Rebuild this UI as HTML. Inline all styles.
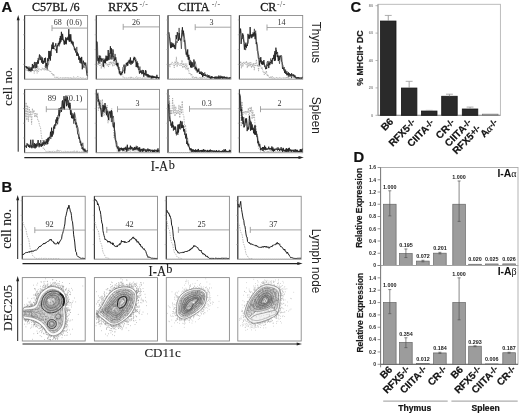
<!DOCTYPE html>
<html><head><meta charset="utf-8"><title>Figure</title>
<style>
html,body{margin:0;padding:0;background:#fff;}
body{width:520px;height:414px;overflow:hidden;}
svg{display:block;filter:blur(0.3px);}
</style></head>
<body>
<svg width="520" height="414" viewBox="0 0 520 414">
<rect width="520" height="414" fill="#fff"/>
<text x="1.6" y="11.7" font-family="'Liberation Sans', sans-serif" font-size="14.8" font-weight="bold" fill="#111" text-anchor="start" stroke="#111" stroke-width="0.2" >A</text>
<text x="32" y="10.6" font-family="'Liberation Serif', serif" font-size="12.1" font-weight="normal" fill="#1a1a1a" text-anchor="start" stroke="#1a1a1a" stroke-width="0.3" >C57BL /6</text>
<text x="108.3" y="10.6" font-family="'Liberation Serif', serif" font-size="12.1" font-weight="normal" fill="#1a1a1a" text-anchor="start" stroke="#1a1a1a" stroke-width="0.3" >RFX5</text>
<text x="139.4" y="7" font-family="'Liberation Serif', serif" font-size="7.8" font-weight="normal" fill="#444" text-anchor="start"  letter-spacing="0.5">-/-</text>
<text x="178.1" y="10.6" font-family="'Liberation Serif', serif" font-size="12.1" font-weight="normal" fill="#1a1a1a" text-anchor="start" stroke="#1a1a1a" stroke-width="0.3" >CIITA</text>
<text x="211.7" y="7" font-family="'Liberation Serif', serif" font-size="7.8" font-weight="normal" fill="#444" text-anchor="start"  letter-spacing="0.5">-/-</text>
<text x="260.2" y="10.6" font-family="'Liberation Serif', serif" font-size="12.1" font-weight="normal" fill="#1a1a1a" text-anchor="start" stroke="#1a1a1a" stroke-width="0.3" >CR</text>
<text x="277" y="7" font-family="'Liberation Serif', serif" font-size="7.8" font-weight="normal" fill="#444" text-anchor="start"  letter-spacing="0.5">-/-</text>
<rect x="24.6" y="15.5" width="63" height="63.7" fill="none" stroke="#8a8a8a" stroke-width="0.9"/>
<line x1="24.6" y1="15.5" x2="24.6" y2="79.2" stroke="#3a3a3a" stroke-width="1.1" />
<line x1="23" y1="64.39" x2="24.6" y2="64.39" stroke="#999" stroke-width="0.6" />
<line x1="23" y1="49.57" x2="24.6" y2="49.57" stroke="#999" stroke-width="0.6" />
<line x1="23" y1="34.76" x2="24.6" y2="34.76" stroke="#999" stroke-width="0.6" />
<line x1="23" y1="19.94" x2="24.6" y2="19.94" stroke="#999" stroke-width="0.6" />
<line x1="24.6" y1="79.2" x2="87.6" y2="79.2" stroke="#bbb" stroke-width="0.8" stroke-dasharray="1,1"/>
<rect x="96.3" y="15.5" width="63.2" height="63.7" fill="none" stroke="#8a8a8a" stroke-width="0.9"/>
<line x1="96.3" y1="15.5" x2="96.3" y2="79.2" stroke="#3a3a3a" stroke-width="1.1" />
<line x1="94.7" y1="64.39" x2="96.3" y2="64.39" stroke="#999" stroke-width="0.6" />
<line x1="94.7" y1="49.57" x2="96.3" y2="49.57" stroke="#999" stroke-width="0.6" />
<line x1="94.7" y1="34.76" x2="96.3" y2="34.76" stroke="#999" stroke-width="0.6" />
<line x1="94.7" y1="19.94" x2="96.3" y2="19.94" stroke="#999" stroke-width="0.6" />
<line x1="96.3" y1="79.2" x2="159.5" y2="79.2" stroke="#bbb" stroke-width="0.8" stroke-dasharray="1,1"/>
<rect x="168" y="15.5" width="62.9" height="63.7" fill="none" stroke="#8a8a8a" stroke-width="0.9"/>
<line x1="168" y1="15.5" x2="168" y2="79.2" stroke="#3a3a3a" stroke-width="1.1" />
<line x1="166.4" y1="64.39" x2="168" y2="64.39" stroke="#999" stroke-width="0.6" />
<line x1="166.4" y1="49.57" x2="168" y2="49.57" stroke="#999" stroke-width="0.6" />
<line x1="166.4" y1="34.76" x2="168" y2="34.76" stroke="#999" stroke-width="0.6" />
<line x1="166.4" y1="19.94" x2="168" y2="19.94" stroke="#999" stroke-width="0.6" />
<line x1="168" y1="79.2" x2="230.9" y2="79.2" stroke="#bbb" stroke-width="0.8" stroke-dasharray="1,1"/>
<rect x="239.4" y="15.5" width="63.3" height="63.7" fill="none" stroke="#8a8a8a" stroke-width="0.9"/>
<line x1="239.4" y1="15.5" x2="239.4" y2="79.2" stroke="#3a3a3a" stroke-width="1.1" />
<line x1="237.8" y1="64.39" x2="239.4" y2="64.39" stroke="#999" stroke-width="0.6" />
<line x1="237.8" y1="49.57" x2="239.4" y2="49.57" stroke="#999" stroke-width="0.6" />
<line x1="237.8" y1="34.76" x2="239.4" y2="34.76" stroke="#999" stroke-width="0.6" />
<line x1="237.8" y1="19.94" x2="239.4" y2="19.94" stroke="#999" stroke-width="0.6" />
<line x1="239.4" y1="79.2" x2="302.7" y2="79.2" stroke="#bbb" stroke-width="0.8" stroke-dasharray="1,1"/>
<rect x="24.6" y="89.4" width="63" height="63.3" fill="none" stroke="#8a8a8a" stroke-width="0.9"/>
<line x1="24.6" y1="89.4" x2="24.6" y2="152.7" stroke="#3a3a3a" stroke-width="1.1" />
<line x1="23" y1="137.98" x2="24.6" y2="137.98" stroke="#999" stroke-width="0.6" />
<line x1="23" y1="123.26" x2="24.6" y2="123.26" stroke="#999" stroke-width="0.6" />
<line x1="23" y1="108.54" x2="24.6" y2="108.54" stroke="#999" stroke-width="0.6" />
<line x1="23" y1="93.82" x2="24.6" y2="93.82" stroke="#999" stroke-width="0.6" />
<line x1="24.6" y1="152.7" x2="87.6" y2="152.7" stroke="#bbb" stroke-width="0.8" stroke-dasharray="1,1"/>
<rect x="96.3" y="89.4" width="63.2" height="63.3" fill="none" stroke="#8a8a8a" stroke-width="0.9"/>
<line x1="96.3" y1="89.4" x2="96.3" y2="152.7" stroke="#3a3a3a" stroke-width="1.1" />
<line x1="94.7" y1="137.98" x2="96.3" y2="137.98" stroke="#999" stroke-width="0.6" />
<line x1="94.7" y1="123.26" x2="96.3" y2="123.26" stroke="#999" stroke-width="0.6" />
<line x1="94.7" y1="108.54" x2="96.3" y2="108.54" stroke="#999" stroke-width="0.6" />
<line x1="94.7" y1="93.82" x2="96.3" y2="93.82" stroke="#999" stroke-width="0.6" />
<line x1="96.3" y1="152.7" x2="159.5" y2="152.7" stroke="#bbb" stroke-width="0.8" stroke-dasharray="1,1"/>
<rect x="168" y="89.4" width="62.9" height="63.3" fill="none" stroke="#8a8a8a" stroke-width="0.9"/>
<line x1="168" y1="89.4" x2="168" y2="152.7" stroke="#3a3a3a" stroke-width="1.1" />
<line x1="166.4" y1="137.98" x2="168" y2="137.98" stroke="#999" stroke-width="0.6" />
<line x1="166.4" y1="123.26" x2="168" y2="123.26" stroke="#999" stroke-width="0.6" />
<line x1="166.4" y1="108.54" x2="168" y2="108.54" stroke="#999" stroke-width="0.6" />
<line x1="166.4" y1="93.82" x2="168" y2="93.82" stroke="#999" stroke-width="0.6" />
<line x1="168" y1="152.7" x2="230.9" y2="152.7" stroke="#bbb" stroke-width="0.8" stroke-dasharray="1,1"/>
<rect x="239.4" y="89.4" width="63.3" height="63.3" fill="none" stroke="#8a8a8a" stroke-width="0.9"/>
<line x1="239.4" y1="89.4" x2="239.4" y2="152.7" stroke="#3a3a3a" stroke-width="1.1" />
<line x1="237.8" y1="137.98" x2="239.4" y2="137.98" stroke="#999" stroke-width="0.6" />
<line x1="237.8" y1="123.26" x2="239.4" y2="123.26" stroke="#999" stroke-width="0.6" />
<line x1="237.8" y1="108.54" x2="239.4" y2="108.54" stroke="#999" stroke-width="0.6" />
<line x1="237.8" y1="93.82" x2="239.4" y2="93.82" stroke="#999" stroke-width="0.6" />
<line x1="239.4" y1="152.7" x2="302.7" y2="152.7" stroke="#bbb" stroke-width="0.8" stroke-dasharray="1,1"/>
<line x1="18.2" y1="18" x2="18.2" y2="151.7" stroke="#222" stroke-width="1" />
<path d="M16.7,20.3 L18.2,15 L19.7,20.3 Z" fill="#222"/>
<line x1="24.3" y1="157.6" x2="300.8" y2="157.6" stroke="#222" stroke-width="1.1" />
<path d="M298.5,156.1 L303.8,157.6 L298.5,159.1 Z" fill="#222"/>
<text x="0" y="0" font-family="'Liberation Serif', serif" font-size="13.2" font-weight="normal" fill="#1a1a1a" text-anchor="start" stroke="#1a1a1a" stroke-width="0.1" transform="translate(12.3,105.9) rotate(-90)">cell no.</text>
<text x="150.7" y="171.1" font-family="'Liberation Serif', serif" font-size="12.6" font-weight="normal" fill="#1a1a1a" text-anchor="start" stroke="#1a1a1a" stroke-width="0.1" transform="translate(150.7,171.1) scale(1,1.08) translate(-150.7,-171.1)">I-A</text>
<text x="168.7" y="169.1" font-family="'Liberation Serif', serif" font-size="12.3" font-weight="normal" fill="#1a1a1a" text-anchor="start" stroke="#1a1a1a" stroke-width="0.1" >b</text>
<text x="0" y="0" font-family="'Liberation Sans', sans-serif" font-size="12.2" font-weight="normal" fill="#222" text-anchor="start"  transform="translate(311.8,21.8) rotate(90) scale(0.95,1)">Thymus</text>
<text x="0" y="0" font-family="'Liberation Sans', sans-serif" font-size="12.2" font-weight="normal" fill="#222" text-anchor="start"  transform="translate(311.8,96.8) rotate(90) scale(0.98,1)">Spleen</text>
<polyline points="25.3,70.52 26.05,68.96 26.79,70.46 27.54,69.36 28.28,71.89 29.03,69.57 29.78,72.26 30.52,69.14 31.27,72.11 32.02,69.49 32.76,70.8 33.51,69.62 34.25,73.39 35,68.26 35.71,71.02 36.43,68.93 37.14,73.35 37.86,66.23 38.57,71.55 39.29,68.64 40,70.14 40.71,69.29 41.43,70.38 42.14,67.83 42.86,69.77 43.57,68.21 44.29,70.43 45,65.33 45.71,70.28 46.43,66.86 47.14,71.05 47.86,68.74 48.57,71.3 49.29,70.7 50,72.22 50.75,71.13 51.5,73.75 52.25,73.01 53,75.72 53.75,73.82 54.5,77.29 55.25,77.18 56,78.1 56.7,76.75 57.41,77.84 58.11,76.88 58.82,78.4 59.52,77.58 60.23,77.88 60.93,77.24 61.64,78.16 62.34,77.78 63.05,78.4 63.75,77.26 64.45,78.3 65.16,77.19 65.86,78.4 66.57,77.6 67.27,77.94 67.98,76.98 68.68,78.29 69.39,77.47 70.09,78.19 70.8,77.05 71.5,78.4 72.2,77.56 72.91,78.4 73.61,76.59 74.32,78.4 75.02,77.78 75.73,78.4 76.43,77.58 77.14,78.4 77.84,76.36 78.55,78.19 79.25,77.51 79.95,78.4 80.66,77.37 81.36,78.4 82.07,77.89 82.77,78.14 83.48,77.72 84.18,78.4 84.89,77.62 85.59,78.32 86.3,77.66 87,78.4" fill="none" stroke="#8c8c8c" stroke-width="0.6" stroke-linejoin="round" stroke-dasharray="1.5,1"/>
<polyline points="96.8,67.33 97.55,61.52 98.29,65.37 99.04,58.88 99.78,65.65 100.53,61.81 101.27,68.7 102.02,63.52 102.76,66.65 103.51,60.6 104.25,68.18 105,62.57 105.7,64.39 106.4,63.16 107.1,65.69 107.8,63.69 108.5,66.97 109.2,62.28 109.9,65.08 110.6,61.3 111.3,64.07 112,61.71 112.75,66.53 113.5,60.52 114.25,65.75 115,61.53 115.75,65.72 116.5,65.34 117.25,66.65 118,62.59 118.75,69.42 119.5,66.87 120.25,74.27 121,71.68 121.75,74.7 122.5,73.93 123.25,77.9 124,77.56 124.7,77.9 125.4,77.69 126.1,78.21 126.8,77.68 127.5,78 128.2,77.4 128.9,77.81 129.6,77.28 130.3,78.21 131,76.42 131.7,78.05 132.4,77.53 133.1,78.09 133.8,77.83 134.5,78.4 135.2,77.62 135.9,78.12 136.6,76.61 137.3,78.4 138,77.11 138.7,78.04 139.4,77.61 140.1,78.05 140.8,77.61 141.5,78.33 142.2,77.72 142.9,78.26 143.6,76.33 144.3,78.16 145,77.57 145.7,78 146.4,77.8 147.1,77.99 147.8,76.21 148.5,78.27 149.2,77.32 149.9,78.4 150.6,77.93 151.3,78.4 152,77.45 152.7,78.4 153.4,76.93 154.1,78.21 154.8,77.78 155.5,78.38 156.2,77.32 156.9,78.4 157.6,77.33 158.3,78.4 159,77.58" fill="none" stroke="#8c8c8c" stroke-width="0.6" stroke-linejoin="round" stroke-dasharray="1.5,1"/>
<polyline points="168.5,67.87 169.22,63.54 169.94,67.1 170.67,63.61 171.39,64.5 172.11,61.93 172.83,64.37 173.56,63.77 174.28,67.98 175,61.28 175.7,64.76 176.4,56.87 177.1,66.98 177.8,61.63 178.5,64.69 179.2,63.66 179.9,65.83 180.6,63.42 181.3,65.66 182,60.04 182.8,68.09 183.6,63.13 184.4,67.7 185.2,63.3 186,69.56 186.8,63.67 187.6,70.06 188.4,67.68 189.2,73.98 190,73 190.8,75.3 191.6,73.56 192.4,77.99 193.2,76.57 194,78.4 194.7,77.1 195.4,77.93 196.11,76.41 196.81,78.4 197.51,77.74 198.21,78.23 198.91,77.53 199.62,78.1 200.32,76.77 201.02,78.4 201.72,77.03 202.42,78.4 203.12,76.82 203.83,77.96 204.53,77.33 205.23,78.4 205.93,77.77 206.63,77.94 207.34,76.89 208.04,78.04 208.74,76.32 209.44,78.14 210.14,76.64 210.85,78.4 211.55,77.68 212.25,78.31 212.95,77.9 213.65,78.4 214.36,77.87 215.06,78.4 215.76,77.89 216.46,78.4 217.16,76.98 217.87,78.4 218.57,77.52 219.27,78.4 219.97,76.77 220.67,78.4 221.38,76.73 222.08,78.4 222.78,77.21 223.48,77.99 224.18,77.87 224.88,78.01 225.59,77.62 226.29,78.14 226.99,76.89 227.69,78.02 228.39,77.67 229.1,78.4 229.8,77.88 230.5,78.4" fill="none" stroke="#8c8c8c" stroke-width="0.6" stroke-linejoin="round" stroke-dasharray="1.5,1"/>
<polyline points="240,65.44 240.73,61.21 241.45,68.27 242.18,62.45 242.91,66.62 243.64,61.94 244.36,64.02 245.09,61.91 245.82,64.43 246.55,60.94 247.27,68.06 248,62.34 248.7,66.4 249.4,62.53 250.1,66.34 250.8,62 251.5,67.98 252.2,63.7 252.9,67.06 253.6,63.05 254.3,70.13 255,63.15 255.71,65.76 256.43,59.4 257.14,66.61 257.86,64.54 258.57,71.11 259.29,63.77 260,66.71 260.71,65.25 261.43,69.12 262.14,67.1 262.86,71.61 263.57,71.08 264.29,74.95 265,71.89 265.71,73.98 266.43,70.68 267.14,76.12 267.86,74.36 268.57,77.19 269.29,77.19 270,78.4 270.71,76.56 271.42,78.13 272.13,76.1 272.84,78.4 273.56,77.32 274.27,78.4 274.98,77.73 275.69,78.21 276.4,77.19 277.11,78.4 277.82,77.77 278.53,78.04 279.24,77.27 279.96,77.87 280.67,77.72 281.38,78.4 282.09,77.62 282.8,78.4 283.51,77.81 284.22,78.4 284.93,77.33 285.64,78.4 286.36,77.15 287.07,78.33 287.78,76.22 288.49,78.33 289.2,77.62 289.91,78.4 290.62,77.67 291.33,77.99 292.04,77.62 292.76,78.4 293.47,77.31 294.18,78.18 294.89,77.54 295.6,78.4 296.31,76.86 297.02,78.4 297.73,77.58 298.44,78.17 299.16,77.88 299.87,78.24 300.58,77.4 301.29,78.4 302,77.36" fill="none" stroke="#8c8c8c" stroke-width="0.6" stroke-linejoin="round" stroke-dasharray="1.5,1"/>
<polyline points="25.3,116.88 26.08,102.4 26.87,120.25 27.65,105.37 28.43,121.81 29.22,107.3 30,116.91 30.8,110.63 31.6,124.45 32.4,108.48 33.2,113.23 34,110.09 34.75,117.32 35.5,113.32 36.25,117.2 37,112.96 37.83,120.6 38.67,120.72 39.5,125.54 40.5,127.2 41.5,137.17 42.4,140.04 43.3,149.02 44.2,148.72 45.1,150.71 46,151.38 46.71,151.5 47.41,151.37 48.12,151.6 48.83,150.54 49.53,151.83 50.24,150.71 50.95,151.84 51.66,151.37 52.36,151.85 53.07,150.8 53.78,151.9 54.48,151.49 55.19,151.9 55.9,151 56.6,151.9 57.31,149.64 58.02,151.9 58.72,150.43 59.43,151.85 60.14,150.61 60.84,151.9 61.55,151.23 62.26,151.9 62.97,151.49 63.67,151.9 64.38,151.15 65.09,151.65 65.79,151.25 66.5,151.9 67.21,151.03 67.91,151.9 68.62,150.99 69.33,151.77 70.03,151.24 70.74,151.88 71.45,151.06 72.16,151.9 72.86,151.19 73.57,151.85 74.28,150.27 74.98,151.9 75.69,151.63 76.4,151.8 77.1,150.34 77.81,151.9 78.52,151.3 79.22,151.9 79.93,151.78 80.64,151.9 81.34,151.69 82.05,151.9 82.76,151.22 83.47,151.9 84.17,151.78 84.88,151.9 85.59,151.53 86.29,151.9 87,151.77" fill="none" stroke="#8a8a8a" stroke-width="0.6" stroke-linejoin="round" stroke-dasharray="1.5,1"/>
<polyline points="96.8,101.55 97.6,96.84 98.4,110.48 99.2,103.08 100,108.03 100.8,99.8 101.6,111.91 102.4,99.13 103.2,115.48 104,108.8 104.8,115.28 105.6,112.04 106.4,113.95 107.2,105.02 108,123.16 108.75,110.59 109.5,120.46 110.25,110.81 111,116.99 111.75,108.59 112.5,126.76 113.25,123.83 114,138.02 114.83,133.55 115.67,143.15 116.5,140.65 117.25,151.34 118,149.18 118.71,151.28 119.41,148.77 120.12,150.55 120.83,150.21 121.53,151.3 122.24,149.67 122.95,151.9 123.66,149.15 124.36,151.9 125.07,149.99 125.78,151.88 126.48,149.35 127.19,150.75 127.9,150.67 128.6,151.27 129.31,148.9 130.02,151.9 130.72,150.76 131.43,151.04 132.14,150.5 132.84,150.95 133.55,150.09 134.26,151.69 134.97,150.61 135.67,151.1 136.38,150.36 137.09,151.25 137.79,148.44 138.5,151.9 139.21,151.15 139.91,151.9 140.62,151.07 141.33,151.42 142.03,150.12 142.74,151.57 143.45,151.13 144.16,151.8 144.86,150.97 145.57,151.51 146.28,150.87 146.98,151.65 147.69,151.52 148.4,151.9 149.1,151.42 149.81,151.9 150.52,150.8 151.22,151.9 151.93,151.26 152.64,151.9 153.34,151.67 154.05,151.9 154.76,151.71 155.47,151.9 156.17,151.57 156.88,151.9 157.59,151.64 158.29,151.9 159,151.74" fill="none" stroke="#8a8a8a" stroke-width="0.6" stroke-linejoin="round" stroke-dasharray="1.5,1"/>
<polyline points="168.5,114.57 169.33,94.87 170.17,114.57 171,109.59 171.8,114.52 172.6,98.1 173.4,113.48 174.2,104.7 175,116.31 175.8,106.57 176.6,114.54 177.4,110.46 178.2,113.99 179,104.86 179.8,117.9 180.6,105.95 181.4,113.71 182.2,100.99 183,114.24 183.83,115.9 184.67,127.7 185.5,124.88 186.33,133.41 187.17,139.18 188,146.44 189,146.64 190,151.8 190.71,149.19 191.42,151.9 192.13,150.99 192.84,151.29 193.55,150.57 194.26,151.9 194.97,150.31 195.68,151.72 196.39,150.56 197.11,151.76 197.82,150.35 198.53,151.9 199.24,151.09 199.95,151.78 200.66,150.34 201.37,151.19 202.08,150.87 202.79,151.9 203.5,150.14 204.21,151.7 204.92,149.14 205.63,151.26 206.34,150.57 207.05,151.88 207.76,151.28 208.47,151.9 209.18,149.85 209.89,151.9 210.61,150.41 211.32,151.9 212.03,150.17 212.74,151.9 213.45,151.15 214.16,151.56 214.87,151.31 215.58,151.65 216.29,150.81 217,151.62 217.71,150.64 218.42,151.68 219.13,151.45 219.84,151.9 220.55,151.54 221.26,151.9 221.97,151.62 222.68,151.9 223.39,150.85 224.11,151.9 224.82,151.7 225.53,151.9 226.24,151.41 226.95,151.9 227.66,151.61 228.37,151.9 229.08,151.54 229.79,151.9 230.5,150.76" fill="none" stroke="#8a8a8a" stroke-width="0.6" stroke-linejoin="round" stroke-dasharray="1.5,1"/>
<polyline points="239.8,110.24 240.53,107.42 241.27,126.5 242,101.5 242.8,115.03 243.6,111.4 244.4,113.52 245.2,110.64 246,114.33 246.8,110.87 247.6,112.95 248.4,108.02 249.2,122.73 250,107.02 250.7,112.2 251.4,106.93 252.1,119.09 252.8,110.36 253.5,117.57 254.33,113.91 255.17,127.3 256,125.62 256.83,133.58 257.67,140.17 258.5,148.48 259.5,147.94 260.5,151.47 261.2,150.45 261.91,151.11 262.61,150.23 263.31,151.9 264.02,150.36 264.72,151.9 265.42,150.46 266.13,151.19 266.83,150.89 267.53,151.9 268.24,150.75 268.94,151.9 269.64,150.41 270.35,151.12 271.05,151.11 271.75,151.9 272.46,149.76 273.16,151.9 273.86,149.53 274.57,151.9 275.27,151.1 275.97,151.66 276.68,150.93 277.38,151.9 278.08,151.12 278.79,151.9 279.49,150.85 280.19,151.9 280.9,150.25 281.6,151.9 282.31,151.16 283.01,151.9 283.71,151.14 284.42,151.68 285.12,149.83 285.82,151.9 286.53,151.07 287.23,151.9 287.93,151.21 288.64,151.9 289.34,150.85 290.04,151.84 290.75,151.5 291.45,151.9 292.15,151.57 292.86,151.9 293.56,151.45 294.26,151.8 294.97,151.7 295.67,151.9 296.37,151.2 297.08,151.9 297.78,151.59 298.48,151.9 299.19,151.41 299.89,151.83 300.59,151.42 301.3,151.9 302,151.61" fill="none" stroke="#8a8a8a" stroke-width="0.6" stroke-linejoin="round" stroke-dasharray="1.5,1"/>
<polyline points="25.3,66.65 25.84,66.21 26.39,68.22 26.93,66.6 27.48,67.94 28.02,67.94 28.57,69.48 29.11,68.31 29.66,70.93 30.2,69.76 30.74,70.26 31.29,68.22 31.83,70.25 32.38,63.97 32.92,68.2 33.47,65.32 34.01,68.08 34.56,65.01 35.1,62.14 35.64,65.74 36.19,68.02 36.73,62.16 37.28,63.78 37.82,60.43 38.37,63.68 38.91,58.57 39.46,54.49 40,57.03 40.55,59.7 41.1,58.79 41.65,62.62 42.2,57.45 42.75,63.81 43.3,60.83 43.85,62.67 44.4,58.17 44.95,61.71 45.5,57.69 46.05,66.32 46.6,63.19 47.15,66.45 47.7,58.27 48.25,61.16 48.8,50.93 49.35,58.83 49.9,51.07 50.4,60.55 50.9,51.14 51.4,49.65 51.9,44.62 52.4,48.88 53,42.67 53.6,48.99 54.2,45.93 54.8,46.21 55.3,46.28 55.8,43.26 56.3,47.4 56.8,53.04 57.3,45.27 57.8,45.86 58.3,42.93 58.8,44.72 59.3,41.39 59.8,44.17 60.33,35.96 60.87,41.8 61.4,31.82 61.95,40.1 62.5,34.26 63.05,39.85 63.6,39.98 64.15,44.46 64.7,40.99 65.21,43.97 65.72,37.29 66.24,44.28 66.75,38.24 67.26,39.79 67.78,37.51 68.29,40.36 68.8,29.18 69.3,41.81 69.8,34.25 70.3,41.48 70.8,34.31 71.3,43.42 71.84,40.77 72.39,43.7 72.93,42.24 73.48,46.11 74.02,47.31 74.57,50.26 75.11,48.51 75.66,52.42 76.2,51.52 76.75,55.81 77.3,52.28 77.85,55.92 78.4,54.3 78.95,59.86 79.5,57.7 80.05,62.94 80.6,58.04 81.15,63.56 81.7,56.93 82.25,69.29 82.8,64.79 83.4,60.7 84,64.6 84.6,64.55 85.2,62.8 85.75,66.38 86.3,69.82 86.85,75.1 87.4,76.13" fill="none" stroke="#141414" stroke-width="0.8" stroke-linejoin="round" />
<polyline points="25.9,67.63 26.51,66.39 27.12,68.93 27.74,67.22 28.35,70.88 28.96,66.5 29.58,70.81 30.19,67.34 30.8,71.48 31.41,67.24 32.02,70.87 32.64,67.63 33.25,68.2 33.86,64.81 34.48,61.92 35.09,65.51 35.7,68.28 36.31,64.89 36.93,67.38 37.54,62.79 38.15,58 38.76,60.13 39.38,59.82 39.99,55.12 40.6,59.31 41.26,56.5 41.92,60.25 42.58,60.09 43.24,63.99 43.9,60.9 44.56,62.47 45.22,61.07 45.88,68.02 46.54,63.03 47.2,69.32 47.86,65.33 48.52,64.74 49.18,58.7 49.84,58.03 50.5,51.67 51.12,56.03 51.75,47.75 52.38,48.7 53,42.34 53.8,49.08 54.6,48.49 55.4,50.37 56.02,49.2 56.65,52.22 57.27,46.14 57.9,46.27 58.52,43.21 59.15,46.41 59.77,38.16 60.4,42.8 61.2,38.1 62,39.87 62.66,33.72 63.32,40.87 63.98,39.82 64.64,44.76 65.3,39.84 65.98,43.24 66.67,38.25 67.35,37.53 68.03,36.66 68.72,39.59 69.4,35.07 70.02,39.03 70.65,36.78 71.27,41.94 71.9,40.93 72.51,45.26 73.12,41.64 73.74,46.29 74.35,46.64 74.96,49.38 75.57,49.5 76.19,51.89 76.8,46.92 77.46,54.38 78.12,53.26 78.78,59.3 79.44,56.36 80.1,60.76 80.76,58.39 81.42,56.96 82.08,62.5 82.74,66.46 83.4,65.6 84,68.06 84.6,62.32 85.2,63.95 85.8,62.74 86.53,66.62 87.27,72.98" fill="none" stroke="#262626" stroke-width="0.6" stroke-linejoin="round" />
<polyline points="96.8,41.08 97.3,55.67 97.85,60.92 98.4,58.05 98.95,63.43 99.5,56.33 100.05,59.26 100.6,57.97 101.15,61.92 101.7,58.82 102.25,60.23 102.8,60.56 103.35,66.8 103.9,60.14 104.43,62.83 104.97,58.7 105.5,63.13 106.03,55.67 106.57,60.49 107.1,56.03 107.65,60.52 108.2,50 108.75,59.61 109.3,53.44 109.85,53.64 110.4,46.24 110.9,53.87 111.4,48.29 111.9,59.48 112.4,54.74 112.9,49.35 113.5,52.35 114.1,61.2 114.7,58.66 115.3,59.9 115.8,57.3 116.3,65.03 116.8,63.3 117.3,66.37 117.8,62.96 118.3,69.15 118.8,68.99 119.3,73.48 119.8,71.11 120.3,74.86 120.85,73.15 121.4,74.4 121.95,71.73 122.5,73.1 123.05,67.36 123.6,66.78 124.13,64.59 124.67,73.41 125.2,66.18 125.73,66.2 126.27,62.92 126.8,64.76 127.3,62.29 127.8,65.68 128.3,60.86 128.8,61.48 129.3,59.76 129.85,63.82 130.4,57.45 130.95,64.79 131.5,61.12 132.05,63.35 132.6,61.19 133.12,62.61 133.65,58.18 134.17,59.91 134.7,57.16 135.2,61.25 135.7,60.19 136.2,67.06 136.7,62.22 137.25,67.22 137.8,63.02 138.35,69.43 138.9,69.11 139.45,73.63 140,70.79 140.54,72.63 141.09,71 141.63,73.36 142.18,72.43 142.72,73.69 143.27,70.07 143.81,76.6 144.36,73.02 144.9,74.39 145.44,70.2 145.99,75.67 146.53,74.01 147.08,76.53 147.62,74.26 148.17,77.18 148.71,75 149.26,77.04 149.8,75.62 150.3,76.84 150.8,76.19 151.3,78.4 151.8,75.85 152.3,77.8 152.8,75.94 153.3,77.72 153.8,76.54 154.3,77.79 154.8,76.38 155.33,78.01 155.85,76.67 156.38,78.4 156.9,74.82 157.43,77.93 157.95,76.99 158.47,78.4 159,77.02" fill="none" stroke="#141414" stroke-width="0.8" stroke-linejoin="round" />
<polyline points="97.4,42.05 97.9,57.13 98.56,60.06 99.22,55.22 99.88,61.56 100.54,55.72 101.2,60.51 101.86,58.18 102.52,59.99 103.18,58.39 103.84,61.46 104.5,60.68 105.14,62.63 105.78,58.62 106.42,61.13 107.06,58.61 107.7,60.38 108.36,57.81 109.02,60.05 109.68,54.4 110.34,59.33 111,51.26 111.62,57.34 112.25,53.92 112.88,56.75 113.5,56.01 114.3,58.96 115.1,53.93 115.9,60.08 116.52,60.47 117.15,64.61 117.77,63.77 118.4,68.44 119.02,67.36 119.65,71.06 120.27,73.43 120.9,75.46 121.56,74.13 122.22,73.09 122.88,71.53 123.54,70.99 124.2,69.56 124.84,70.64 125.48,67.29 126.12,66.59 126.76,63.38 127.4,66.04 128.03,62.22 128.65,62.99 129.28,60.8 129.9,62.64 130.56,60.64 131.22,62.89 131.88,60.32 132.54,63.8 133.2,60.96 133.9,56.8 134.6,57.15 135.3,59.03 135.97,58.77 136.63,65.12 137.3,61.28 137.96,67.97 138.62,66.2 139.28,70.02 139.94,66.55 140.6,71.8 141.21,70.06 141.82,74.3 142.44,69.87 143.05,73.13 143.66,71.71 144.28,74.42 144.89,73.28 145.5,75.16 146.11,70.6 146.72,74.49 147.34,74.22 147.95,76.11 148.56,74.33 149.18,77.5 149.79,75.29 150.4,77.28 151.03,75.74 151.65,76.54 152.28,75.65 152.9,78.3 153.53,75.91 154.15,78 154.78,76.89 155.4,77.8 156.1,77.22 156.8,77.83 157.5,77.3 158.2,78.4 158.9,77.31" fill="none" stroke="#262626" stroke-width="0.6" stroke-linejoin="round" />
<polyline points="168.5,33.1 169.03,32.56 169.57,36.75 170.1,43.26 170.6,47.87 171.1,42.22 171.6,47.56 172.1,43.65 172.6,46.9 173.2,43.92 173.8,47.26 174.4,44.96 175,49.07 175.57,45.13 176.13,35.07 176.7,39.14 177.3,32.13 177.9,36.67 178.5,40.59 179.1,33.01 179.67,39.52 180.23,38.75 180.8,40.58 181.33,38.75 181.87,32.82 182.4,27.25 182.97,34.33 183.53,30.71 184.1,41.55 184.63,40.45 185.17,49.27 185.7,49.4 186.2,54.67 186.7,52.8 187.2,56.75 187.7,49.42 188.2,59.6 188.8,54.8 189.4,65.06 190,61.98 190.6,67.38 191.15,61.56 191.7,67.73 192.25,62.25 192.8,67.3 193.35,66.27 193.9,59.5 194.45,62.98 195,69.22 195.55,66.73 196.1,70.54 196.65,67.81 197.2,72.51 197.75,69.71 198.3,71.45 198.85,68.53 199.4,73.92 199.95,72.26 200.5,74.02 201.04,71.42 201.59,75.07 202.13,72.06 202.68,77.02 203.22,73.19 203.77,75.95 204.31,74.95 204.86,75.93 205.4,74.4 205.94,76.39 206.49,75.71 207.03,76.43 207.58,75.84 208.12,77.44 208.67,75.49 209.21,77.31 209.76,77.11 210.3,78.4 210.8,77.09 211.3,78.4 211.8,76.12 212.3,78.17 212.8,77.27 213.3,77.71 213.8,77.21 214.3,78.4 214.8,76.88 215.3,78.4 215.81,77.17 216.31,78.4 216.82,77.51 217.33,78.4 217.83,77.32 218.34,78.4 218.85,75.55 219.35,78.4 219.86,77.58 220.37,78.4 220.87,76.73 221.38,78.16 221.89,76.45 222.39,78.4 222.9,76.56 223.41,78.26 223.91,76.65 224.42,78.23 224.93,77.25 225.43,78.27 225.94,77.33 226.45,78.4 226.95,77.84 227.46,78.4 227.97,77.69 228.47,78.38 228.98,77.66 229.49,78.4 229.99,77.23 230.5,78.4" fill="none" stroke="#141414" stroke-width="0.8" stroke-linejoin="round" />
<polyline points="169.1,36.48 169.9,38.22 170.7,48.16 171.32,45.03 171.95,45.66 172.57,42.82 173.2,44.38 173.8,43.54 174.4,47.34 175,46.8 175.6,49.18 176.45,41.44 177.3,42.7 177.9,39.35 178.5,40.67 179.1,27.91 179.7,37.54 180.55,38.92 181.4,48.86 182.2,30.07 183,36.33 183.85,33.44 184.7,38.73 185.5,44.15 186.3,54.06 186.92,51.64 187.55,55.57 188.17,57.01 188.8,59.64 189.4,57.17 190,62.26 190.6,60.29 191.2,65.22 191.86,63.4 192.52,65.05 193.18,65.29 193.84,66.78 194.5,64.6 195.16,61.53 195.82,64.57 196.48,69.66 197.14,69.48 197.8,71.87 198.46,70.8 199.12,71.85 199.78,72.13 200.44,73.74 201.1,73.25 201.71,74.91 202.32,74.23 202.94,74.94 203.55,73.33 204.16,75.15 204.78,72.32 205.39,75.93 206,74.9 206.61,76.18 207.22,74.4 207.84,77.07 208.45,75.27 209.06,77.5 209.68,75.36 210.29,78.32 210.9,76.4 211.53,78 212.15,76.58 212.78,78.02 213.4,77.12 214.03,77.94 214.65,76.77 215.28,78.4 215.9,76.23 216.51,78.4 217.12,76.29 217.72,78.26 218.33,77.24 218.94,78.4 219.55,76.38 220.16,78.4 220.76,75.61 221.37,78.02 221.98,76.74 222.59,78.39 223.2,77.02 223.8,78.24 224.41,76.46 225.02,78.4 225.63,76.9 226.24,78.4 226.84,76.79 227.45,78.21 228.06,77.82 228.67,78.4 229.28,77.99 229.88,78.4 230.49,77.84" fill="none" stroke="#262626" stroke-width="0.6" stroke-linejoin="round" />
<polyline points="240,33.13 240.55,28.62 241.1,43.96 241.63,38.26 242.17,38.33 242.7,33.35 243.27,38.23 243.83,42.67 244.4,49.63 244.9,44.31 245.4,47.03 245.9,42.67 246.4,47.78 246.9,44.72 247.43,46.03 247.97,33.86 248.5,38.49 249.05,35.12 249.6,38.6 250.15,27.03 250.7,36.37 251.25,34.42 251.8,38.22 252.35,34.05 252.9,36.86 253.45,33.45 254,36.34 254.55,32.16 255.1,39.15 255.63,33.53 256.17,44.07 256.7,42.16 257.23,50.61 257.77,51.58 258.3,58.45 258.8,58.45 259.3,65.45 259.8,60.38 260.3,62.25 260.8,57.14 261.3,64.13 261.8,61.46 262.3,64.87 262.8,61.38 263.3,64.27 263.9,60.03 264.5,66.59 265.1,66.23 265.7,69.2 266.2,67.6 266.7,68.8 267.2,61.8 267.7,61.37 268.2,61.18 268.75,68.07 269.3,62.79 269.85,65.11 270.4,62 270.95,63.33 271.5,60.25 272.1,64.12 272.7,58.01 273.3,59.15 273.9,54.93 274.4,61.03 274.9,51.13 275.4,60.55 275.9,47.66 276.4,54.04 276.9,52.59 277.4,57.06 277.9,55.15 278.4,60.97 278.9,56.01 279.43,59.97 279.97,55.56 280.5,56.63 281,56.21 281.5,61.3 282,62.43 282.5,68.9 283,67.69 283.55,68.59 284.1,69.27 284.65,72.87 285.2,70.6 285.75,73.95 286.3,72.7 286.83,75.25 287.37,73.49 287.9,75.34 288.43,72.33 288.97,75.51 289.5,73.29 290.02,75.01 290.55,74.45 291.07,76.02 291.6,73.25 292.12,75.42 292.65,74.87 293.18,76.41 293.7,74.42 294.3,77.26 294.9,75.82 295.5,78.21 296.1,77.52 296.62,78.4 297.13,77.4 297.65,78.4 298.17,76.99 298.68,78.4 299.2,78.06 299.72,78.4 300.23,77.74 300.75,78.4 301.27,77.97 301.78,78.4 302.3,76.8" fill="none" stroke="#141414" stroke-width="0.8" stroke-linejoin="round" />
<polyline points="240.6,28.77 241.7,38.15 242.5,39.07 243.3,34.73 244.15,41.1 245,45.2 245.62,50.12 246.25,45.2 246.88,45.74 247.5,44.14 248.3,43.07 249.1,34.88 249.76,38.21 250.42,34.26 251.08,37.7 251.74,34.97 252.4,35.73 253.06,32.22 253.72,35.43 254.38,28.83 255.04,34.67 255.7,30.69 256.5,42.91 257.3,44.75 258.1,52.86 258.9,56.27 259.53,59.55 260.15,58.09 260.78,62.15 261.4,60.22 262.03,63.55 262.65,61.76 263.28,64.55 263.9,62.65 264.7,64.91 265.5,65.84 266.3,69.03 266.93,64.31 267.55,65.97 268.18,63.61 268.8,64.46 269.46,61.57 270.12,62.75 270.78,58.45 271.44,62.16 272.1,60.72 272.9,57.73 273.7,57.34 274.5,53.32 275.12,54.22 275.75,56.85 276.38,50.02 277,53.47 277.62,52 278.25,60.75 278.88,59.01 279.5,63.81 280.3,56.4 281.1,55.04 281.73,55.9 282.35,64.39 282.98,64.78 283.6,70.35 284.26,66.99 284.92,73.08 285.58,69.5 286.24,73.45 286.9,71.02 287.54,73.69 288.18,73.56 288.82,77.13 289.46,74.43 290.1,76.64 290.8,74.34 291.5,78.06 292.2,74.3 292.9,75.4 293.6,75.14 294.3,75.9 294.9,75.03 295.5,77.16 296.1,77.08 296.7,78.4 297.32,77.37 297.94,78.38 298.56,77.82 299.18,78.4 299.8,77.41 300.42,78.4 301.04,77.67 301.66,78.4 302.28,78.23" fill="none" stroke="#262626" stroke-width="0.6" stroke-linejoin="round" />
<polyline points="25.3,146.64 25.84,145.6 26.39,147.85 26.93,144.82 27.48,144.79 28.02,143.96 28.57,146.83 29.11,144.83 29.66,147.12 30.2,145.99 30.74,139.79 31.29,145.37 31.83,148.24 32.38,146.23 32.92,139.7 33.47,144.97 34.01,146.66 34.56,143.2 35.1,148.44 35.6,143.97 36.1,147.67 36.6,144.57 37.1,146.5 37.6,143 38.1,140.02 38.6,142.9 39.1,147.28 39.6,143.15 40.1,145.67 40.64,144.27 41.19,146.97 41.73,143.69 42.28,146.02 42.82,142.36 43.37,144.42 43.91,140.37 44.46,143.7 45,142.3 45.55,144.02 46.1,141.23 46.65,142.62 47.2,138.96 47.75,144.06 48.3,137.59 48.85,140.51 49.4,136.92 49.95,137.97 50.5,131.75 51.05,136.88 51.6,127.65 52.13,136.36 52.67,131.1 53.2,133.07 53.73,126.71 54.27,128.29 54.8,124.33 55.35,125.42 55.9,119.55 56.45,122.98 57,116.99 57.5,120.74 58,115.1 58.5,115.28 59,108.37 59.5,116.24 60,108.16 60.5,109.2 61,107.39 61.5,111.85 62,105.88 62.5,100.4 63,103.3 63.5,108.39 64,96.11 64.5,109.74 65,98.86 65.5,101.04 66,95.59 66.5,106.21 67,101.72 67.5,97.12 68,103.36 68.5,107.46 69,102.78 69.5,109.9 70,102.89 70.5,114.61 71,110.18 71.5,118.08 72,113.18 72.5,118 73,116.28 73.5,118.36 74,113.61 74.5,120.56 75,119.04 75.5,124.38 76,123.13 76.5,122.72 77.1,127.74 77.7,134.18 78.3,134.15 78.87,138.71 79.43,137.3 80,142.69 80.5,141.47 81,145.51 81.5,143.83 82.03,148.9 82.55,147.33 83.07,150.18 83.6,148.67 84.2,150.68 84.8,149.26 85.4,151.21 86,150.73 86.7,151.41 87.4,150.3" fill="none" stroke="#141414" stroke-width="0.8" stroke-linejoin="round" />
<polyline points="25.9,146.47 26.51,144.3 27.12,142.99 27.74,145.93 28.35,146.54 28.96,146.5 29.58,147.85 30.19,145.38 30.8,147.59 31.41,145.16 32.02,147.04 32.64,146.11 33.25,148.05 33.86,145.3 34.48,148.04 35.09,144.85 35.7,146.42 36.33,143.23 36.95,145.37 37.58,144.78 38.2,145.44 38.83,143.42 39.45,145.17 40.08,144.88 40.7,140.05 41.31,143.42 41.93,145.26 42.54,144.3 43.15,144.79 43.76,143.75 44.38,145.73 44.99,141.85 45.6,144.57 46.26,139.19 46.92,144.68 47.58,138.2 48.24,141.85 48.9,138.87 49.56,137 50.22,137.6 50.88,139.04 51.54,133.75 52.2,136.58 52.84,132.15 53.48,134.46 54.12,125.27 54.76,128.73 55.4,125.04 56.13,125.64 56.87,118.01 57.6,124.3 58.27,118.23 58.93,118.53 59.6,112.52 60.27,112.54 60.93,107.51 61.6,109.79 62.27,101 62.93,109.65 63.6,105.04 64.35,104.58 65.1,102.39 66.1,99.18 67.1,103.87 67.85,105.24 68.6,100.27 69.35,106.41 70.1,104.98 70.85,111.46 71.6,111.92 72.35,118.81 73.1,115 73.77,123.72 74.43,112.33 75.1,114.6 75.77,118.39 76.43,127.59 77.1,125.48 78,127.84 78.9,132.85 79.75,139.29 80.6,140.55 81.35,144.78 82.1,146.26 82.8,142.8 83.5,148.52 84.2,151.9 84.8,148.54 85.4,151.74 86,150.39 86.6,151.25 87.3,150.71" fill="none" stroke="#262626" stroke-width="0.6" stroke-linejoin="round" />
<polyline points="96.8,93.96 97.45,93.87 98.1,101.8 98.63,99.19 99.17,104.8 99.7,102.42 100.27,107.98 100.83,109.99 101.4,116.49 101.93,112.92 102.47,111.79 103,104.78 103.5,111.47 104,105.66 104.5,109.62 105,103.04 105.5,108.35 106.03,107.71 106.57,115.25 107.1,110.83 107.6,112.49 108.1,114.79 108.6,120.03 109.1,111.68 109.6,113.14 110.2,111.26 110.8,117.71 111.4,110.25 112,117.36 112.57,119.36 113.13,125.42 113.7,127.34 114.23,122.5 114.77,136.19 115.3,140.24 115.87,140.91 116.43,146.65 117,147.4 117.55,147.98 118.1,146.31 118.65,151.38 119.2,148.33 119.75,151.36 120.3,148.02 120.8,149.08 121.3,147.63 121.8,150.01 122.3,148.52 122.8,150.7 123.3,148.46 123.8,150.61 124.3,147.96 124.8,148.88 125.3,147.24 125.8,149.95 126.3,148.37 126.8,151.67 127.31,144.73 127.83,149.55 128.34,148.13 128.85,148.65 129.36,147.68 129.88,149.24 130.39,145.65 130.9,149.5 131.41,146.82 131.93,148.66 132.44,148.59 132.95,150.44 133.46,148.48 133.97,150.16 134.49,146.95 135,149.92 135.52,147.57 136.04,149.51 136.56,147.01 137.07,149.64 137.59,148.27 138.11,149.38 138.63,147.68 139.15,151.25 139.67,147.29 140.19,151.9 140.71,149.46 141.23,150.56 141.74,148.86 142.26,151.9 142.78,148.71 143.3,151.28 143.81,148.3 144.31,150.21 144.82,149.67 145.33,151.52 145.83,150.08 146.34,151.9 146.85,150.26 147.35,150.91 147.86,148.49 148.36,151.33 148.87,149.39 149.38,151.06 149.88,149.56 150.39,150.89 150.9,150.41 151.4,150.77 151.91,149.69 152.42,151.9 152.92,149.89 153.43,151.9 153.94,149.92 154.44,151.9 154.95,150.56 155.45,151.21 155.96,149.88 156.47,151.58 156.97,150.13 157.48,151.9 157.99,148.37 158.49,151.47 159,150.19" fill="none" stroke="#141414" stroke-width="0.8" stroke-linejoin="round" />
<polyline points="97.4,93.33 98.05,92.71 98.7,100.13 99.5,101.08 100.3,108.79 101.15,107.91 102,117.07 102.8,110.62 103.6,111.84 104.22,105.86 104.85,112.41 105.47,106.11 106.1,106.88 106.9,110.31 107.7,117.09 108.32,114.78 108.95,114.91 109.57,111.98 110.2,112.5 110.8,112.24 111.4,122.14 112,111.27 112.6,118.01 113.45,115.95 114.3,128.27 115.1,132.2 115.9,140.92 116.75,142.12 117.6,148.83 118.26,147.54 118.92,148.67 119.58,147.58 120.24,149.66 120.9,148.33 121.55,149.59 122.2,148.02 122.85,149.94 123.5,147.86 124.15,149.8 124.8,148.35 125.45,148.92 126.1,146.48 126.75,149.12 127.4,147.08 128.03,150.91 128.66,147.76 129.29,148.84 129.92,148.31 130.55,149.22 131.18,148.17 131.82,149.04 132.45,147.26 133.08,148.83 133.71,147.81 134.34,149.31 134.97,148.2 135.6,149.23 136.24,145.75 136.88,148.82 137.52,146.24 138.15,150.63 138.79,148.5 139.43,149.53 140.07,148.72 140.71,150.27 141.35,149.62 141.98,150.33 142.62,149.61 143.26,150.38 143.9,150.03 144.5,150.42 145.11,148.94 145.71,150.37 146.32,149.17 146.92,150.52 147.52,149.84 148.13,151.48 148.73,149.92 149.33,150.42 149.94,149.29 150.54,151.9 151.15,150.36 151.75,151.05 152.35,150.37 152.96,151.09 153.56,150.18 154.17,151.9 154.77,149.39 155.37,151.03 155.98,150.65 156.58,150.95 157.18,149.44 157.79,151.08 158.39,150.66 159,151.9" fill="none" stroke="#262626" stroke-width="0.6" stroke-linejoin="round" />
<polyline points="168.5,104.11 169.3,115.86 169.83,121.2 170.37,120.1 170.9,125.63 171.4,123.59 171.9,127.85 172.4,121.45 172.9,126.94 173.4,125.47 173.93,130.01 174.47,127.52 175,129.62 175.57,127.02 176.13,133.72 176.7,132.42 177.3,133.46 177.9,124.69 178.5,132.47 179.1,124.19 179.6,128.63 180.1,123.62 180.6,120.86 181.1,124.56 181.6,127.83 182.1,121.45 182.6,127.89 183.1,125.18 183.6,131.11 184.1,128.99 184.63,134.58 185.17,133.84 185.7,138.48 186.2,133.8 186.7,143.98 187.2,141.36 187.7,144.85 188.2,143.82 188.73,146.6 189.27,147.11 189.8,149.62 190.31,148.33 190.83,150.01 191.34,148.54 191.85,151.86 192.36,149.47 192.88,151.9 193.39,149.49 193.9,151.2 194.4,150.05 194.9,151.81 195.4,149.47 195.91,151.9 196.41,150.13 196.91,151.46 197.41,149.68 197.91,151.47 198.41,148.95 198.91,151.9 199.42,150.52 199.92,151.21 200.42,150.26 200.92,151.41 201.42,149.95 201.92,151.9 202.42,150.19 202.92,151.45 203.43,149.26 203.93,151.55 204.43,150.14 204.93,151.57 205.43,150.29 205.93,151.12 206.43,151.01 206.94,151.9 207.44,149.92 207.94,151.9 208.44,150.89 208.94,151.9 209.44,149.98 209.94,151.37 210.45,149.61 210.95,151.36 211.45,150.71 211.95,151.48 212.45,150.63 212.95,151.68 213.45,150.68 213.95,151.9 214.46,150.62 214.96,151.9 215.46,151.13 215.96,151.9 216.46,150.24 216.96,151.9 217.46,150.92 217.97,151.57 218.47,150.94 218.97,151.9 219.47,151.23 219.97,151.52 220.47,150.99 220.97,151.9 221.48,151.1 221.98,151.9 222.48,150.53 222.98,151.9 223.48,151.35 223.98,151.9 224.48,150.11 224.98,151.39 225.49,149.35 225.99,151.9 226.49,151.2 226.99,151.81 227.49,151.06 227.99,151.9 228.49,151.12 229,151.71 229.5,149.8 230,151.9 230.5,150.13" fill="none" stroke="#141414" stroke-width="0.8" stroke-linejoin="round" />
<polyline points="169.1,101.4 169.9,114.36 170.7,121.42 171.5,123.06 172.12,126.92 172.75,121.98 173.38,130.8 174,125.93 174.8,128.13 175.6,126.32 176.45,135.36 177.3,131.14 177.9,134.94 178.5,124.89 179.1,127.24 179.7,124.38 180.32,129.51 180.95,121.71 181.57,128.26 182.2,125.06 182.82,127.23 183.45,126.16 184.07,131.95 184.7,129.19 185.5,133.31 186.3,134.52 186.92,138.12 187.55,138.05 188.17,146.14 188.8,143.78 189.6,147.92 190.4,149.08 191.08,151.28 191.77,149.26 192.45,150.38 193.13,150.16 193.82,151.9 194.5,150.74 195.11,151.9 195.72,149.67 196.33,151.9 196.94,149.97 197.55,151.78 198.16,150.2 198.77,151.41 199.38,150.73 199.99,151.9 200.6,150.47 201.21,151.85 201.82,150.61 202.43,151.9 203.04,149.73 203.65,151.77 204.26,149.74 204.87,151.9 205.48,150.2 206.09,151.44 206.7,150.77 207.31,151.65 207.92,150.65 208.53,151.45 209.14,150.5 209.75,151.9 210.36,150.42 210.97,151.9 211.58,150.13 212.19,151.22 212.8,151.14 213.41,151.26 214.02,150.92 214.63,151.32 215.24,151.01 215.85,151.45 216.46,150.06 217.07,151.82 217.68,151.03 218.29,151.9 218.9,149.98 219.51,151.34 220.12,151.12 220.73,151.9 221.34,150.87 221.95,151.9 222.56,150.75 223.17,151.9 223.78,149.31 224.39,151.9 225,149.21 225.61,151.9 226.22,150.7 226.83,151.9 227.44,151.18 228.05,151.5 228.66,150.86 229.27,151.9 229.88,151.19 230.49,151.5" fill="none" stroke="#262626" stroke-width="0.6" stroke-linejoin="round" />
<polyline points="239.8,93.73 240.3,100.52 240.83,111.39 241.37,108.81 241.9,120.5 242.4,116.52 242.9,124.1 243.4,120.86 243.9,127.34 244.4,125.96 244.93,125.74 245.47,118.56 246,122.6 246.57,118.34 247.13,131.12 247.7,127.38 248.3,129.57 248.9,125.5 249.5,115.92 250.1,121.09 250.6,130.73 251.1,122.27 251.6,129.87 252.1,124.41 252.6,129.76 253.1,128.02 253.6,133.33 254.1,128.84 254.6,134.56 255.1,125.28 255.63,134.91 256.17,131.32 256.7,136.75 257.23,136.41 257.77,143.23 258.3,141.31 258.8,145.65 259.3,144.19 259.8,147.14 260.3,147.85 260.8,149.97 261.35,148.4 261.9,148.93 262.45,147.07 263,151.01 263.55,147.14 264.1,149.67 264.62,145.59 265.14,149.91 265.65,146.9 266.17,149.73 266.69,148.92 267.21,149.36 267.73,148.73 268.25,149.13 268.76,146.65 269.28,149.56 269.8,148.08 270.31,148.64 270.82,147.99 271.34,149.63 271.85,146.43 272.36,150.66 272.88,147.38 273.39,151.55 273.9,148.96 274.41,150.92 274.93,149.12 275.44,149.61 275.95,149.08 276.46,149.46 276.98,149.27 277.49,150.52 278,147.33 278.52,149.92 279.04,148.72 279.56,151.06 280.07,149.28 280.59,149.88 281.11,147.21 281.63,150.44 282.15,149.02 282.67,151.9 283.19,147.86 283.71,150.55 284.23,149.81 284.74,151.44 285.26,150 285.78,151.76 286.3,148.08 286.8,151.9 287.3,149.04 287.8,151.19 288.3,148.16 288.8,151.47 289.3,147.77 289.8,150.35 290.3,149.4 290.8,151.45 291.3,149.77 291.8,151.9 292.3,149.78 292.8,150.64 293.3,149.8 293.8,151.53 294.3,150.7 294.8,151.74 295.3,149.31 295.8,151.33 296.3,149.79 296.8,151.65 297.3,149.81 297.8,151.77 298.3,151.1 298.8,151.9 299.3,150.74 299.8,151.9 300.3,148.99 300.8,151.86 301.3,149.35 301.8,151.9 302.3,148.57" fill="none" stroke="#141414" stroke-width="0.8" stroke-linejoin="round" />
<polyline points="240.4,95.45 240.9,104.37 241.7,108.66 242.5,117.9 243.12,121.14 243.75,116.99 244.38,127.16 245,123.86 245.8,119.28 246.6,119.44 247.45,126.8 248.3,128.06 248.9,129.28 249.5,122.56 250.1,124.85 250.7,120.8 251.32,123.96 251.95,124.54 252.57,127.56 253.2,127.52 253.82,130.68 254.45,125.74 255.07,130.85 255.7,129.61 256.5,134.46 257.3,134.17 258.1,140.04 258.9,142.23 259.53,144.81 260.15,144.19 260.78,150.23 261.4,148.38 262.06,149.93 262.72,147.46 263.38,149.13 264.04,148.24 264.7,149.42 265.33,147.37 265.97,149.38 266.6,148.39 267.23,149.89 267.87,148.19 268.5,149.06 269.13,148.41 269.77,148.65 270.4,148.31 271.03,150.44 271.66,148.18 272.29,149.43 272.92,148.68 273.55,149.18 274.18,148.66 274.82,150.41 275.45,148.58 276.08,149.28 276.71,147.84 277.34,149.7 277.97,148.97 278.6,149.44 279.24,148.73 279.88,150.21 280.52,149.07 281.15,149.62 281.79,149.23 282.43,150.19 283.07,148.33 283.71,151.15 284.35,149.91 284.98,150.82 285.62,149.13 286.26,150.27 286.9,148.92 287.52,151.39 288.13,149.3 288.75,151.83 289.36,149.71 289.98,150.83 290.59,149.98 291.21,150.74 291.82,150.22 292.44,151.03 293.05,150.39 293.67,151.9 294.28,149.59 294.9,151.9 295.52,150.69 296.13,151.9 296.75,150.85 297.36,151.53 297.98,150.71 298.59,151.9 299.21,151.25 299.82,151.68 300.44,150.55 301.05,151.9 301.67,151.27 302.28,151.9" fill="none" stroke="#262626" stroke-width="0.6" stroke-linejoin="round" />
<line x1="52" y1="28.1" x2="87.6" y2="28.1" stroke="#9a9a9a" stroke-width="0.9" />
<line x1="52" y1="25.1" x2="52" y2="31.1" stroke="#9a9a9a" stroke-width="0.9" />
<text x="53.8" y="24.6" font-family="'Liberation Serif', serif" font-size="8" font-weight="normal" fill="#333" text-anchor="start"  >68</text>
<text x="66.5" y="24.6" font-family="'Liberation Serif', serif" font-size="8" font-weight="normal" fill="#333" text-anchor="start"  >(0.6)</text>
<line x1="123.2" y1="26.9" x2="159.5" y2="26.9" stroke="#9a9a9a" stroke-width="0.9" />
<line x1="123.2" y1="23.9" x2="123.2" y2="29.9" stroke="#9a9a9a" stroke-width="0.9" />
<text x="132" y="24.8" font-family="'Liberation Serif', serif" font-size="8" font-weight="normal" fill="#333" text-anchor="start"  >26</text>
<line x1="195.2" y1="27.2" x2="230.9" y2="27.2" stroke="#9a9a9a" stroke-width="0.9" />
<line x1="195.2" y1="24.2" x2="195.2" y2="30.2" stroke="#9a9a9a" stroke-width="0.9" />
<text x="209.6" y="24.8" font-family="'Liberation Serif', serif" font-size="8" font-weight="normal" fill="#333" text-anchor="start"  >3</text>
<line x1="267" y1="27.5" x2="302.7" y2="27.5" stroke="#9a9a9a" stroke-width="0.9" />
<line x1="267" y1="24.5" x2="267" y2="30.5" stroke="#9a9a9a" stroke-width="0.9" />
<text x="277.4" y="24.8" font-family="'Liberation Serif', serif" font-size="8" font-weight="normal" fill="#333" text-anchor="start"  >14</text>
<line x1="46.3" y1="109.2" x2="87.6" y2="109.2" stroke="#9a9a9a" stroke-width="0.9" />
<line x1="46.3" y1="106.2" x2="46.3" y2="112.2" stroke="#9a9a9a" stroke-width="0.9" />
<text x="47.8" y="100.6" font-family="'Liberation Serif', serif" font-size="8.5" font-weight="normal" fill="#333" text-anchor="start"  >89</text>
<text x="66" y="100.6" font-family="'Liberation Serif', serif" font-size="8.5" font-weight="normal" fill="#333" text-anchor="start"  >(0.1)</text>
<line x1="117.5" y1="109.2" x2="159.5" y2="109.2" stroke="#9a9a9a" stroke-width="0.9" />
<line x1="117.5" y1="106.2" x2="117.5" y2="112.2" stroke="#9a9a9a" stroke-width="0.9" />
<text x="135.6" y="105.6" font-family="'Liberation Serif', serif" font-size="8" font-weight="normal" fill="#333" text-anchor="start"  >3</text>
<line x1="189.5" y1="108.9" x2="230.9" y2="108.9" stroke="#9a9a9a" stroke-width="0.9" />
<line x1="189.5" y1="105.9" x2="189.5" y2="111.9" stroke="#9a9a9a" stroke-width="0.9" />
<text x="201.8" y="106.2" font-family="'Liberation Serif', serif" font-size="8" font-weight="normal" fill="#333" text-anchor="start"  >0.3</text>
<line x1="260.5" y1="109.2" x2="302.7" y2="109.2" stroke="#9a9a9a" stroke-width="0.9" />
<line x1="260.5" y1="106.2" x2="260.5" y2="112.2" stroke="#9a9a9a" stroke-width="0.9" />
<text x="277.5" y="105.6" font-family="'Liberation Serif', serif" font-size="8" font-weight="normal" fill="#333" text-anchor="start"  >2</text>
<text x="1.6" y="191.5" font-family="'Liberation Sans', sans-serif" font-size="14.8" font-weight="bold" fill="#111" text-anchor="start" stroke="#111" stroke-width="0.2" >B</text>
<rect x="22.3" y="196.3" width="62.9" height="62.9" fill="none" stroke="#8a8a8a" stroke-width="0.9"/>
<line x1="22.3" y1="196.3" x2="22.3" y2="259.2" stroke="#3a3a3a" stroke-width="1.1" />
<line x1="20.7" y1="244.57" x2="22.3" y2="244.57" stroke="#999" stroke-width="0.6" />
<line x1="20.7" y1="229.94" x2="22.3" y2="229.94" stroke="#999" stroke-width="0.6" />
<line x1="20.7" y1="215.32" x2="22.3" y2="215.32" stroke="#999" stroke-width="0.6" />
<line x1="20.7" y1="200.69" x2="22.3" y2="200.69" stroke="#999" stroke-width="0.6" />
<line x1="22.3" y1="259.2" x2="85.2" y2="259.2" stroke="#bbb" stroke-width="0.8" stroke-dasharray="1,1"/>
<rect x="94.4" y="196.3" width="63.1" height="62.9" fill="none" stroke="#8a8a8a" stroke-width="0.9"/>
<line x1="94.4" y1="196.3" x2="94.4" y2="259.2" stroke="#3a3a3a" stroke-width="1.1" />
<line x1="92.8" y1="244.57" x2="94.4" y2="244.57" stroke="#999" stroke-width="0.6" />
<line x1="92.8" y1="229.94" x2="94.4" y2="229.94" stroke="#999" stroke-width="0.6" />
<line x1="92.8" y1="215.32" x2="94.4" y2="215.32" stroke="#999" stroke-width="0.6" />
<line x1="92.8" y1="200.69" x2="94.4" y2="200.69" stroke="#999" stroke-width="0.6" />
<line x1="94.4" y1="259.2" x2="157.5" y2="259.2" stroke="#bbb" stroke-width="0.8" stroke-dasharray="1,1"/>
<rect x="166.3" y="196.3" width="63.1" height="62.9" fill="none" stroke="#8a8a8a" stroke-width="0.9"/>
<line x1="166.3" y1="196.3" x2="166.3" y2="259.2" stroke="#3a3a3a" stroke-width="1.1" />
<line x1="164.7" y1="244.57" x2="166.3" y2="244.57" stroke="#999" stroke-width="0.6" />
<line x1="164.7" y1="229.94" x2="166.3" y2="229.94" stroke="#999" stroke-width="0.6" />
<line x1="164.7" y1="215.32" x2="166.3" y2="215.32" stroke="#999" stroke-width="0.6" />
<line x1="164.7" y1="200.69" x2="166.3" y2="200.69" stroke="#999" stroke-width="0.6" />
<line x1="166.3" y1="259.2" x2="229.4" y2="259.2" stroke="#bbb" stroke-width="0.8" stroke-dasharray="1,1"/>
<rect x="237.8" y="196.3" width="63.4" height="62.9" fill="none" stroke="#8a8a8a" stroke-width="0.9"/>
<line x1="237.8" y1="196.3" x2="237.8" y2="259.2" stroke="#3a3a3a" stroke-width="1.1" />
<line x1="236.2" y1="244.57" x2="237.8" y2="244.57" stroke="#999" stroke-width="0.6" />
<line x1="236.2" y1="229.94" x2="237.8" y2="229.94" stroke="#999" stroke-width="0.6" />
<line x1="236.2" y1="215.32" x2="237.8" y2="215.32" stroke="#999" stroke-width="0.6" />
<line x1="236.2" y1="200.69" x2="237.8" y2="200.69" stroke="#999" stroke-width="0.6" />
<line x1="237.8" y1="259.2" x2="301.2" y2="259.2" stroke="#bbb" stroke-width="0.8" stroke-dasharray="1,1"/>
<line x1="17.7" y1="198" x2="17.7" y2="259" stroke="#222" stroke-width="1" />
<path d="M16.2,200.3 L17.7,195 L19.2,200.3 Z" fill="#222"/>
<line x1="22.5" y1="263.6" x2="299.6" y2="263.6" stroke="#222" stroke-width="1.1" />
<path d="M297.3,262.1 L302.6,263.6 L297.3,265.1 Z" fill="#222"/>
<text x="0" y="0" font-family="'Liberation Serif', serif" font-size="13.6" font-weight="normal" fill="#1a1a1a" text-anchor="start" stroke="#1a1a1a" stroke-width="0.1" transform="translate(11.4,248.8) rotate(-90)">cell no.</text>
<text x="148.5" y="276.2" font-family="'Liberation Serif', serif" font-size="12.6" font-weight="normal" fill="#1a1a1a" text-anchor="start" stroke="#1a1a1a" stroke-width="0.1" transform="translate(148.5,276.2) scale(1,1.08) translate(-148.5,-276.2)">I-A</text>
<text x="166.2" y="272.9" font-family="'Liberation Serif', serif" font-size="12.3" font-weight="normal" fill="#1a1a1a" text-anchor="start" stroke="#1a1a1a" stroke-width="0.1" >b</text>
<text x="0" y="0" font-family="'Liberation Sans', sans-serif" font-size="12.2" font-weight="normal" fill="#222" text-anchor="start"  transform="translate(311.6,228.7) rotate(90) scale(0.97,1)">Lymph node</text>
<polyline points="22.6,221.64 23.18,222.55 23.75,224.52 24.32,226.24 24.9,227.26 25.45,228.01 26,229.76 26.55,232.66 27.1,235.11 27.65,237.49 28.2,238.36 28.7,239.35 29.2,242.28 29.7,245.93 30.2,248.56 30.7,249.72 31.3,250.52 31.9,253.24 32.5,255.32 33.1,256.23 33.65,256.61 34.2,256.88 34.75,257.49 35.3,257.87 35.85,258.45 36.4,258.46 36.9,258.41 37.4,258.41 37.91,258.38 38.41,258.47 38.91,258.58 39.41,258.37 39.91,258.32 40.42,258.47 40.92,258.51 41.42,258.29 41.92,258.37 42.43,258.34 42.93,258.48 43.43,258.48 43.93,258.38 44.43,258.35 44.94,258.52 45.44,258.28 45.94,258.53 46.44,258.46 46.94,258.6 47.45,258.58 47.95,258.45 48.45,258.48 48.95,258.49 49.46,258.45 49.96,258.53 50.46,258.6 50.96,258.41 51.46,258.52 51.97,258.6 52.47,258.6 52.97,258.49 53.47,258.49 53.97,258.5 54.48,258.44 54.98,258.6 55.48,258.59 55.98,258.53 56.49,258.47 56.99,258.56 57.49,258.55 57.99,258.6 58.49,258.56 59,258.6 59.5,258.6 60,258.6" fill="none" stroke="#aaaaaa" stroke-width="0.8" stroke-linejoin="round" stroke-dasharray="1.5,1"/>
<polyline points="94.6,221.96 95.12,222 95.63,224.35 96.15,226.15 96.67,227.89 97.18,229.44 97.7,229.76 98.25,230.67 98.8,232.96 99.35,236.76 99.9,240.08 100.45,242.44 101,243.44 101.5,244.33 102,246.71 102.5,249.59 103,252.24 103.5,253.24 104,253.61 104.5,254.83 105,256.06 105.5,257.17 106,257.81 106.5,257.68 107,257.85 107.5,257.96 108,258.15 108.5,258.3 109,258.42 109.5,258.41 110,258.6" fill="none" stroke="#aaaaaa" stroke-width="0.8" stroke-linejoin="round" stroke-dasharray="1.5,1"/>
<polyline points="166.5,220.35 167.1,221.26 167.7,224.98 168.3,228.39 168.9,229.92 169.45,230.36 170,233.54 170.55,237.07 171.1,239.95 171.65,242.56 172.2,243.41 172.7,244.01 173.2,246.88 173.7,249.47 174.2,252.09 174.7,253.06 175.25,253.56 175.8,254.26 176.35,255.39 176.9,256.47 177.45,257.4 178,257.7 178.5,257.8 179,257.96 179.5,258.04 180,258.15 180.5,258.31 181,258.6 181.5,258.58 182,258.6" fill="none" stroke="#aaaaaa" stroke-width="0.8" stroke-linejoin="round" stroke-dasharray="1.5,1"/>
<polyline points="238,222.44 238.51,222.95 239.03,224.29 239.54,226.41 240.06,228.81 240.57,231.52 241.09,232.72 241.6,233.64 242.2,234.9 242.8,239.17 243.4,243.29 244,244.93 244.5,245.88 245,248.38 245.5,251.23 246,253.73 246.5,254.78 247,255.34 247.5,256.03 248,257.07 248.5,258 249,258.4 249.5,258.51 250,258.38 250.5,258.51 251,258.52 251.5,258.51 252,258.49 252.5,258.58 253,258.54" fill="none" stroke="#aaaaaa" stroke-width="0.8" stroke-linejoin="round" stroke-dasharray="1.5,1"/>
<polyline points="22.6,254.98 23.1,254.12 23.6,254.63 24.1,253.52 24.6,253.57 25.1,252.91 25.6,252.82 26.1,252.21 26.6,252.48 27.09,252.08 27.58,252.81 28.07,252.01 28.56,252.08 29.05,251.59 29.54,252.39 30.03,251.13 30.52,251.73 31.01,251.27 31.5,251.59 31.99,250.75 32.48,251.43 32.97,250.83 33.46,251.41 33.95,250.47 34.44,250.61 34.93,250.13 35.42,250.22 35.91,249.78 36.4,250.17 36.87,249.59 37.34,249.21 37.81,248.33 38.29,248.1 38.76,247.09 39.23,246.87 39.7,246.06 40.19,246.75 40.68,245.86 41.17,245.99 41.66,245.25 42.15,244.92 42.64,244.28 43.13,244.31 43.62,243.24 44.11,244.07 44.6,242.98 45.07,243.61 45.54,242.75 46.01,243 46.49,242.14 46.96,242.06 47.43,241.57 47.9,241.74 48.4,241.12 48.9,241.16 49.4,239.83 49.9,239.67 50.4,239.16 50.88,240.24 51.36,239.38 51.84,241.08 52.32,241.14 52.8,241.62 53.3,241.59 53.8,243.13 54.3,242.72 54.8,243.88 55.3,243.6 55.77,244.3 56.24,243.64 56.71,243.95 57.19,243.37 57.66,241.85 58.13,242.89 58.6,244.2 59.08,242.32 59.56,242.31 60.04,240.8 60.52,240.6 61,239.63 61.57,238.77 62.13,234.77 62.7,233.41 63.23,231.35 63.77,229.34 64.3,226.75 64.87,223.94 65.43,217.29 66,215.81 66.53,213.1 67.07,211.12 67.6,207.77 68.25,208.53 68.9,205.11 69.4,207.27 69.9,209.04 70.4,211.81 70.9,211.94 71.43,215.27 71.97,220.43 72.5,221.83 73.07,226.98 73.63,234.8 74.2,238.22 74.73,242.06 75.27,248.1 75.8,251.7 76.37,252.25 76.93,255.61 77.5,256.11 77.97,256.61 78.44,256.64 78.91,257.36 79.39,257.34 79.86,257.79 80.33,257.76 80.8,258.39 81.26,257.91 81.71,258.39 82.17,258.02 82.62,258.27 83.08,258.19 83.53,258.36 83.99,258.13 84.44,258.44 84.9,258.24" fill="none" stroke="#151515" stroke-width="0.95" stroke-linejoin="round" />
<polyline points="94.6,199.51 95.1,199.05 95.6,200.35 96.1,200.05 96.6,201.4 97.1,201.51 97.6,204.84 98.1,203.74 98.6,205.62 99.13,206.75 99.67,210.53 100.2,210.83 100.77,214.59 101.33,219.32 101.9,223.08 102.43,223.94 102.97,230.8 103.5,233.29 104.03,235.47 104.57,237.44 105.1,239.71 105.57,239.04 106.04,240.09 106.51,240.12 106.99,240.7 107.46,240.79 107.93,242.29 108.4,240.99 108.87,241.83 109.34,241.16 109.81,242.39 110.29,241.77 110.76,243.44 111.23,243.05 111.7,243.5 112.16,242.74 112.61,244.69 113.07,242.91 113.52,244.63 113.98,244.89 114.43,245.97 114.89,245.88 115.34,246.65 115.8,246.36 116.27,246.62 116.74,245.75 117.21,246.92 117.69,245.43 118.16,245.41 118.63,244.84 119.1,245.25 119.57,243.63 120.04,244.65 120.51,243.43 120.99,243.41 121.46,240.48 121.93,241.82 122.4,241.17 122.86,242.03 123.31,241.41 123.77,242.2 124.22,241.28 124.68,242.67 125.13,241.52 125.59,242.49 126.04,242 126.5,242.64 126.96,242.16 127.41,242.15 127.87,241.7 128.32,241.85 128.78,240.98 129.23,241.67 129.69,240.06 130.14,240.31 130.6,239.59 131.08,239.79 131.56,238.67 132.04,238.88 132.52,237.42 133,237.63 133.5,236.88 134,238.92 134.5,238.29 135,239.39 135.5,239.07 136,240.49 136.5,239.69 137,242.2 137.5,241.53 138,242.41 138.47,241.69 138.94,243.7 139.41,243.46 139.89,245.05 140.36,244.23 140.83,246.44 141.3,246.35 141.76,247.16 142.21,246.72 142.67,248.22 143.13,248.46 143.59,249.3 144.04,248.56 144.5,249.91 144.96,249.8 145.41,250.68 145.87,251.52 146.32,253.24 146.78,254.06 147.23,255.99 147.69,256.14 148.14,257.54 148.6,256.78 149.07,257.38 149.53,257.28 150,257.51 150.47,257.67 150.93,257.93 151.4,258.1 151.87,258.42 152.33,258.09 152.8,258.5 153.25,258.25 153.7,258.49 154.15,258.19 154.6,258.5 155.05,257.99 155.5,258.48 155.95,258.21 156.4,258.5 156.85,258.31 157.3,258.49" fill="none" stroke="#151515" stroke-width="0.95" stroke-linejoin="round" />
<polyline points="166.5,211.03 167.03,210.41 167.57,212.43 168.1,212.2 168.6,213.75 169.1,213.4 169.6,216.14 170.1,215.68 170.6,217.81 171.13,219.41 171.67,225.28 172.2,225.91 172.77,230.13 173.33,236.62 173.9,240.45 174.38,240.51 174.86,243.67 175.34,246.91 175.82,250.03 176.3,250.18 176.8,250.97 177.3,251.11 177.8,252.68 178.3,252.28 178.8,253.25 179.29,252.89 179.78,253.21 180.27,252.78 180.76,252.85 181.25,252.3 181.74,252.66 182.23,252.42 182.72,252.71 183.21,251.88 183.7,252.81 184.19,251.92 184.68,252.14 185.17,251.3 185.66,251.82 186.15,251.3 186.64,252.01 187.13,250.88 187.62,251.3 188.11,250.48 188.6,250.66 189.07,250.21 189.54,250.74 190.01,249.22 190.49,250.06 190.96,248.44 191.43,248.8 191.9,247.9 192.4,248.32 192.9,246.98 193.4,246.97 193.9,245.46 194.4,246.47 194.88,245.63 195.36,246.31 195.84,246.41 196.32,246.51 196.8,247.16 197.27,247.8 197.74,247.4 198.21,248.84 198.69,249.02 199.16,250.37 199.63,250.1 200.1,251.01 200.57,250.73 201.04,250.01 201.51,251.76 201.99,253.04 202.46,253.01 202.93,254.2 203.4,253.48 203.87,254.52 204.34,254.08 204.81,254.93 205.29,254.82 205.76,256.27 206.23,256.07 206.7,256.42 207.17,255.93 207.64,257.19 208.11,256.92 208.59,257.65 209.06,257.99 209.53,258.39 210,258.1 210.45,258.5 210.9,258.17 211.36,258.5 211.81,258.07 212.26,258.41 212.71,258.35 213.17,258.5 213.62,258.4 214.07,258.5 214.52,258.04 214.98,258.5 215.43,258.13 215.88,258.5 216.33,258.32 216.79,258.41 217.24,258.39 217.69,258.5 218.14,258.17 218.6,258.5 219.05,258.38 219.5,258.5 219.95,258.13 220.4,258.48 220.86,258.36 221.31,258.48 221.76,258.11 222.21,258.5 222.67,257.84 223.12,258.44 223.57,258.33 224.02,258.5 224.48,258.27 224.93,258.46 225.38,258.2 225.83,258.5 226.29,258.13 226.74,258.5 227.19,258.38 227.64,258.5 228.1,258.28 228.55,258.5 229,258.38" fill="none" stroke="#151515" stroke-width="0.95" stroke-linejoin="round" />
<polyline points="238,203.93 238.55,205.41 239.1,207.36 239.63,205.61 240.17,203.88 240.7,201.37 241.15,206.88 241.6,209.68 242.13,212.79 242.67,215.97 243.2,219.02 243.77,220.32 244.33,225.33 244.9,225.86 245.43,229.68 245.97,233.96 246.5,236.73 247.03,236.94 247.57,241.58 248.1,242.33 248.57,242.7 249.04,242.08 249.51,243.43 249.99,242.96 250.46,244.31 250.93,243.98 251.4,244.11 251.86,243.73 252.31,244.77 252.77,244.45 253.22,244.98 253.68,244.91 254.13,245.3 254.59,245.13 255.04,245.66 255.5,245.32 255.96,246.19 256.41,245.37 256.87,246.3 257.32,246.01 257.78,246.74 258.23,246.72 258.69,247.36 259.14,246.91 259.6,247.41 260.05,247.05 260.51,247.4 260.96,247.15 261.42,247.64 261.87,246.6 262.33,246.91 262.78,246.56 263.24,247.42 263.69,246.46 264.15,246.98 264.6,246.04 265.09,247.08 265.58,246.51 266.07,247.43 266.56,246.38 267.05,247.44 267.54,247.02 268.03,247.3 268.52,246.79 269.01,248.34 269.5,247.3 269.99,247.51 270.48,246.76 270.97,246.92 271.46,246.32 271.95,247.04 272.44,245.34 272.93,245.59 273.42,245.03 273.91,245.2 274.4,244.66 274.87,245.14 275.34,244.34 275.81,244.41 276.29,243.21 276.76,244.27 277.23,242.34 277.7,243.5 278.17,243.02 278.64,243.93 279.11,244.28 279.59,243.81 280.06,245.62 280.53,246.57 281,246.24 281.47,246.83 281.94,247.07 282.41,247.89 282.89,248.12 283.36,249.47 283.83,249.48 284.3,250.18 284.76,249.1 285.21,251.19 285.67,251.06 286.13,252.32 286.59,252.29 287.04,253.57 287.5,252.05 287.97,253.44 288.44,253.8 288.91,255.16 289.39,255.3 289.86,256.52 290.33,256.97 290.8,257.68 291.27,256.99 291.74,257.6 292.21,257.57 292.69,258 293.16,257.96 293.63,258.35 294.1,258.26 294.56,258.42 295.02,258.07 295.48,258.5 295.94,258.26 296.4,258.5 296.86,258.38 297.32,258.5 297.78,258.14 298.24,258.5 298.7,258.18 299.16,258.5 299.62,258.18 300.08,258.46 300.54,258.22 301,258.5" fill="none" stroke="#151515" stroke-width="0.95" stroke-linejoin="round" />
<line x1="34.8" y1="230.1" x2="85.2" y2="230.1" stroke="#9a9a9a" stroke-width="0.9" />
<line x1="34.8" y1="227.1" x2="34.8" y2="233.1" stroke="#9a9a9a" stroke-width="0.9" />
<text x="45.4" y="227.4" font-family="'Liberation Serif', serif" font-size="8.3" font-weight="normal" fill="#333" text-anchor="start"  >92</text>
<line x1="106.8" y1="229.9" x2="157.5" y2="229.9" stroke="#9a9a9a" stroke-width="0.9" />
<line x1="106.8" y1="226.9" x2="106.8" y2="232.9" stroke="#9a9a9a" stroke-width="0.9" />
<text x="125.4" y="227.4" font-family="'Liberation Serif', serif" font-size="8.3" font-weight="normal" fill="#333" text-anchor="start"  >42</text>
<line x1="178.4" y1="229.9" x2="229.4" y2="229.9" stroke="#9a9a9a" stroke-width="0.9" />
<line x1="178.4" y1="226.9" x2="178.4" y2="232.9" stroke="#9a9a9a" stroke-width="0.9" />
<text x="197.4" y="227.4" font-family="'Liberation Serif', serif" font-size="8.3" font-weight="normal" fill="#333" text-anchor="start"  >25</text>
<line x1="250.3" y1="229.9" x2="301.2" y2="229.9" stroke="#9a9a9a" stroke-width="0.9" />
<line x1="250.3" y1="226.9" x2="250.3" y2="232.9" stroke="#9a9a9a" stroke-width="0.9" />
<text x="269.2" y="227.4" font-family="'Liberation Serif', serif" font-size="8.3" font-weight="normal" fill="#333" text-anchor="start"  >37</text>
<rect x="22.3" y="277.6" width="62.9" height="63.4" fill="none" stroke="#8a8a8a" stroke-width="0.9"/>
<rect x="94.4" y="277.6" width="63.1" height="63.4" fill="none" stroke="#8a8a8a" stroke-width="0.9"/>
<rect x="166.3" y="277.6" width="63.1" height="63.4" fill="none" stroke="#8a8a8a" stroke-width="0.9"/>
<rect x="237.8" y="277.6" width="63.4" height="63.4" fill="none" stroke="#8a8a8a" stroke-width="0.9"/>
<line x1="17.7" y1="279" x2="17.7" y2="341" stroke="#222" stroke-width="1" />
<path d="M16.2,281.3 L17.7,276 L19.2,281.3 Z" fill="#222"/>
<line x1="22.5" y1="344" x2="299" y2="344" stroke="#222" stroke-width="1.1" />
<path d="M296.7,342.5 L302,344 L296.7,345.5 Z" fill="#222"/>
<text x="0" y="0" font-family="'Liberation Serif', serif" font-size="13.2" font-weight="normal" fill="#1a1a1a" text-anchor="start" stroke="#1a1a1a" stroke-width="0.1" transform="translate(11.8,331) rotate(-90)">DEC205</text>
<text x="144.4" y="356.9" font-family="'Liberation Serif', serif" font-size="13" font-weight="normal" fill="#1a1a1a" text-anchor="start" stroke="#1a1a1a" stroke-width="0.1" >CD11c</text>
<path d="M61.4 288.8h0.65M32.5 306.5h0.65M45.3 332.5h0.65M47.3 287.6h0.65M40.5 322.6h0.65M35.5 295.9h0.65M25.4 320.9h0.65M66.4 321.1h0.65M39.3 301.9h0.65M64.5 301.2h0.65M47.3 287.3h0.65M39.5 300.4h0.65M65.7 297.0h0.65M26.3 316.9h0.65M61.9 287.8h0.65M42.5 289.6h0.65M63.1 286.5h0.65M64.2 324.1h0.65M63.9 318.8h0.65M65.2 318.6h0.65M49.1 289.5h0.65M57.2 288.9h0.65M65.7 322.4h0.65M55.5 335.8h0.65M35.7 321.6h0.65M37.0 291.0h0.65M59.2 332.1h0.65M63.9 291.6h0.65M53.3 285.9h0.65M38.2 298.5h0.65M29.2 322.8h0.65M23.9 320.0h0.65M38.3 300.0h0.65M33.6 294.9h0.65M64.5 296.9h0.65M52.0 333.9h0.65M59.4 291.6h0.65M65.7 327.9h0.65M57.5 338.7h0.65M60.3 332.3h0.65M37.9 320.9h0.65M44.7 286.7h0.65M62.1 329.9h0.65M27.0 318.8h0.65M70.2 302.6h0.65M39.7 299.5h0.65M25.1 319.3h0.65M66.1 305.0h0.65M54.8 283.0h0.65M68.2 299.7h0.65M43.0 290.7h0.65M59.5 331.2h0.65M29.6 302.8h0.65M34.0 303.5h0.65M64.1 327.8h0.65M23.6 316.8h0.65M58.7 334.6h0.65M39.0 295.0h0.65M61.4 334.3h0.65M46.5 332.1h0.65M37.8 322.4h0.65M63.5 286.7h0.65M63.0 290.0h0.65M54.0 333.8h0.65M34.6 323.2h0.65M46.9 281.3h0.65M59.8 330.8h0.65M72.0 329.2h0.65M62.6 326.9h0.65M36.1 322.0h0.65M51.4 285.6h0.65M71.1 304.9h0.65M47.3 289.8h0.65M40.9 296.5h0.65M65.5 304.3h0.65M64.5 330.4h0.65M60.8 291.9h0.65M43.5 328.2h0.65M37.5 305.4h0.65M45.2 330.7h0.65M63.1 323.9h0.65M69.1 314.2h0.65M42.2 324.7h0.65M23.8 315.0h0.65M48.9 333.9h0.65M65.3 290.1h0.65M68.2 310.5h0.65M51.3 287.8h0.65M44.8 329.7h0.65M33.9 305.7h0.65M23.6 309.0h0.65M61.7 290.7h0.65M43.0 333.7h0.65M29.5 306.5h0.65M41.9 327.7h0.65M42.6 323.4h0.65M68.5 301.5h0.65M44.4 327.6h0.65M23.6 318.6h0.65M28.0 319.6h0.65M26.1 319.4h0.65M64.3 308.6h0.65M61.3 285.3h0.65M69.1 283.5h0.65M43.4 281.8h0.65M61.5 330.2h0.65M63.4 308.6h0.65M51.1 287.9h0.65M64.6 311.9h0.65M27.0 319.4h0.65M35.4 294.6h0.65M66.9 291.1h0.65M65.0 315.5h0.65M44.9 289.1h0.65M43.7 289.9h0.65M38.2 298.2h0.65M49.4 335.8h0.65M47.8 290.1h0.65M36.5 303.6h0.65M37.6 297.6h0.65M50.5 335.2h0.65M64.8 304.3h0.65M36.3 301.1h0.65M39.6 326.3h0.65M61.8 331.6h0.65M36.6 298.6h0.65M49.4 331.7h0.65M24.8 316.6h0.65M55.7 335.5h0.65M55.1 288.8h0.65M35.1 304.2h0.65M28.0 320.4h0.65M59.8 287.3h0.65M56.8 337.7h0.65M40.8 326.5h0.65M53.4 337.0h0.65M26.9 305.6h0.65M48.6 333.8h0.65M59.1 281.4h0.65M34.9 303.4h0.65M67.3 309.5h0.65M61.3 288.7h0.65M64.2 321.2h0.65M33.0 302.3h0.65M37.8 293.7h0.65M55.7 336.6h0.65M67.5 302.3h0.65M65.9 326.7h0.65M62.8 331.3h0.65M24.4 317.8h0.65M44.3 329.7h0.65M48.6 339.3h0.65M50.6 287.9h0.65M64.4 324.1h0.65M64.8 323.1h0.65M70.3 294.6h0.65M30.4 328.2h0.65M61.0 291.1h0.65M25.1 314.8h0.65M38.4 293.8h0.65M51.0 336.5h0.65M54.3 337.7h0.65M42.7 293.5h0.65M59.4 288.0h0.65M64.9 323.6h0.65M40.7 322.6h0.65M36.0 291.6h0.65M41.0 326.1h0.65M47.2 337.7h0.65M29.0 306.5h0.65M34.5 288.6h0.65M64.0 314.9h0.65M36.9 302.0h0.65M51.0 335.7h0.65M47.2 331.8h0.65M38.8 299.4h0.65M24.4 307.9h0.65M58.2 288.1h0.65M31.3 320.5h0.65M30.9 304.9h0.65M34.6 306.8h0.65M60.8 329.3h0.65M61.4 288.6h0.65M36.3 322.4h0.65M65.0 310.9h0.65M59.0 285.4h0.65M25.4 318.4h0.65M65.6 316.3h0.65M66.2 313.8h0.65M29.5 306.5h0.65M64.6 320.9h0.65M53.4 337.2h0.65M66.5 316.9h0.65M52.1 339.5h0.65M62.0 286.2h0.65M48.5 335.8h0.65M50.1 339.9h0.65M39.8 295.4h0.65M39.3 294.8h0.65M25.1 318.4h0.65M35.7 302.9h0.65M63.5 307.1h0.65M66.0 296.4h0.65M27.4 319.1h0.65M64.1 335.4h0.65M69.3 330.0h0.65M43.4 324.5h0.65M65.8 326.2h0.65M60.1 333.3h0.65M46.7 331.5h0.65M31.7 304.6h0.65M49.0 286.7h0.65M54.4 283.5h0.65M65.9 303.1h0.65M38.4 321.3h0.65M28.7 306.0h0.65M64.0 296.3h0.65M49.8 285.4h0.65M40.2 328.3h0.65M33.9 306.2h0.65M35.6 304.7h0.65M40.3 296.8h0.65M65.3 304.3h0.65M64.3 327.0h0.65M40.2 330.5h0.65M31.5 324.8h0.65M44.7 287.9h0.65M55.9 336.6h0.65M38.9 295.9h0.65M30.6 304.9h0.65M66.9 324.9h0.65M33.2 319.0h0.65M36.9 300.0h0.65M66.6 305.3h0.65M59.3 289.9h0.65M30.3 307.6h0.65M43.0 290.4h0.65M31.2 320.2h0.65M66.9 311.0h0.65M43.7 287.6h0.65M37.9 289.4h0.65M28.8 307.6h0.65M67.2 311.0h0.65M31.9 321.7h0.65M58.2 288.7h0.65M54.6 336.4h0.65M64.4 309.1h0.65M33.8 324.5h0.65M49.3 286.9h0.65M25.3 319.3h0.65M44.1 327.5h0.65M65.8 308.8h0.65M69.9 312.4h0.65M26.9 307.2h0.65M64.5 294.1h0.65M63.0 311.2h0.65M67.9 318.6h0.65M26.6 307.8h0.65M29.9 306.3h0.65M37.7 301.4h0.65M51.1 333.7h0.65M41.4 327.5h0.65M24.8 318.4h0.65M36.0 319.8h0.65M58.7 335.1h0.65M40.3 321.4h0.65M50.7 286.8h0.65M34.3 306.1h0.65M38.0 301.4h0.65M37.9 296.1h0.65M48.4 287.8h0.65M50.7 335.5h0.65M40.9 291.4h0.65M43.2 290.0h0.65M57.4 335.3h0.65M66.5 308.8h0.65M53.8 335.8h0.65M40.5 322.9h0.65M55.2 286.0h0.65M26.8 306.3h0.65M74.0 298.0h0.65M39.4 325.0h0.65M23.7 311.0h0.65M66.7 304.0h0.65M38.1 300.4h0.65M25.4 312.9h0.65M25.9 306.8h0.65M52.6 279.7h0.65M61.4 288.8h0.65M57.2 339.4h0.65M27.6 306.4h0.65M62.4 287.0h0.65M31.1 319.8h0.65M36.7 299.3h0.65M24.1 319.2h0.65M41.4 326.7h0.65M25.5 321.0h0.65M35.1 321.7h0.65M44.8 289.6h0.65M56.6 284.4h0.65M65.7 296.0h0.65M44.5 330.1h0.65M44.4 327.4h0.65M64.9 309.9h0.65M44.7 325.3h0.65M38.8 300.3h0.65M63.6 326.5h0.65M64.3 298.1h0.65M65.4 294.1h0.65M56.3 287.4h0.65M46.1 334.4h0.65M28.6 318.3h0.65M28.5 302.0h0.65M65.0 325.3h0.65M50.1 283.0h0.65M63.8 307.6h0.65M46.2 334.3h0.65M68.9 309.2h0.65M44.8 328.6h0.65M49.2 287.3h0.65M48.5 286.4h0.65M28.6 318.5h0.65M65.3 323.5h0.65M41.5 293.3h0.65M60.1 292.0h0.65M36.2 298.6h0.65M43.1 325.0h0.65M41.4 336.6h0.65M58.2 335.1h0.65M38.1 295.3h0.65M66.6 299.8h0.65M56.2 287.4h0.65M36.8 294.8h0.65M68.1 307.9h0.65M52.7 283.7h0.65M43.5 292.2h0.65M34.9 305.0h0.65M66.2 300.9h0.65M58.5 288.3h0.65M48.1 290.3h0.65M40.0 300.3h0.65M39.0 297.8h0.65M41.6 326.3h0.65M36.4 292.8h0.65M36.1 304.5h0.65M35.5 303.9h0.65M44.4 327.8h0.65M48.5 290.3h0.65M62.1 291.2h0.65M41.6 325.1h0.65M37.5 296.5h0.65M35.0 305.5h0.65M58.2 336.3h0.65M65.1 312.9h0.65M34.4 322.5h0.65M63.3 296.6h0.65M61.5 291.5h0.65M63.2 288.1h0.65M68.7 303.3h0.65M37.1 300.8h0.65M29.9 305.9h0.65M57.0 334.9h0.65M44.3 339.5h0.65M33.8 324.5h0.65M63.9 330.9h0.65M28.5 307.1h0.65M35.0 302.3h0.65M28.7 319.1h0.65M43.8 283.3h0.65M44.4 291.1h0.65M41.4 332.7h0.65M42.0 287.9h0.65M68.0 300.3h0.65M64.9 321.5h0.65M24.8 314.2h0.65M34.5 303.9h0.65M31.9 321.2h0.65M28.0 320.7h0.65M24.2 317.5h0.65M50.0 286.1h0.65M62.2 289.3h0.65M69.9 294.1h0.65M43.3 290.6h0.65M67.6 309.4h0.65M52.2 286.5h0.65M61.5 292.5h0.65M60.7 286.8h0.65M24.8 318.9h0.65M36.2 322.1h0.65M64.9 320.4h0.65M65.7 312.1h0.65M45.4 286.3h0.65M54.9 287.1h0.65M38.6 302.4h0.65M57.7 286.2h0.65M40.2 325.3h0.65M62.8 327.1h0.65M30.7 303.1h0.65M51.0 336.1h0.65M43.0 326.5h0.65M32.8 305.6h0.65M54.6 286.0h0.65M67.0 310.7h0.65M57.5 333.2h0.65M69.4 310.5h0.65M28.5 319.4h0.65M37.8 321.6h0.65M23.5 316.8h0.65M41.4 322.6h0.65M68.6 289.0h0.65M30.3 307.4h0.65M65.2 312.1h0.65M37.2 294.8h0.65M63.0 308.9h0.65M66.7 330.2h0.65M31.0 305.6h0.65M67.0 316.8h0.65M28.3 305.1h0.65M60.6 330.4h0.65M52.5 285.0h0.65M26.1 319.8h0.65M44.2 329.1h0.65M40.0 297.9h0.65M47.9 287.9h0.65M49.8 339.5h0.65M26.8 319.0h0.65M37.3 327.5h0.65M66.2 330.7h0.65M33.5 319.2h0.65M24.8 320.5h0.65M48.2 286.6h0.65M37.1 301.6h0.65M45.1 278.8h0.65M45.6 332.0h0.65M67.6 326.8h0.65M39.4 321.6h0.65M37.1 301.8h0.65M67.9 302.0h0.65M41.4 331.8h0.65M25.0 319.6h0.65M39.9 292.2h0.65M35.8 320.7h0.65M67.9 296.3h0.65M44.5 284.8h0.65M39.4 324.0h0.65M47.5 290.0h0.65M38.7 328.7h0.65M30.3 301.2h0.65M47.6 289.7h0.65M34.3 298.0h0.65M39.2 331.8h0.65M33.6 319.3h0.65M37.4 322.7h0.65M39.2 299.5h0.65M47.6 286.6h0.65M71.3 288.4h0.65M36.6 326.4h0.65M60.9 330.5h0.65M57.5 283.3h0.65M24.4 324.2h0.65M39.7 321.2h0.65M34.8 300.3h0.65M59.7 333.9h0.65M31.2 306.2h0.65M37.7 297.7h0.65M33.3 320.7h0.65M40.0 324.2h0.65M69.0 310.9h0.65M36.7 303.3h0.65M41.6 290.1h0.65M36.4 321.2h0.65M66.0 309.1h0.65M35.2 295.5h0.65M35.9 295.3h0.65M39.8 297.2h0.65M33.2 322.8h0.65M33.2 321.3h0.65M35.6 326.8h0.65M38.9 294.8h0.65M63.5 324.9h0.65M29.7 304.2h0.65M47.3 332.5h0.65M24.9 319.7h0.65M23.7 319.5h0.65M56.3 284.5h0.65M39.8 327.6h0.65M48.2 337.6h0.65M65.5 297.2h0.65M65.4 289.7h0.65M42.1 290.1h0.65M55.2 339.5h0.65M24.4 311.5h0.65M58.1 287.9h0.65M40.8 293.1h0.65M56.6 336.4h0.65M65.6 289.8h0.65M34.5 304.7h0.65M36.2 303.1h0.65M68.0 301.1h0.65M30.5 305.6h0.65M62.7 325.3h0.65M32.4 305.2h0.65M26.1 308.0h0.65M29.6 321.0h0.65M37.2 333.5h0.65M54.7 287.2h0.65M52.6 335.7h0.65M64.6 330.9h0.65M39.2 299.9h0.65M36.3 322.1h0.65M26.6 318.5h0.65M37.8 304.5h0.65M70.9 303.1h0.65M37.7 293.4h0.65M47.1 284.9h0.65M63.1 328.1h0.65M45.8 290.7h0.65M59.2 290.2h0.65M43.4 333.2h0.65M27.2 321.7h0.65M64.2 324.4h0.65M67.9 305.1h0.65M36.8 293.3h0.65M65.1 326.4h0.65M48.6 286.9h0.65M39.8 290.4h0.65M48.9 333.3h0.65M63.4 309.7h0.65M52.4 286.2h0.65M48.1 336.7h0.65M51.3 284.7h0.65M51.3 333.7h0.65M62.0 330.5h0.65M37.5 333.1h0.65M59.7 287.2h0.65M65.5 314.1h0.65M52.1 283.1h0.65M25.7 319.6h0.65M33.8 322.4h0.65M66.1 319.6h0.65M50.3 285.2h0.65M37.5 294.6h0.65M36.7 331.1h0.65M64.5 324.1h0.65M64.3 309.0h0.65M24.9 321.0h0.65M54.1 285.1h0.65M40.1 298.0h0.65M46.1 289.8h0.65M24.0 318.2h0.65M23.4 307.8h0.65M31.0 304.1h0.65M63.8 311.3h0.65M31.7 304.2h0.65M60.8 288.7h0.65M39.4 298.0h0.65M35.3 323.7h0.65M64.7 327.6h0.65M40.7 289.3h0.65M43.8 292.2h0.65M43.1 290.4h0.65M36.6 302.3h0.65M38.8 321.5h0.65M43.5 327.8h0.65M35.5 326.1h0.65M61.2 333.2h0.65M63.5 324.9h0.65M32.0 304.2h0.65M24.6 307.3h0.65M67.0 304.2h0.65M39.6 294.8h0.65M37.9 303.8h0.65M65.6 316.3h0.65M68.6 314.9h0.65M45.3 331.6h0.65M45.4 328.4h0.65M44.2 327.4h0.65M66.5 303.8h0.65M64.2 321.1h0.65M42.6 324.7h0.65M43.1 291.9h0.65M44.8 285.8h0.65M36.6 298.7h0.65M62.0 326.1h0.65M63.5 308.1h0.65M72.0 290.1h0.65M44.9 287.2h0.65M42.6 326.9h0.65M69.3 299.3h0.65M44.7 327.3h0.65M50.4 285.3h0.65M46.2 332.5h0.65M37.9 295.5h0.65M32.8 326.9h0.65M67.4 325.1h0.65M33.3 321.3h0.65M65.7 324.1h0.65M47.8 288.8h0.65M66.3 310.8h0.65M23.8 310.8h0.65M31.4 298.6h0.65M63.6 328.5h0.65M63.6 310.2h0.65M31.1 327.1h0.65M44.0 329.3h0.65M32.7 305.0h0.65M58.2 287.6h0.65M28.1 321.5h0.65M31.6 306.6h0.65M44.3 329.4h0.65M67.2 294.2h0.65M34.8 299.5h0.65M32.1 319.5h0.65M66.4 300.9h0.65M38.5 299.1h0.65M49.9 337.3h0.65M66.7 308.2h0.65M60.6 329.2h0.65M63.1 287.0h0.65M54.1 282.3h0.65M72.2 319.8h0.65M58.2 285.9h0.65M65.7 305.1h0.65M44.9 328.7h0.65M61.7 290.8h0.65M34.4 288.7h0.65M38.9 291.9h0.65M40.4 294.7h0.65M26.9 308.2h0.65M66.6 315.9h0.65M51.5 285.4h0.65M65.9 295.9h0.65M49.9 333.0h0.65M34.5 302.4h0.65M41.9 325.8h0.65M42.0 328.9h0.65M37.1 303.4h0.65M54.5 337.6h0.65M43.4 292.5h0.65M39.0 321.3h0.65M50.2 332.7h0.65M35.6 293.4h0.65M60.3 287.7h0.65M24.1 319.3h0.65M69.6 305.2h0.65M67.0 292.8h0.65M47.5 338.9h0.65M67.3 307.9h0.65M25.4 313.5h0.65M61.2 332.2h0.65M68.4 320.2h0.65M72.3 302.6h0.65M64.5 318.8h0.65M38.0 322.1h0.65M37.9 297.1h0.65M62.4 328.1h0.65M66.3 288.3h0.65M54.3 337.6h0.65M63.4 327.5h0.65M57.1 290.1h0.65M32.2 339.3h0.65M43.9 288.2h0.65M67.3 295.6h0.65M66.8 321.0h0.65M66.8 293.3h0.65M27.1 322.2h0.65M67.1 311.8h0.65M32.5 320.2h0.65M68.3 297.7h0.65M60.7 330.9h0.65M47.7 288.9h0.65M34.7 322.2h0.65M35.1 320.8h0.65M37.5 298.1h0.65M67.4 299.0h0.65M67.1 302.6h0.65M59.4 333.3h0.65M64.8 298.8h0.65M51.0 333.4h0.65M31.7 306.0h0.65M35.1 306.7h0.65M40.0 293.4h0.65M66.1 314.8h0.65M66.9 321.0h0.65M47.7 284.1h0.65M53.2 336.3h0.65M48.0 286.5h0.65M37.3 303.4h0.65M30.5 308.3h0.65M35.3 322.4h0.65M36.2 305.6h0.65M49.1 334.8h0.65M30.9 307.3h0.65M44.6 329.0h0.65M33.1 325.7h0.65M36.8 303.0h0.65M36.0 296.9h0.65M65.7 310.8h0.65M69.6 321.1h0.65M41.4 327.0h0.65M33.6 324.6h0.65M67.1 332.5h0.65M31.1 319.5h0.65M29.8 306.9h0.65M40.4 292.7h0.65M56.7 334.0h0.65M26.4 317.9h0.65M39.9 291.6h0.65M37.1 291.8h0.65M34.1 305.0h0.65M36.8 298.6h0.65M68.2 292.7h0.65M26.8 324.0h0.65M35.1 300.7h0.65M37.0 300.1h0.65M43.4 285.3h0.65M46.5 286.3h0.65M33.9 304.6h0.65M34.8 288.9h0.65M43.4 287.1h0.65M31.1 319.3h0.65M37.7 304.6h0.65M38.4 321.4h0.65M60.3 291.0h0.65M39.8 335.6h0.65M64.8 308.9h0.65M61.2 330.8h0.65M54.9 334.2h0.65M42.3 331.0h0.65M53.0 338.9h0.65M63.1 293.0h0.65M64.8 318.0h0.65M39.4 295.5h0.65M37.4 283.2h0.65M23.8 311.2h0.65M63.3 333.1h0.65M65.5 321.3h0.65M57.5 288.2h0.65M50.4 340.0h0.65M58.1 332.3h0.65M66.2 321.6h0.65M26.3 320.2h0.65M60.8 288.8h0.65M31.7 307.6h0.65M50.8 287.8h0.65M63.4 324.1h0.65M56.7 334.9h0.65M34.1 324.3h0.65M25.1 317.2h0.65M77.9 314.4h0.65M61.6 288.9h0.65M57.3 338.0h0.65M53.5 286.4h0.65M57.8 334.3h0.65M66.7 299.9h0.65M51.8 334.0h0.65M36.8 323.1h0.65M63.8 315.8h0.65M57.7 332.3h0.65M51.6 287.1h0.65M33.6 322.1h0.65M55.2 282.4h0.65M59.6 333.6h0.65M35.8 326.3h0.65M43.8 328.7h0.65M36.6 297.6h0.65M54.8 338.2h0.65M32.9 319.5h0.65M62.2 326.7h0.65M66.2 312.8h0.65M32.0 319.2h0.65M35.4 290.0h0.65M66.2 324.3h0.65M43.7 327.8h0.65M60.3 335.0h0.65M58.3 283.8h0.65M66.9 320.7h0.65M64.9 298.1h0.65M66.0 319.0h0.65M60.3 285.9h0.65M64.8 311.9h0.65M37.5 301.8h0.65M62.6 309.1h0.65M66.1 307.7h0.65M67.6 298.2h0.65M67.2 322.3h0.65M61.6 334.6h0.65M37.8 322.7h0.65M38.2 323.5h0.65M41.2 296.3h0.65M61.8 334.3h0.65M65.9 322.6h0.65M62.1 291.7h0.65M27.5 298.2h0.65M66.3 326.7h0.65M38.5 298.0h0.65M60.4 333.2h0.65M24.0 307.7h0.65M68.6 290.8h0.65M53.5 333.8h0.65M58.4 334.1h0.65M60.0 289.7h0.65M35.1 294.7h0.65M47.0 289.9h0.65M28.1 318.4h0.65M44.6 333.8h0.65M43.7 328.5h0.65M25.2 318.5h0.65M62.4 291.3h0.65M62.0 335.4h0.65M58.4 288.6h0.65M28.0 307.6h0.65M66.0 323.3h0.65M26.4 317.7h0.65M64.1 326.6h0.65M35.4 321.4h0.65M24.6 308.5h0.65M32.7 306.4h0.65M50.7 286.0h0.65M41.7 294.0h0.65M66.0 304.9h0.65M38.3 325.8h0.65M65.2 300.3h0.65M64.7 301.2h0.65M67.7 313.4h0.65M42.7 290.9h0.65M47.3 284.0h0.65M55.0 287.1h0.65M26.8 319.4h0.65M67.0 297.9h0.65M69.6 302.6h0.65M24.2 304.8h0.65M27.4 320.0h0.65M33.3 285.2h0.65M27.5 318.8h0.65M35.9 298.3h0.65M23.4 314.8h0.65M64.4 312.1h0.65M68.2 290.6h0.65M40.6 281.8h0.65M38.1 293.3h0.65M50.4 336.5h0.65M57.1 335.9h0.65M46.9 289.1h0.65M62.8 331.3h0.65M60.3 290.6h0.65M47.3 334.9h0.65M25.9 319.1h0.65M34.5 324.8h0.65M31.6 319.5h0.65M38.8 328.5h0.65M52.1 333.2h0.65M31.8 319.3h0.65M66.7 316.3h0.65M39.3 293.5h0.65M40.2 292.4h0.65M59.7 289.5h0.65M65.2 318.3h0.65M37.9 325.0h0.65M61.9 328.2h0.65M33.7 295.1h0.65M33.8 302.8h0.65M58.9 331.5h0.65M66.1 303.8h0.65M52.0 335.2h0.65M46.1 288.8h0.65M64.9 307.9h0.65M28.0 307.4h0.65M49.2 335.6h0.65M32.4 305.8h0.65M35.7 301.0h0.65M62.1 286.6h0.65M55.0 284.9h0.65M36.8 325.6h0.65M48.6 287.5h0.65M31.1 322.5h0.65M25.7 317.8h0.65M65.8 335.3h0.65M28.3 319.8h0.65M61.6 289.3h0.65M56.5 333.1h0.65M25.3 317.5h0.65M65.8 297.3h0.65M52.2 286.3h0.65M57.2 285.7h0.65M65.3 324.0h0.65M45.3 285.8h0.65M25.6 326.8h0.65M39.9 288.4h0.65M49.6 332.8h0.65M45.4 328.4h0.65M62.6 285.4h0.65M51.1 288.7h0.65M65.0 317.4h0.65M58.6 336.8h0.65M68.1 301.9h0.65M62.2 328.2h0.65M23.9 307.0h0.65M53.2 282.7h0.65M68.9 310.0h0.65M45.8 333.0h0.65M29.4 302.0h0.65M41.0 282.1h0.65M36.6 285.0h0.65M64.0 315.2h0.65M62.4 331.3h0.65M25.6 306.3h0.65M27.1 305.3h0.65M57.6 286.2h0.65M65.8 318.0h0.65M61.7 337.7h0.65M70.3 292.3h0.65M29.6 319.1h0.65M59.1 283.8h0.65M30.8 320.6h0.65M40.1 286.3h0.65M66.2 316.7h0.65M70.0 334.2h0.65M66.4 294.6h0.65M65.6 313.0h0.65M31.2 305.1h0.65M27.5 308.0h0.65M36.8 305.3h0.65M66.6 324.9h0.65M33.9 321.3h0.65M34.0 306.5h0.65M63.5 310.4h0.65M56.6 289.6h0.65M36.6 324.5h0.65M56.3 280.6h0.65M44.0 290.5h0.65M45.8 285.1h0.65M65.7 314.9h0.65M24.4 318.4h0.65M51.1 335.1h0.65M35.4 305.6h0.65M32.8 298.0h0.65M47.1 285.7h0.65M26.9 321.6h0.65M33.0 320.5h0.65M47.2 338.5h0.65M25.4 308.5h0.65M36.5 301.9h0.65M30.9 306.3h0.65M52.4 334.2h0.65M33.9 324.1h0.65M39.3 323.0h0.65M24.1 318.4h0.65M53.4 335.1h0.65M63.8 328.5h0.65M67.4 329.2h0.65M27.9 319.6h0.65M65.5 294.7h0.65M51.0 285.0h0.65M67.9 315.6h0.65M27.0 307.7h0.65M64.4 294.1h0.65M37.8 298.8h0.65M66.4 303.4h0.65M37.6 323.0h0.65M48.9 286.2h0.65M41.3 294.3h0.65M36.7 296.4h0.65M62.7 332.8h0.65M25.5 308.3h0.65M59.8 331.9h0.65M42.5 324.1h0.65M42.9 328.0h0.65M75.4 301.9h0.65M53.0 287.6h0.65M48.6 335.0h0.65M49.6 339.5h0.65M30.2 304.7h0.65M36.4 324.9h0.65M36.7 305.7h0.65M64.3 323.1h0.65M41.3 293.6h0.65M45.2 288.0h0.65M65.8 314.6h0.65M67.0 302.4h0.65M34.6 324.7h0.65M62.9 290.8h0.65M49.9 333.9h0.65M31.7 306.3h0.65M58.8 287.8h0.65M65.3 312.8h0.65M64.2 326.1h0.65M44.7 330.7h0.65M50.6 286.4h0.65M69.0 294.5h0.65M62.3 282.5h0.65M55.3 338.6h0.65M64.4 326.4h0.65M64.8 323.8h0.65M63.1 292.2h0.65M42.9 326.5h0.65M63.4 330.9h0.65M67.0 295.0h0.65M51.4 334.3h0.65M45.6 291.6h0.65M62.8 330.3h0.65M66.9 335.1h0.65M29.3 307.1h0.65M52.1 279.7h0.65M62.0 330.0h0.65M82.5 286.0h0.65M41.4 295.3h0.65M34.7 305.0h0.65M69.2 291.5h0.65M28.7 323.6h0.65M63.6 297.1h0.65M72.7 301.0h0.65M66.8 319.5h0.65M66.8 310.5h0.65M66.0 317.7h0.65M24.7 317.4h0.65M35.8 299.2h0.65M31.9 306.8h0.65M44.8 289.7h0.65M57.2 334.7h0.65M33.2 320.6h0.65M70.0 312.5h0.65M63.8 315.5h0.65M65.0 312.8h0.65M44.6 281.4h0.65M69.9 309.8h0.65M40.7 324.5h0.65M57.5 332.6h0.65M61.4 329.8h0.65M36.3 303.2h0.65M28.4 320.3h0.65M27.2 305.1h0.65M63.2 290.1h0.65M66.5 301.7h0.65M40.8 289.3h0.65M55.8 283.6h0.65M28.7 307.6h0.65M41.5 324.2h0.65M63.2 329.9h0.65M47.6 288.1h0.65M27.9 320.5h0.65M65.7 315.1h0.65M35.9 295.3h0.65M31.8 306.9h0.65M66.4 298.1h0.65M32.9 306.7h0.65M33.3 302.5h0.65M41.0 290.6h0.65M64.5 303.9h0.65M67.4 301.0h0.65M47.1 281.7h0.65M36.6 303.0h0.65M65.9 294.7h0.65M42.8 290.2h0.65M35.7 320.5h0.65M38.1 322.0h0.65M42.4 329.6h0.65M66.1 318.6h0.65M46.8 328.3h0.65M28.7 319.5h0.65M65.2 312.1h0.65M38.9 296.8h0.65M24.6 309.0h0.65M42.1 286.4h0.65M63.7 291.3h0.65M63.5 290.1h0.65M32.7 319.5h0.65M36.5 297.4h0.65M38.7 321.4h0.65M27.1 318.3h0.65M61.7 332.5h0.65M25.8 320.1h0.65M37.0 299.8h0.65M40.1 300.1h0.65M71.2 307.0h0.65M25.8 307.9h0.65M63.6 308.7h0.65M42.1 290.7h0.65M65.0 322.2h0.65M26.0 306.5h0.65M65.7 331.6h0.65M41.2 330.2h0.65M70.5 320.1h0.65M26.6 308.0h0.65M28.6 307.2h0.65M42.7 329.0h0.65M38.1 323.3h0.65M56.6 286.4h0.65M55.8 338.4h0.65M24.4 318.2h0.65M53.2 285.1h0.65M28.3 308.3h0.65M65.8 289.1h0.65M47.1 334.3h0.65M36.4 301.6h0.65M42.0 291.4h0.65M51.5 286.7h0.65M38.5 296.9h0.65M54.1 336.3h0.65M68.3 309.7h0.65M64.7 311.2h0.65M45.4 327.8h0.65M43.2 285.4h0.65M62.9 328.4h0.65M53.2 333.9h0.65M57.5 333.5h0.65M46.3 288.4h0.65M35.2 294.1h0.65M26.5 304.1h0.65M62.1 292.7h0.65M41.1 327.6h0.65M53.2 338.2h0.65M60.3 330.9h0.65M62.8 327.0h0.65M34.0 323.7h0.65M33.5 333.7h0.65M36.2 319.8h0.65M29.0 306.7h0.65M65.8 309.8h0.65M65.1 297.9h0.65" stroke="#8a8a8a" stroke-width="0.65" fill="none"/>
<path d="M23.4,308.3 C24.62,306.48 28.63,307.42 30.7,306.8 C32.77,306.18 34.6,305.93 35.8,304.6 C37,303.27 37.07,300.73 37.9,298.8 C38.73,296.87 39.47,294.68 40.8,293 C42.13,291.32 43.97,289.78 45.9,288.7 C47.83,287.62 50.1,286.5 52.4,286.5 C54.7,286.5 57.63,287.48 59.7,288.7 C61.77,289.92 63.72,291.63 64.8,293.8 C65.88,295.97 66.2,299.17 66.2,301.7 C66.2,304.23 64.92,306.58 64.8,309 C64.68,311.42 65.5,313.55 65.5,316.2 C65.5,318.85 65.53,322.23 64.8,324.9 C64.07,327.57 62.92,330.38 61.1,332.2 C59.28,334.02 56.07,335.57 53.9,335.8 C51.73,336.03 49.8,334.93 48.1,333.6 C46.4,332.27 45.15,329.48 43.7,327.8 C42.25,326.12 41.08,324.7 39.4,323.5 C37.72,322.3 35.53,321.33 33.6,320.6 C31.67,319.87 29.5,319.58 27.8,319.1 C26.1,318.62 24.13,319.5 23.4,317.7 C22.67,315.9 22.18,310.12 23.4,308.3 Z" fill="#fbfbfb" stroke="#666" stroke-width="0.6"/>
<path d="M23.4,310.5 C24.62,309.5 28.52,310 30.7,309.5 C32.88,309 34.98,309 36.5,307.5 C38.02,306 38.78,302.58 39.8,300.5 C40.82,298.42 41.4,296.58 42.6,295 C43.8,293.42 45.37,291.95 47,291 C48.63,290.05 50.45,289.25 52.4,289.3 C54.35,289.35 57,290.27 58.7,291.3 C60.4,292.33 61.75,293.72 62.6,295.5 C63.45,297.28 63.8,299.75 63.8,302 C63.8,304.25 62.7,306.63 62.6,309 C62.5,311.37 63.22,313.72 63.2,316.2 C63.18,318.68 63.13,321.67 62.5,323.9 C61.87,326.13 60.83,328.12 59.4,329.6 C57.97,331.08 55.58,332.57 53.9,332.8 C52.22,333.03 50.72,332.17 49.3,331 C47.88,329.83 46.8,327.42 45.4,325.8 C44,324.18 42.77,322.6 40.9,321.3 C39.03,320 36.38,318.78 34.2,318 C32.02,317.22 29.6,317.02 27.8,316.6 C26,316.18 24.13,316.52 23.4,315.5 C22.67,314.48 22.18,311.5 23.4,310.5 Z" fill="#dedede" stroke="#7a7a7a" stroke-width="0.55"/>
<path d="M25.63,310.62 C26.84,309.71 30.69,310.16 32.86,309.76 C35.03,309.35 37.26,309.47 38.65,308.18 C40.04,306.89 40.4,303.86 41.21,302.01 C42.02,300.17 42.5,298.59 43.51,297.12 C44.52,295.66 45.82,294.14 47.26,293.21 C48.69,292.27 50.39,291.53 52.14,291.51 C53.89,291.49 56.27,292.12 57.78,293.07 C59.28,294.02 60.47,295.52 61.17,297.22 C61.86,298.92 62.08,301.26 61.96,303.29 C61.84,305.31 60.58,307.31 60.45,309.36 C60.32,311.41 61.09,313.4 61.18,315.59 C61.28,317.78 61.45,320.48 61.02,322.49 C60.58,324.51 59.79,326.31 58.56,327.68 C57.34,329.05 55.19,330.51 53.67,330.71 C52.15,330.92 50.7,330.12 49.42,328.92 C48.15,327.71 47.2,325.02 46.04,323.48 C44.88,321.95 44.11,320.75 42.48,319.69 C40.85,318.63 38.31,317.69 36.23,317.12 C34.16,316.54 31.78,316.57 30.01,316.25 C28.24,315.93 26.33,316.14 25.6,315.21 C24.87,314.27 24.42,311.53 25.63,310.62 Z" fill="#d2d2d2" stroke="#777" stroke-width="0.5"/>
<path d="M41.5,304 C41.58,302.5 41.83,300.17 42.5,298.5 C43.17,296.83 44.25,295.17 45.5,294 C46.75,292.83 48.42,292 50,291.5 C51.58,291 53.42,290.83 55,291 C56.58,291.17 58.17,291.75 59.5,292.5 C60.83,293.25 62.2,294.25 63,295.5 C63.8,296.75 64.3,298.33 64.3,300 C64.3,301.67 63.8,303.92 63,305.5 C62.2,307.08 60.92,308.37 59.5,309.5 C58.08,310.63 56.25,311.75 54.5,312.3 C52.75,312.85 50.67,313.1 49,312.8 C47.33,312.5 45.67,311.38 44.5,310.5 C43.33,309.62 42.5,308.58 42,307.5 C41.5,306.42 41.42,305.5 41.5,304 Z" fill="#bdbdbd" stroke="#333" stroke-width="0.9"/>
<path d="M43.7,303.5 C43.77,302.3 43.97,300.43 44.5,299.1 C45.03,297.77 45.9,296.43 46.9,295.5 C47.9,294.57 49.23,293.9 50.5,293.5 C51.77,293.1 53.23,292.97 54.5,293.1 C55.77,293.23 57.03,293.7 58.1,294.3 C59.17,294.9 60.26,295.7 60.9,296.7 C61.54,297.7 61.94,298.97 61.94,300.3 C61.94,301.63 61.54,303.43 60.9,304.7 C60.26,305.97 59.23,306.99 58.1,307.9 C56.97,308.81 55.5,309.7 54.1,310.14 C52.7,310.58 51.03,310.78 49.7,310.54 C48.37,310.3 47.03,309.41 46.1,308.7 C45.17,307.99 44.5,307.17 44.1,306.3 C43.7,305.43 43.63,304.7 43.7,303.5 Z" fill="#b2b2b2" stroke="#505050" stroke-width="0.6"/>
<path d="M45.7,302.88 C45.75,301.98 45.9,300.58 46.3,299.58 C46.7,298.58 47.35,297.58 48.1,296.88 C48.85,296.18 49.85,295.68 50.8,295.38 C51.75,295.08 52.85,294.98 53.8,295.08 C54.75,295.18 55.7,295.53 56.5,295.98 C57.3,296.43 58.12,297.03 58.6,297.78 C59.08,298.53 59.38,299.48 59.38,300.48 C59.38,301.48 59.08,302.83 58.6,303.78 C58.12,304.73 57.35,305.5 56.5,306.18 C55.65,306.86 54.55,307.53 53.5,307.86 C52.45,308.19 51.2,308.34 50.2,308.16 C49.2,307.98 48.2,307.31 47.5,306.78 C46.8,306.25 46.3,305.63 46,304.98 C45.7,304.33 45.65,303.78 45.7,302.88 Z" fill="#aaaaaa" stroke="#505050" stroke-width="0.6"/>
<path d="M47.08,302.02 C47.11,301.45 47.21,300.56 47.46,299.93 C47.71,299.29 48.12,298.66 48.6,298.22 C49.08,297.77 49.71,297.46 50.31,297.27 C50.91,297.08 51.61,297.01 52.21,297.08 C52.81,297.14 53.41,297.36 53.92,297.65 C54.43,297.93 54.95,298.31 55.25,298.79 C55.55,299.26 55.74,299.86 55.74,300.5 C55.74,301.13 55.55,301.98 55.25,302.59 C54.95,303.19 54.46,303.68 53.92,304.11 C53.38,304.54 52.69,304.96 52.02,305.17 C51.36,305.38 50.56,305.47 49.93,305.36 C49.3,305.25 48.66,304.82 48.22,304.49 C47.78,304.15 47.46,303.76 47.27,303.35 C47.08,302.93 47.05,302.59 47.08,302.02 Z" fill="#d4d4d4" stroke="#666" stroke-width="0.5"/>
<ellipse cx="49.6" cy="300.6" rx="2.3" ry="1.9" fill="#ececec"/>
<path d="M59.5,293.2 C63.6,295.6 65,300.2 63.2,305.8" fill="none" stroke="#161616" stroke-width="1.9"/>
<circle cx="58.2" cy="316.4" r="2.6" fill="#cfcfcf" stroke="#555" stroke-width="0.6"/>
<circle cx="51.8" cy="324" r="4.5" fill="#c4c4c4" stroke="#3a3a3a" stroke-width="0.9"/>
<circle cx="51.8" cy="324" r="2.6" fill="#b4b4b4" stroke="#555" stroke-width="0.6"/>
<circle cx="51.3" cy="323.6" r="1.2" fill="#e4e4e4"/>
<path d="M23.5,311.8 C30,311 36,311.5 41,314.5" fill="none" stroke="#777" stroke-width="0.6"/>
<path d="M23.5,314.2 C29,314.6 34,315.5 39,318.5" fill="none" stroke="#888" stroke-width="0.5"/>
<path d="M35.3 318.2h0.65M48.2 303.6h0.65M33.6 317.4h0.65M48.9 298.6h0.65M52.1 292.6h0.65M46.4 312.3h0.65M62.5 308.3h0.65M31.5 312.7h0.65M60.7 316.3h0.65M26.7 312.5h0.65M28.6 312.7h0.65M56.5 318.6h0.65M42.3 296.2h0.65M50.7 306.7h0.65M39.5 305.8h0.65M49.7 311.8h0.65M43.7 296.3h0.65M34.2 313.6h0.65M50.3 316.9h0.65M53.5 304.9h0.65M54.4 314.7h0.65M48.7 326.2h0.65M61.8 324.8h0.65M56.6 315.0h0.65M58.2 301.2h0.65M43.0 313.2h0.65M55.1 293.1h0.65M47.1 327.2h0.65M53.2 293.5h0.65M54.5 320.4h0.65M35.2 309.5h0.65M44.6 313.5h0.65M46.4 292.2h0.65M57.9 312.1h0.65M27.4 311.2h0.65M52.5 322.1h0.65M62.5 316.6h0.65M30.9 315.8h0.65M50.0 294.2h0.65M53.7 295.5h0.65M39.8 303.3h0.65M63.4 300.9h0.65M41.6 318.0h0.65M51.0 314.7h0.65M26.0 313.1h0.65M54.9 299.7h0.65M38.9 315.2h0.65M29.0 313.8h0.65M61.6 322.7h0.65M47.3 301.7h0.65M50.6 324.4h0.65M40.0 315.3h0.65M59.3 315.0h0.65M23.8 314.4h0.65M46.8 309.5h0.65M45.8 297.5h0.65M31.9 314.7h0.65M39.7 311.0h0.65M60.3 309.6h0.65M53.5 291.9h0.65M61.1 302.4h0.65M48.3 317.3h0.65M48.7 319.0h0.65M42.2 317.7h0.65M40.4 315.0h0.65M62.7 314.3h0.65M37.2 316.4h0.65M57.8 299.1h0.65M50.4 302.3h0.65M59.3 310.4h0.65M39.0 302.6h0.65M55.8 312.2h0.65M52.9 325.7h0.65M50.4 294.0h0.65M49.6 327.2h0.65M42.6 307.9h0.65M49.4 297.6h0.65M50.3 311.2h0.65M48.5 322.1h0.65M31.1 313.6h0.65M47.9 313.3h0.65M47.5 306.0h0.65M58.7 319.0h0.65M50.0 331.0h0.65M33.7 314.3h0.65M56.8 317.7h0.65M23.4 311.5h0.65M56.4 298.1h0.65M41.7 312.9h0.65M47.5 326.3h0.65M51.9 306.8h0.65M48.2 302.4h0.65M25.5 310.4h0.65M37.7 308.9h0.65M29.8 312.8h0.65M34.4 317.4h0.65M28.1 310.8h0.65M57.2 318.5h0.65M30.4 310.6h0.65M52.9 315.4h0.65M59.7 302.4h0.65M60.5 323.3h0.65M54.8 323.2h0.65M57.0 305.8h0.65M52.6 289.9h0.65M51.5 308.7h0.65M41.7 320.1h0.65M47.0 316.1h0.65M60.4 316.6h0.65M54.0 317.0h0.65M46.9 322.1h0.65M40.3 319.5h0.65M46.8 294.1h0.65M52.9 304.4h0.65M61.3 301.8h0.65M50.3 308.5h0.65M50.1 318.9h0.65M49.8 314.1h0.65M44.6 306.5h0.65M53.2 292.2h0.65M54.6 291.0h0.65M54.4 317.1h0.65M58.1 295.2h0.65M55.6 330.4h0.65M60.4 326.3h0.65M57.6 309.8h0.65M58.0 299.8h0.65M59.4 323.9h0.65M46.7 316.9h0.65M51.9 320.3h0.65M46.6 302.7h0.65M46.2 294.4h0.65M51.6 320.6h0.65M42.6 317.6h0.65M35.5 308.0h0.65M44.1 294.3h0.65M51.3 291.7h0.65M33.6 314.8h0.65M56.1 321.1h0.65M53.7 327.1h0.65M45.5 319.5h0.65M48.0 324.0h0.65M61.7 319.0h0.65M50.5 302.2h0.65M56.1 315.2h0.65M49.8 321.3h0.65M42.8 318.6h0.65M39.7 312.0h0.65M49.4 309.9h0.65M53.9 304.6h0.65M44.3 306.6h0.65M45.9 319.6h0.65M49.6 302.7h0.65M55.5 305.7h0.65M43.3 295.8h0.65M31.1 312.2h0.65M58.6 291.9h0.65M40.1 302.0h0.65M41.2 319.3h0.65M59.8 316.9h0.65M41.4 298.5h0.65M55.1 329.8h0.65M38.5 310.1h0.65M56.8 330.7h0.65M35.6 314.6h0.65M44.2 315.0h0.65M55.5 312.1h0.65M43.2 320.3h0.65M42.6 314.4h0.65M31.0 314.7h0.65M53.5 330.8h0.65M38.8 316.7h0.65M51.1 324.0h0.65M52.3 325.0h0.65M36.5 316.3h0.65M58.2 322.4h0.65M51.6 295.6h0.65M49.7 290.7h0.65M50.0 294.5h0.65M45.6 320.5h0.65M61.6 299.2h0.65M52.3 295.0h0.65M41.6 301.7h0.65M58.2 328.3h0.65M62.3 306.1h0.65M53.1 305.1h0.65M48.8 322.7h0.65M37.1 310.0h0.65M55.5 302.7h0.65M51.8 308.0h0.65M52.1 301.7h0.65M42.1 310.9h0.65M59.4 319.6h0.65M41.0 308.5h0.65M47.6 294.9h0.65M35.4 315.6h0.65M61.4 315.4h0.65M55.6 299.0h0.65M54.2 298.8h0.65M56.8 320.5h0.65M54.8 313.9h0.65M44.4 323.0h0.65M45.3 295.9h0.65M31.5 315.9h0.65M59.7 294.1h0.65M46.6 307.2h0.65M62.1 301.7h0.65M42.5 302.9h0.65M36.3 314.6h0.65M61.8 307.3h0.65M57.9 308.1h0.65M36.3 318.5h0.65M52.5 291.2h0.65M58.8 323.6h0.65M57.5 309.6h0.65M52.7 330.4h0.65M59.5 317.5h0.65M48.3 304.8h0.65M51.0 295.4h0.65M61.7 301.9h0.65M45.2 310.6h0.65M54.0 328.1h0.65M51.7 291.5h0.65M42.2 304.7h0.65M52.8 291.3h0.65M52.5 331.0h0.65M53.3 302.6h0.65M32.4 309.8h0.65M29.3 313.6h0.65M56.1 325.2h0.65M38.9 318.2h0.65M30.4 310.8h0.65M39.8 316.3h0.65M47.4 300.7h0.65M58.9 308.9h0.65M54.7 320.7h0.65M47.2 322.9h0.65M56.3 319.5h0.65M53.7 324.1h0.65M49.3 330.4h0.65M45.7 318.3h0.65M59.2 292.4h0.65M59.3 299.4h0.65M51.9 315.1h0.65M33.1 312.5h0.65M34.6 313.0h0.65M51.5 300.7h0.65M61.7 306.9h0.65M59.8 305.4h0.65M53.0 303.7h0.65M63.6 302.4h0.65M45.3 316.5h0.65M39.9 305.1h0.65M31.1 313.0h0.65M50.3 290.5h0.65M59.0 300.6h0.65M42.6 298.8h0.65M50.6 307.0h0.65M46.9 307.0h0.65M46.6 301.5h0.65M61.3 309.8h0.65M56.0 318.4h0.65M46.9 297.6h0.65M53.9 315.2h0.65M62.5 310.2h0.65M62.6 308.9h0.65M52.1 290.7h0.65M60.6 299.6h0.65M51.5 295.3h0.65M61.2 325.1h0.65M45.5 319.8h0.65M56.1 322.5h0.65M23.8 311.6h0.65M24.3 313.0h0.65M36.3 312.1h0.65M29.6 312.0h0.65M46.6 298.6h0.65M30.7 312.0h0.65M41.4 310.3h0.65M50.5 295.4h0.65M55.5 319.9h0.65M40.1 320.4h0.65M32.5 317.2h0.65M56.6 318.2h0.65M59.1 293.2h0.65M48.1 311.3h0.65M42.2 316.5h0.65M39.8 309.8h0.65M49.0 319.7h0.65M52.0 307.4h0.65M31.1 315.2h0.65M48.5 293.6h0.65M44.2 314.3h0.65M51.1 292.5h0.65M52.8 301.1h0.65M57.4 316.2h0.65M56.2 311.7h0.65M54.3 332.4h0.65M62.8 300.2h0.65M60.6 306.1h0.65M50.5 323.8h0.65M38.5 319.4h0.65M62.4 308.5h0.65M40.0 305.9h0.65M54.5 327.1h0.65M38.9 308.9h0.65M53.7 301.8h0.65M39.4 317.8h0.65M54.8 330.6h0.65M41.9 320.6h0.65M56.9 309.3h0.65M49.3 313.8h0.65M58.0 292.8h0.65M34.7 310.5h0.65M56.5 297.4h0.65M54.9 293.1h0.65M37.5 309.5h0.65M52.3 312.0h0.65M57.7 319.4h0.65M38.9 312.0h0.65M56.1 319.2h0.65M60.7 325.0h0.65M46.5 296.1h0.65M58.4 298.9h0.65M37.3 316.0h0.65M58.5 294.1h0.65M49.0 306.9h0.65M53.5 323.0h0.65M58.5 312.8h0.65M59.3 293.1h0.65M55.5 299.0h0.65M46.4 308.4h0.65M53.2 306.6h0.65M51.5 305.0h0.65M52.3 300.7h0.65M43.6 297.5h0.65M37.3 307.5h0.65M57.7 302.2h0.65M59.2 322.4h0.65M53.2 328.8h0.65M54.4 293.0h0.65M32.1 313.4h0.65M49.7 330.3h0.65M28.1 312.6h0.65M41.1 308.2h0.65M38.8 319.2h0.65M55.6 312.3h0.65M32.8 310.2h0.65M45.2 297.8h0.65M52.6 294.9h0.65M60.5 319.4h0.65M50.0 297.6h0.65M47.6 311.6h0.65M48.4 317.8h0.65M47.7 301.7h0.65M32.0 315.7h0.65M43.1 302.1h0.65M47.1 291.3h0.65M43.5 323.4h0.65M31.5 310.2h0.65M52.1 307.6h0.65M54.1 311.5h0.65M45.1 319.0h0.65M54.2 306.8h0.65M42.0 312.5h0.65M56.9 291.5h0.65M24.6 310.9h0.65M57.7 320.6h0.65M34.1 315.5h0.65M58.8 316.4h0.65M58.2 310.5h0.65M43.5 319.6h0.65M31.6 315.1h0.65M43.7 302.3h0.65M43.5 297.0h0.65M49.4 294.3h0.65M45.2 293.5h0.65M56.0 302.3h0.65M62.0 303.6h0.65M42.7 300.9h0.65M47.3 299.0h0.65M41.6 315.2h0.65M45.7 319.0h0.65M48.2 309.8h0.65M57.9 295.5h0.65M60.2 327.6h0.65M59.8 303.7h0.65M62.0 309.7h0.65M53.0 310.9h0.65M55.9 321.6h0.65M51.3 295.2h0.65M36.6 309.1h0.65M40.2 301.4h0.65M47.6 320.4h0.65M40.8 320.4h0.65M46.5 324.6h0.65M52.8 322.6h0.65M51.6 297.4h0.65M38.1 308.4h0.65M49.0 311.8h0.65M50.2 323.8h0.65M62.5 316.3h0.65M40.6 310.9h0.65M45.5 319.6h0.65M56.5 319.6h0.65M59.2 309.0h0.65M51.6 327.8h0.65M57.8 313.3h0.65M62.3 315.3h0.65M59.7 300.3h0.65M30.1 312.3h0.65M52.4 314.3h0.65M50.7 303.4h0.65M60.7 310.8h0.65M54.4 293.3h0.65M51.0 319.8h0.65M51.4 290.5h0.65M58.0 291.1h0.65M59.5 306.9h0.65M61.6 302.7h0.65M44.4 312.2h0.65M43.9 304.5h0.65M57.6 329.5h0.65M24.0 315.3h0.65M53.9 311.4h0.65M39.7 320.6h0.65M29.7 310.0h0.65M55.1 306.6h0.65M55.2 312.9h0.65M49.8 299.7h0.65M54.6 317.5h0.65M57.7 296.5h0.65M52.8 301.9h0.65M54.9 317.1h0.65M38.9 319.0h0.65M56.2 297.8h0.65M58.3 312.0h0.65M49.1 326.7h0.65M32.0 309.7h0.65M52.1 290.0h0.65M39.2 312.9h0.65M41.5 311.3h0.65M57.2 294.3h0.65M52.5 301.6h0.65M47.8 318.6h0.65M40.8 316.4h0.65M61.1 324.8h0.65M44.9 306.0h0.65M30.9 314.9h0.65M50.6 317.4h0.65M60.3 314.7h0.65M53.3 309.8h0.65M55.5 327.4h0.65M57.5 300.1h0.65M59.8 306.0h0.65M46.0 308.7h0.65M54.2 304.7h0.65M44.1 299.3h0.65M51.3 295.6h0.65M49.3 293.0h0.65M58.3 322.3h0.65M45.0 295.4h0.65M42.1 313.4h0.65M57.1 292.4h0.65M54.9 291.2h0.65M47.3 297.2h0.65M47.3 313.8h0.65M52.9 301.5h0.65M24.5 314.2h0.65M47.6 320.5h0.65M25.2 313.0h0.65M51.7 326.9h0.65M54.1 291.5h0.65M54.5 309.8h0.65M53.6 292.9h0.65M49.5 294.4h0.65M45.2 293.3h0.65M35.2 314.5h0.65M58.3 317.0h0.65M56.5 329.9h0.65M58.3 293.8h0.65M58.2 299.0h0.65M54.5 294.8h0.65M43.6 314.3h0.65M57.8 312.0h0.65M40.8 300.7h0.65M54.6 322.5h0.65M56.7 310.8h0.65M48.5 295.1h0.65M54.8 290.2h0.65M51.3 299.0h0.65M47.5 292.2h0.65M60.0 323.1h0.65M53.5 332.3h0.65M58.0 297.1h0.65M60.8 309.8h0.65M56.9 300.3h0.65M47.7 321.8h0.65M28.4 315.1h0.65M52.1 298.5h0.65M57.5 330.1h0.65M48.8 313.4h0.65M59.9 318.5h0.65M49.6 330.1h0.65M62.7 300.4h0.65M31.5 314.2h0.65M41.2 297.8h0.65M51.2 322.3h0.65M57.0 313.1h0.65M53.9 323.9h0.65M52.8 303.1h0.65M46.6 325.2h0.65M23.8 315.5h0.65M59.3 303.6h0.65M62.1 321.4h0.65M47.1 310.4h0.65M49.6 324.6h0.65M31.1 312.8h0.65M61.1 308.1h0.65M59.1 312.2h0.65M43.2 316.5h0.65M35.8 314.2h0.65M47.8 300.9h0.65M26.3 314.1h0.65M62.3 321.1h0.65M61.2 303.2h0.65M54.5 326.4h0.65M48.8 290.8h0.65M41.1 314.2h0.65M32.6 311.4h0.65M45.5 324.2h0.65M33.0 316.7h0.65M52.7 313.7h0.65M37.8 311.6h0.65M50.4 308.3h0.65M53.2 321.9h0.65M53.8 308.2h0.65M35.4 313.8h0.65M29.4 312.6h0.65M53.6 325.6h0.65M58.9 313.8h0.65M51.2 291.9h0.65M49.6 299.3h0.65M31.0 316.1h0.65M37.2 315.4h0.65M50.0 308.5h0.65M51.4 325.6h0.65M42.6 301.4h0.65M49.5 304.3h0.65M55.9 291.2h0.65M42.8 304.6h0.65M55.4 314.8h0.65M40.2 313.5h0.65M43.6 314.1h0.65M44.4 299.6h0.65M47.0 323.1h0.65M43.5 303.4h0.65M45.4 319.3h0.65M39.9 307.5h0.65M44.4 322.3h0.65M59.6 315.9h0.65M34.7 317.0h0.65M41.2 319.8h0.65M56.0 331.3h0.65M24.1 311.7h0.65M38.8 308.7h0.65M56.5 308.3h0.65M45.3 322.3h0.65M58.5 314.7h0.65M44.7 293.7h0.65M54.6 318.5h0.65M28.9 314.5h0.65M58.7 326.2h0.65M38.6 305.2h0.65M44.8 307.5h0.65M47.7 306.6h0.65M55.9 309.1h0.65M55.6 322.3h0.65M59.5 304.9h0.65M48.6 306.5h0.65M51.9 297.4h0.65M42.8 322.8h0.65M50.7 319.1h0.65M48.0 328.8h0.65M38.4 311.5h0.65M53.4 297.4h0.65M51.4 316.1h0.65M58.5 303.7h0.65M56.7 326.5h0.65M58.0 321.2h0.65M52.7 325.0h0.65M58.9 303.3h0.65M56.1 307.9h0.65M49.8 290.9h0.65M61.2 301.6h0.65M31.5 310.5h0.65M42.7 310.5h0.65M52.4 297.3h0.65M55.5 303.5h0.65M53.3 321.0h0.65M55.5 307.7h0.65M37.4 312.0h0.65M57.7 296.9h0.65M51.7 310.0h0.65M61.5 320.2h0.65M60.7 307.3h0.65M42.0 300.2h0.65M32.0 316.5h0.65M46.4 321.4h0.65M53.7 331.5h0.65M44.7 316.1h0.65M44.8 310.1h0.65M36.8 311.4h0.65M41.4 313.1h0.65M36.2 315.8h0.65M46.9 308.9h0.65M42.0 299.6h0.65M56.0 310.1h0.65M61.6 303.9h0.65M46.8 307.4h0.65M50.1 313.6h0.65M44.9 293.9h0.65M23.5 311.9h0.65M49.5 320.0h0.65M57.0 330.9h0.65M50.3 304.7h0.65M47.9 296.9h0.65M50.8 330.5h0.65M38.3 311.2h0.65M49.1 322.5h0.65M49.8 302.8h0.65M43.5 316.7h0.65M58.0 291.9h0.65M54.9 319.4h0.65M58.4 324.8h0.65M54.3 312.4h0.65M45.1 302.0h0.65M47.1 291.4h0.65M52.6 330.9h0.65M41.8 309.5h0.65M47.0 305.8h0.65M60.9 298.6h0.65M43.1 319.4h0.65M53.6 302.6h0.65M56.3 311.3h0.65M59.4 323.2h0.65M50.6 300.6h0.65M51.7 330.4h0.65M38.9 305.1h0.65M58.2 323.7h0.65M62.0 307.3h0.65M55.6 298.3h0.65M45.3 322.0h0.65M52.5 319.5h0.65M46.2 316.3h0.65M54.1 300.1h0.65M61.0 307.4h0.65M58.1 299.4h0.65M29.6 311.8h0.65M60.4 316.9h0.65M44.3 301.2h0.65M40.5 311.2h0.65M60.7 306.7h0.65M57.9 292.3h0.65M52.0 294.6h0.65M59.0 328.2h0.65M55.5 311.0h0.65M27.9 311.9h0.65M59.7 320.7h0.65M61.7 314.9h0.65M54.3 303.4h0.65M32.6 313.5h0.65M48.6 308.8h0.65M33.1 317.1h0.65M50.7 307.4h0.65M25.2 312.6h0.65M60.8 296.9h0.65M62.1 296.2h0.65M57.3 328.3h0.65M37.2 316.9h0.65M35.7 309.7h0.65M49.8 301.3h0.65M47.4 318.7h0.65M62.8 298.1h0.65M59.7 314.8h0.65M58.7 317.9h0.65M34.3 311.2h0.65M48.7 323.1h0.65M45.3 316.6h0.65M27.3 312.2h0.65M55.4 306.0h0.65M40.9 316.5h0.65M57.4 319.1h0.65M50.8 299.0h0.65M51.9 317.7h0.65M58.2 291.9h0.65M42.9 304.1h0.65M57.0 309.1h0.65M45.6 294.4h0.65M45.9 316.8h0.65" stroke="#6a6a6a" stroke-width="0.65" fill="none" opacity="0.7"/>
<path d="M105.7 298.4h0.65M132.5 310.5h0.65M136.1 304.6h0.65M110.7 290.2h0.65M128.6 287.7h0.65M118.0 325.0h0.65M115.9 288.0h0.65M135.1 304.9h0.65M113.8 325.9h0.65M130.2 311.9h0.65M103.7 305.4h0.65M116.3 324.7h0.65M142.7 288.5h0.65M102.6 306.1h0.65M138.7 295.2h0.65M99.5 317.0h0.65M107.9 295.2h0.65M101.6 308.1h0.65M118.8 327.7h0.65M130.9 312.3h0.65M101.5 296.3h0.65M124.6 289.2h0.65M133.7 304.1h0.65M111.8 286.5h0.65M126.8 324.2h0.65M96.2 303.9h0.65M135.6 284.2h0.65M136.7 293.5h0.65M99.6 312.5h0.65M134.6 307.7h0.65M144.7 294.3h0.65M109.8 290.4h0.65M101.9 308.7h0.65M142.9 301.6h0.65M118.2 325.9h0.65M133.7 305.6h0.65M121.6 321.5h0.65M120.2 326.5h0.65M111.0 282.1h0.65M96.9 316.0h0.65M110.0 322.0h0.65M95.9 315.2h0.65M103.9 320.1h0.65M124.3 286.3h0.65M98.6 324.0h0.65M112.9 324.8h0.65M137.1 297.9h0.65M133.5 290.9h0.65M112.6 288.2h0.65M138.2 300.0h0.65M129.1 288.3h0.65M143.4 291.5h0.65M124.7 320.8h0.65M112.0 294.8h0.65M103.1 304.6h0.65M112.3 291.3h0.65M96.8 313.4h0.65M101.3 299.6h0.65M125.7 286.7h0.65M129.8 315.5h0.65M134.7 308.8h0.65M102.6 307.0h0.65M115.7 324.3h0.65M98.3 316.1h0.65M137.3 295.8h0.65M127.0 322.2h0.65M124.3 318.1h0.65M111.1 326.5h0.65M133.7 311.8h0.65M101.0 321.8h0.65M114.4 331.9h0.65M131.9 287.5h0.65M138.8 313.7h0.65M129.1 286.6h0.65M138.1 291.4h0.65M96.6 314.4h0.65M136.8 290.0h0.65M106.3 320.1h0.65M128.7 289.3h0.65M130.7 309.5h0.65M116.8 327.1h0.65M140.9 298.2h0.65M105.1 323.2h0.65M128.8 316.7h0.65M133.3 306.7h0.65M102.9 317.1h0.65M106.1 320.8h0.65M125.2 321.5h0.65M140.3 290.2h0.65M133.7 310.3h0.65M140.7 299.9h0.65M101.8 307.4h0.65M97.8 316.2h0.65M115.5 290.2h0.65M101.6 324.1h0.65M113.6 289.8h0.65M134.6 301.0h0.65M119.4 285.5h0.65M135.8 303.9h0.65M104.7 319.5h0.65M136.2 293.6h0.65M125.6 286.1h0.65M105.2 302.4h0.65M102.5 304.3h0.65M96.1 312.2h0.65M135.1 299.9h0.65M130.0 314.4h0.65M102.6 305.8h0.65M135.5 304.1h0.65M136.9 296.7h0.65M96.7 318.8h0.65M100.1 314.0h0.65M126.6 320.9h0.65M104.3 294.4h0.65M123.1 286.0h0.65M97.6 312.0h0.65M96.0 313.1h0.65M116.7 289.9h0.65M132.9 312.6h0.65M122.0 279.9h0.65M115.6 329.6h0.65M99.5 313.5h0.65M112.0 291.7h0.65M109.7 290.8h0.65M103.0 320.0h0.65M127.1 288.9h0.65M107.1 320.3h0.65M110.6 294.2h0.65M118.3 284.6h0.65M121.4 282.6h0.65M118.1 324.4h0.65M131.6 291.4h0.65M134.3 292.5h0.65M101.1 314.9h0.65M109.2 322.9h0.65M110.0 295.2h0.65M130.3 325.7h0.65M122.2 320.0h0.65M103.1 322.0h0.65M118.3 323.9h0.65M100.5 309.8h0.65M137.6 297.0h0.65M104.2 324.0h0.65M131.0 285.8h0.65M135.6 303.5h0.65M131.3 316.5h0.65M101.8 303.9h0.65M134.1 309.7h0.65M97.8 316.3h0.65M137.9 290.6h0.65M127.2 317.6h0.65M112.4 285.5h0.65M117.1 286.0h0.65M124.9 288.4h0.65M108.3 323.4h0.65M132.5 289.3h0.65M99.6 320.1h0.65M111.2 326.5h0.65M107.1 296.3h0.65M112.5 324.4h0.65M103.9 291.7h0.65M130.2 316.0h0.65M126.5 279.7h0.65M113.1 323.4h0.65M97.7 314.9h0.65M128.2 285.2h0.65M129.3 320.1h0.65M122.7 285.7h0.65M101.6 319.1h0.65M130.8 290.4h0.65M121.5 282.9h0.65M133.3 289.9h0.65M100.8 313.5h0.65M142.7 312.1h0.65M133.8 303.1h0.65M127.3 286.1h0.65M118.8 285.3h0.65M104.5 295.5h0.65M107.2 327.4h0.65M104.8 299.5h0.65M98.4 316.1h0.65M123.8 320.9h0.65M98.0 322.2h0.65M135.1 311.0h0.65M135.7 291.2h0.65M116.4 291.4h0.65M139.1 293.4h0.65M120.8 323.2h0.65M97.6 313.7h0.65M132.2 290.8h0.65M100.9 316.2h0.65M117.4 324.0h0.65M131.0 283.9h0.65M136.2 285.4h0.65M111.6 328.7h0.65M110.6 293.0h0.65M119.4 326.7h0.65M111.2 321.9h0.65M140.3 282.7h0.65M139.6 310.0h0.65M127.4 284.4h0.65M125.5 286.2h0.65M106.0 325.1h0.65M96.8 322.4h0.65M133.0 313.7h0.65M133.8 301.9h0.65M134.5 290.7h0.65M140.8 282.7h0.65M119.4 287.9h0.65M96.4 314.6h0.65M116.9 323.9h0.65M134.1 304.5h0.65M100.3 297.2h0.65M123.6 287.1h0.65M112.7 291.4h0.65M121.8 288.3h0.65M96.9 314.9h0.65M130.5 288.6h0.65M116.5 291.2h0.65M133.0 308.8h0.65M138.0 300.5h0.65M135.9 305.6h0.65M130.6 312.1h0.65M98.0 295.9h0.65M103.5 305.1h0.65M126.4 321.8h0.65M116.1 291.2h0.65M101.8 318.1h0.65M97.7 313.9h0.65M125.3 288.3h0.65M96.0 310.4h0.65M127.2 288.5h0.65M116.9 323.9h0.65M102.8 317.3h0.65M98.6 315.9h0.65M109.9 321.7h0.65M134.6 283.6h0.65M126.9 320.8h0.65M98.6 306.5h0.65M136.2 316.8h0.65M109.7 323.7h0.65M134.5 302.3h0.65M109.0 292.3h0.65M128.1 324.5h0.65M120.1 288.8h0.65M139.6 286.5h0.65M121.3 322.7h0.65M109.4 294.0h0.65M133.3 290.4h0.65M98.3 309.4h0.65M118.2 286.7h0.65M112.1 290.4h0.65M129.9 316.6h0.65M133.2 289.7h0.65M101.8 317.8h0.65M97.5 315.9h0.65M128.0 321.2h0.65M103.1 302.8h0.65M132.9 316.8h0.65M118.6 286.3h0.65M109.6 293.9h0.65M129.8 283.0h0.65M130.0 287.3h0.65M129.7 320.9h0.65M101.3 304.8h0.65M105.2 319.2h0.65M134.8 298.7h0.65M95.9 313.8h0.65M97.8 311.1h0.65M136.2 293.0h0.65M110.7 328.5h0.65M134.2 304.4h0.65M137.2 292.8h0.65M138.0 297.3h0.65M138.3 290.8h0.65M112.3 292.8h0.65M133.7 312.3h0.65M135.0 297.7h0.65M110.8 324.7h0.65M120.6 288.0h0.65M133.2 310.4h0.65M110.3 293.3h0.65M119.7 325.2h0.65M136.0 299.8h0.65M136.3 295.8h0.65M117.4 288.9h0.65M99.1 313.2h0.65M120.9 289.0h0.65M112.3 331.3h0.65M127.5 285.8h0.65M132.4 313.7h0.65M112.1 334.7h0.65M96.9 317.7h0.65M112.4 323.7h0.65M99.2 312.3h0.65M131.9 286.3h0.65M135.3 298.0h0.65M99.2 314.1h0.65M131.8 289.5h0.65M130.1 289.1h0.65M129.1 288.9h0.65M112.6 323.0h0.65M98.0 315.7h0.65M100.9 310.4h0.65M105.3 298.3h0.65M133.8 312.4h0.65M111.9 294.1h0.65M104.3 320.8h0.65M117.9 285.8h0.65M135.4 302.9h0.65M135.4 309.6h0.65M134.0 308.4h0.65M109.0 297.8h0.65M104.0 319.5h0.65M108.2 322.3h0.65M145.1 300.7h0.65M134.3 300.9h0.65M138.0 289.1h0.65M126.8 318.8h0.65M114.6 324.6h0.65M115.1 288.9h0.65M118.0 290.3h0.65M129.0 284.3h0.65M99.6 305.3h0.65M100.5 316.3h0.65M112.4 326.3h0.65M123.6 287.9h0.65M121.2 326.2h0.65M138.1 302.4h0.65M136.2 299.4h0.65M103.0 301.1h0.65M114.4 287.0h0.65M124.6 318.1h0.65M137.4 311.5h0.65M106.4 293.2h0.65M129.7 286.4h0.65M126.7 289.2h0.65M120.6 321.6h0.65M136.1 322.5h0.65M118.4 286.7h0.65M131.3 313.8h0.65M134.5 286.1h0.65M122.4 285.1h0.65M110.4 284.5h0.65M112.9 293.1h0.65M96.4 311.9h0.65M119.4 284.8h0.65M131.4 318.5h0.65M121.9 288.2h0.65M141.3 291.5h0.65M136.1 285.2h0.65M100.1 309.4h0.65M116.0 289.4h0.65M99.0 316.5h0.65M98.7 312.6h0.65M121.1 284.2h0.65M102.1 299.8h0.65M105.8 323.3h0.65M99.5 314.0h0.65M102.3 319.1h0.65M135.4 292.3h0.65M120.3 289.5h0.65M136.3 290.3h0.65M117.2 288.7h0.65M99.5 324.0h0.65M135.9 290.9h0.65M133.6 306.3h0.65M133.0 315.0h0.65M96.3 313.8h0.65M119.1 323.3h0.65M136.6 287.8h0.65M136.2 295.0h0.65M96.2 319.5h0.65M136.3 294.1h0.65M140.3 302.6h0.65M110.6 332.9h0.65M121.8 323.0h0.65M135.2 311.6h0.65M137.9 296.1h0.65M135.6 291.1h0.65M136.4 316.4h0.65M100.2 311.0h0.65M115.2 288.3h0.65M120.5 322.3h0.65M112.6 292.7h0.65M97.8 313.7h0.65M129.8 314.9h0.65M103.4 320.9h0.65M100.5 315.0h0.65M102.3 318.7h0.65M112.3 291.7h0.65M137.4 286.6h0.65M107.7 325.1h0.65M139.0 297.7h0.65M103.1 302.9h0.65M134.9 309.9h0.65M125.6 290.0h0.65M101.2 330.7h0.65M133.4 282.1h0.65M133.0 287.8h0.65M110.4 287.4h0.65M139.7 295.9h0.65M125.2 320.2h0.65M98.2 318.9h0.65M114.6 325.7h0.65M104.6 303.1h0.65M135.8 311.1h0.65M130.8 316.2h0.65M109.2 294.8h0.65M97.1 311.0h0.65M135.3 286.5h0.65M128.5 330.6h0.65M131.8 313.0h0.65M110.2 325.2h0.65M135.5 320.4h0.65M110.5 330.5h0.65M117.2 323.2h0.65M101.9 296.3h0.65M95.7 325.7h0.65M134.5 303.1h0.65M115.2 327.2h0.65M104.1 320.1h0.65M114.1 291.7h0.65M118.3 328.2h0.65M97.3 313.7h0.65M99.2 311.0h0.65M97.5 317.5h0.65M136.3 310.2h0.65M116.2 286.1h0.65M117.5 325.6h0.65M100.3 307.4h0.65M136.1 295.2h0.65M123.4 318.4h0.65M129.6 319.4h0.65M136.9 296.4h0.65M100.2 312.3h0.65M103.0 299.1h0.65M108.1 322.2h0.65M114.3 287.7h0.65M108.2 333.8h0.65M102.0 316.7h0.65M110.3 293.3h0.65M98.6 321.8h0.65M108.8 295.1h0.65M101.2 320.1h0.65M130.8 315.4h0.65M119.0 323.0h0.65M105.0 322.5h0.65M134.6 284.4h0.65M114.3 326.5h0.65M105.1 334.1h0.65M134.8 295.6h0.65M137.4 311.0h0.65M98.9 308.3h0.65M146.0 305.6h0.65M101.6 317.8h0.65M99.8 313.5h0.65M99.8 323.6h0.65M138.3 300.6h0.65M130.2 316.4h0.65M105.3 300.7h0.65M141.5 302.8h0.65M107.9 293.7h0.65M130.8 310.2h0.65M106.4 321.0h0.65M123.1 288.5h0.65M130.0 288.7h0.65M109.0 330.3h0.65M124.2 288.6h0.65M100.3 314.4h0.65M137.0 292.5h0.65M128.4 286.4h0.65M132.5 311.8h0.65M100.0 302.8h0.65M125.0 319.7h0.65M135.5 294.8h0.65M99.5 318.5h0.65M107.2 296.6h0.65M130.9 287.0h0.65M132.6 286.9h0.65M136.9 298.4h0.65M110.6 294.8h0.65M114.6 285.0h0.65M113.5 323.9h0.65M103.9 304.2h0.65M124.2 323.3h0.65M111.9 282.6h0.65M114.9 326.7h0.65M136.6 292.7h0.65M105.0 319.7h0.65M101.3 304.0h0.65M122.6 320.8h0.65M129.3 283.2h0.65M96.5 316.4h0.65M138.5 291.6h0.65M111.4 325.6h0.65M133.3 286.3h0.65M104.4 323.3h0.65M131.0 289.0h0.65M114.3 328.0h0.65M121.1 287.9h0.65M132.3 289.2h0.65M100.4 310.5h0.65M124.1 321.0h0.65M100.9 323.9h0.65M100.2 314.4h0.65M105.1 323.9h0.65M107.3 297.2h0.65M115.9 287.9h0.65M107.3 288.8h0.65M106.6 323.1h0.65M134.7 324.5h0.65M128.2 318.8h0.65M96.8 317.3h0.65M126.1 321.8h0.65M118.4 328.5h0.65M127.2 286.5h0.65M99.4 320.0h0.65M104.9 302.6h0.65M116.2 283.5h0.65M137.2 309.5h0.65M106.1 329.5h0.65M98.1 316.3h0.65M100.5 307.5h0.65M129.6 288.2h0.65M118.3 321.6h0.65M115.6 325.3h0.65M110.5 291.0h0.65M110.9 286.7h0.65M101.5 307.3h0.65M106.4 296.4h0.65M106.0 297.1h0.65M108.2 297.8h0.65M127.8 316.0h0.65M110.9 323.0h0.65M102.3 298.4h0.65M133.6 321.0h0.65M104.9 299.0h0.65M99.7 315.6h0.65M122.9 283.3h0.65M112.6 326.5h0.65M105.3 323.8h0.65M99.7 312.5h0.65M136.5 291.8h0.65M96.3 291.7h0.65M136.8 291.4h0.65M113.5 328.3h0.65M100.5 313.9h0.65M99.2 313.9h0.65M111.3 326.0h0.65M100.7 315.8h0.65M105.4 321.8h0.65M121.9 328.9h0.65M99.0 304.3h0.65M142.5 300.7h0.65M107.7 320.6h0.65M135.5 295.1h0.65M100.2 309.9h0.65M132.9 289.1h0.65M137.5 300.2h0.65M121.6 329.7h0.65M106.8 322.2h0.65M100.7 298.3h0.65M103.3 300.1h0.65M140.2 288.7h0.65M139.9 291.7h0.65M122.8 287.5h0.65M110.5 292.4h0.65M98.5 317.9h0.65M117.9 322.9h0.65M145.3 297.3h0.65M108.7 321.3h0.65M102.3 304.6h0.65M116.4 322.8h0.65M122.6 319.6h0.65M122.9 285.4h0.65M133.1 314.7h0.65M139.4 291.5h0.65M129.2 316.4h0.65M127.5 316.7h0.65M121.9 327.9h0.65M136.9 298.8h0.65M96.1 323.1h0.65M96.3 314.6h0.65M132.3 312.2h0.65M133.1 320.5h0.65M108.5 327.2h0.65M110.5 293.5h0.65M139.0 287.9h0.65M112.4 323.2h0.65M137.8 307.4h0.65M119.7 320.5h0.65M135.5 304.7h0.65M112.1 289.3h0.65M97.8 316.1h0.65M103.7 319.7h0.65M99.0 316.0h0.65M107.5 296.0h0.65M105.8 289.4h0.65M117.8 288.2h0.65M136.3 301.4h0.65M100.1 313.2h0.65M128.9 287.6h0.65M118.0 324.0h0.65M136.2 288.6h0.65M137.1 288.8h0.65M110.7 324.3h0.65M134.5 303.2h0.65M120.2 287.4h0.65M137.0 306.4h0.65M139.6 284.8h0.65M139.5 319.7h0.65M116.2 325.1h0.65M133.8 285.0h0.65M130.1 284.7h0.65M103.6 318.0h0.65M136.3 291.5h0.65M136.6 307.3h0.65M100.2 305.9h0.65M128.4 288.5h0.65M106.2 321.6h0.65M100.1 315.2h0.65M122.1 322.8h0.65M134.6 304.9h0.65M104.5 295.0h0.65M137.6 303.4h0.65M136.2 290.5h0.65M114.2 335.6h0.65M99.9 326.2h0.65M112.8 292.6h0.65M109.4 293.9h0.65M107.3 296.9h0.65M98.6 315.7h0.65M102.7 316.9h0.65M122.7 324.3h0.65M132.8 284.8h0.65M123.4 322.4h0.65M109.9 296.6h0.65M134.6 283.7h0.65M129.2 314.0h0.65M111.0 291.5h0.65M135.0 299.1h0.65M105.5 320.0h0.65M131.3 290.4h0.65M109.1 292.7h0.65M120.6 278.8h0.65M98.8 311.7h0.65M110.7 292.8h0.65M135.5 307.1h0.65M129.3 313.7h0.65M95.9 313.9h0.65M132.7 290.4h0.65M143.1 300.3h0.65M99.0 305.3h0.65M106.2 321.8h0.65M100.6 320.6h0.65M123.3 320.8h0.65M134.4 301.0h0.65M134.9 295.9h0.65M104.3 304.7h0.65M123.4 325.6h0.65M126.6 288.3h0.65M120.3 326.7h0.65M100.6 317.7h0.65M137.1 292.2h0.65M104.3 301.0h0.65M125.1 289.4h0.65M132.7 289.2h0.65M103.6 298.0h0.65M135.6 311.1h0.65M121.3 286.4h0.65M102.6 301.0h0.65M117.9 326.4h0.65M98.6 315.6h0.65M126.8 289.4h0.65M96.0 313.6h0.65M99.6 315.7h0.65M107.2 300.4h0.65M116.0 290.3h0.65M110.2 324.6h0.65M105.0 319.3h0.65M140.4 293.1h0.65M107.1 323.4h0.65M107.9 322.8h0.65M114.8 325.1h0.65M98.1 315.3h0.65M119.1 325.8h0.65M127.8 314.7h0.65M102.3 306.7h0.65M113.6 323.7h0.65M112.1 324.2h0.65M134.2 289.2h0.65M112.9 290.5h0.65M113.2 288.1h0.65M114.8 331.8h0.65M125.9 284.7h0.65M122.3 283.8h0.65M107.6 319.6h0.65M134.7 299.6h0.65M119.8 282.7h0.65M97.6 314.1h0.65M140.4 291.9h0.65M128.4 317.7h0.65M110.8 330.7h0.65M113.6 291.3h0.65M132.7 309.4h0.65M105.3 324.7h0.65M112.9 326.0h0.65M100.3 315.0h0.65M102.1 304.0h0.65M111.4 295.0h0.65M123.1 326.7h0.65M135.3 296.1h0.65M106.2 298.8h0.65M115.8 285.1h0.65M109.1 327.4h0.65M99.3 300.2h0.65M107.8 322.7h0.65M103.7 293.6h0.65M103.3 304.2h0.65M121.7 286.7h0.65M143.0 283.0h0.65M116.2 288.2h0.65M141.7 299.8h0.65M121.6 281.8h0.65M135.5 310.2h0.65M129.7 314.5h0.65M138.3 289.1h0.65M124.4 288.9h0.65M106.2 327.9h0.65M105.9 297.1h0.65M100.5 308.8h0.65M97.6 302.1h0.65M115.1 291.4h0.65M107.8 324.9h0.65M138.4 291.8h0.65M120.4 285.3h0.65M139.9 295.5h0.65M130.8 284.6h0.65M121.4 327.3h0.65M115.2 288.8h0.65M105.8 297.4h0.65M133.1 318.4h0.65M97.7 312.4h0.65M114.9 285.1h0.65M113.5 288.2h0.65M104.1 319.6h0.65M122.6 319.8h0.65M134.9 293.0h0.65M129.4 284.3h0.65M126.6 280.6h0.65M100.0 314.8h0.65M110.7 291.1h0.65M128.0 322.1h0.65M127.9 315.0h0.65M105.2 321.2h0.65M97.7 312.0h0.65M147.0 313.9h0.65M105.4 301.4h0.65M132.5 312.1h0.65M110.3 325.8h0.65M136.8 292.3h0.65M141.6 314.4h0.65M112.6 292.2h0.65M102.8 297.5h0.65M101.3 316.2h0.65M106.3 328.4h0.65M110.2 324.4h0.65M105.4 324.2h0.65M136.0 305.3h0.65M135.1 286.6h0.65M134.6 302.6h0.65M135.4 315.8h0.65M101.7 318.8h0.65M120.0 328.4h0.65M127.7 317.1h0.65M104.0 304.7h0.65M96.6 313.7h0.65M138.8 307.3h0.65M104.8 300.8h0.65M131.7 291.8h0.65M131.7 314.6h0.65M106.8 323.3h0.65M124.7 287.9h0.65M130.1 314.6h0.65M129.2 286.1h0.65M104.1 300.5h0.65M100.1 314.8h0.65M98.7 315.8h0.65M98.0 319.9h0.65M112.7 325.5h0.65M132.6 290.2h0.65M98.5 317.1h0.65M116.1 288.4h0.65M95.8 318.0h0.65M107.0 296.8h0.65M126.9 317.7h0.65M134.7 291.9h0.65M136.9 290.2h0.65M99.5 317.2h0.65M100.9 301.8h0.65M110.6 323.2h0.65M141.2 284.4h0.65M129.2 313.8h0.65M135.3 304.9h0.65M133.2 312.7h0.65M106.5 297.1h0.65M127.6 319.2h0.65M98.4 319.2h0.65M119.8 325.2h0.65M118.1 323.6h0.65M118.2 288.5h0.65M98.8 316.9h0.65M107.9 297.7h0.65M119.3 287.5h0.65M108.8 325.1h0.65M127.1 288.7h0.65M107.9 297.1h0.65M110.0 293.3h0.65M122.5 283.9h0.65M110.8 328.6h0.65M127.5 321.8h0.65M114.3 291.7h0.65M98.2 313.8h0.65M123.9 317.4h0.65M130.9 288.6h0.65M102.5 306.1h0.65M130.8 320.3h0.65M101.2 317.9h0.65M103.1 319.5h0.65M97.6 314.7h0.65M96.8 316.1h0.65M117.1 289.4h0.65M101.3 317.1h0.65M123.0 320.9h0.65M106.8 300.4h0.65M101.7 300.3h0.65M131.0 311.7h0.65M116.2 325.9h0.65M114.1 287.8h0.65M104.0 292.6h0.65M113.0 323.3h0.65M125.3 287.5h0.65M131.3 319.9h0.65M122.9 289.0h0.65M98.4 317.2h0.65M136.4 300.1h0.65M133.6 305.5h0.65M99.0 317.3h0.65M116.2 288.7h0.65M104.0 321.2h0.65M136.9 311.5h0.65M125.1 318.5h0.65M108.6 295.3h0.65M96.3 313.0h0.65M122.6 319.6h0.65M129.5 285.1h0.65M121.0 289.1h0.65M106.7 323.7h0.65M113.5 328.8h0.65M113.4 325.1h0.65M139.3 313.1h0.65M130.5 289.1h0.65M96.7 313.0h0.65M128.0 287.1h0.65M111.6 323.5h0.65M110.8 288.8h0.65M129.8 288.5h0.65M118.3 322.6h0.65M124.7 317.4h0.65M98.3 316.0h0.65M95.8 316.6h0.65M132.5 309.5h0.65M111.8 323.1h0.65M119.8 287.7h0.65M136.6 290.3h0.65M117.8 324.5h0.65M120.5 285.6h0.65M118.0 288.3h0.65M133.6 293.5h0.65M120.5 323.7h0.65M110.1 324.1h0.65M122.3 321.8h0.65M135.8 305.7h0.65M108.8 290.7h0.65M114.5 328.7h0.65M104.4 296.6h0.65M128.2 315.3h0.65M129.2 288.4h0.65M107.2 299.0h0.65M121.5 285.4h0.65M118.4 323.6h0.65M130.3 289.1h0.65M130.9 312.2h0.65M135.2 308.0h0.65M126.5 321.0h0.65M106.8 301.5h0.65M124.9 321.3h0.65M136.3 310.3h0.65M138.5 312.5h0.65M132.8 309.0h0.65M136.2 293.3h0.65M99.4 321.5h0.65M136.5 297.6h0.65M100.7 309.7h0.65M101.9 319.1h0.65M118.2 282.6h0.65M103.1 303.0h0.65M131.2 314.7h0.65M133.4 317.1h0.65M103.5 304.1h0.65M127.2 286.3h0.65M106.2 320.3h0.65M106.4 298.4h0.65M97.4 315.6h0.65M97.7 316.5h0.65M140.6 289.8h0.65M96.4 313.9h0.65M135.4 304.1h0.65M100.1 307.9h0.65M126.1 286.8h0.65M133.5 317.1h0.65M134.1 305.2h0.65M135.9 304.2h0.65M110.4 293.8h0.65M97.6 310.9h0.65M129.4 285.0h0.65M107.7 326.3h0.65M140.7 294.8h0.65M109.7 294.3h0.65M116.4 326.4h0.65M100.1 307.0h0.65M103.4 322.3h0.65M97.9 300.5h0.65M98.4 313.5h0.65M132.7 318.9h0.65M101.6 298.4h0.65M136.7 307.0h0.65M146.4 302.0h0.65M108.4 297.9h0.65M129.6 315.8h0.65M102.8 303.1h0.65M101.5 317.8h0.65M129.3 286.7h0.65M116.1 324.3h0.65M134.4 300.2h0.65M134.5 301.5h0.65M96.8 311.1h0.65M107.6 288.5h0.65M138.7 306.2h0.65M107.8 321.5h0.65M141.0 285.3h0.65M130.8 314.5h0.65M125.3 316.7h0.65M114.4 287.6h0.65M106.7 289.9h0.65M131.4 311.9h0.65M125.7 317.8h0.65M100.5 308.0h0.65M134.9 284.8h0.65M121.9 283.8h0.65M119.3 325.4h0.65M119.4 322.1h0.65M130.4 314.6h0.65M97.6 302.1h0.65M97.1 314.3h0.65M123.6 284.6h0.65M117.1 323.8h0.65M119.0 324.5h0.65M115.5 288.7h0.65M97.1 315.1h0.65M117.8 287.3h0.65M99.8 314.2h0.65M98.4 321.0h0.65M126.4 319.8h0.65M137.8 300.7h0.65M118.8 286.8h0.65M101.0 308.3h0.65M109.2 290.1h0.65M134.7 298.5h0.65M121.7 288.1h0.65M136.2 295.8h0.65M102.0 308.4h0.65M132.9 312.5h0.65M99.0 313.8h0.65M112.0 327.3h0.65M98.8 304.3h0.65M113.4 325.4h0.65M136.1 292.0h0.65M130.0 288.4h0.65M102.0 321.4h0.65M106.9 335.8h0.65M104.2 296.5h0.65M126.1 284.6h0.65M106.2 319.6h0.65M131.4 285.7h0.65M136.5 283.2h0.65M128.2 316.6h0.65M118.7 283.5h0.65M111.4 291.5h0.65M135.7 312.2h0.65M99.3 297.7h0.65M136.1 288.1h0.65M131.2 286.6h0.65M135.0 297.2h0.65M119.6 324.2h0.65M101.3 323.1h0.65M135.8 298.4h0.65M99.1 308.7h0.65M108.5 322.6h0.65M132.5 283.2h0.65M132.4 286.2h0.65M100.0 316.3h0.65M122.3 319.7h0.65M97.5 317.6h0.65M129.2 316.0h0.65M119.0 289.1h0.65M105.5 321.2h0.65M134.6 304.6h0.65M125.6 316.6h0.65M121.8 287.3h0.65M123.9 320.6h0.65M112.9 326.8h0.65M113.4 292.0h0.65M106.3 298.0h0.65M108.8 325.2h0.65M110.5 291.1h0.65M123.9 285.7h0.65M101.9 318.4h0.65M130.7 319.1h0.65M125.8 327.9h0.65M112.2 322.4h0.65M123.8 288.9h0.65M108.4 299.4h0.65M135.1 298.2h0.65M115.2 324.8h0.65M124.1 323.9h0.65M130.8 286.8h0.65M119.2 287.7h0.65M138.4 289.0h0.65M101.5 297.2h0.65M130.8 313.0h0.65M135.5 309.8h0.65M138.4 291.1h0.65M110.9 293.4h0.65M139.4 311.5h0.65M113.3 326.8h0.65M133.7 303.6h0.65M110.7 325.2h0.65M127.7 289.3h0.65M97.9 322.3h0.65M124.7 289.1h0.65M127.8 316.5h0.65M121.8 288.8h0.65M101.8 302.9h0.65M138.6 296.8h0.65M114.9 290.2h0.65M108.9 322.9h0.65M127.5 288.4h0.65M120.4 282.1h0.65M138.8 306.1h0.65M101.8 302.3h0.65M97.3 314.9h0.65M125.9 289.3h0.65M96.3 313.8h0.65M114.0 289.3h0.65M114.8 290.7h0.65M117.7 288.0h0.65M114.3 290.7h0.65M134.8 301.0h0.65M121.9 286.2h0.65" stroke="#8a8a8a" stroke-width="0.65" fill="none"/>
<path d="M98.3,312.7 C98.98,310.77 101.45,306.8 103,304 C104.55,301.2 105.87,298.22 107.6,295.9 C109.33,293.58 111.08,291.55 113.4,290.1 C115.72,288.65 118.62,287.58 121.5,287.2 C124.38,286.82 128.3,286.93 130.7,287.8 C133.1,288.67 134.93,290.47 135.9,292.4 C136.87,294.33 136.78,296.7 136.5,299.4 C136.22,302.1 135.35,305.9 134.2,308.6 C133.05,311.3 131.53,313.47 129.6,315.6 C127.67,317.73 124.92,319.87 122.6,321.4 C120.28,322.93 117.82,324.33 115.7,324.8 C113.58,325.27 112.03,325.17 109.9,324.2 C107.77,323.23 104.73,320.43 102.9,319 C101.07,317.57 99.67,316.65 98.9,315.6 C98.13,314.55 97.62,314.63 98.3,312.7 Z" fill="#fbfbfb" stroke="#666" stroke-width="0.6"/>
<path d="M100.02,312.09 C100.73,310.37 103.33,306.86 104.87,304.37 C106.42,301.87 107.7,299.18 109.27,297.12 C110.83,295.06 112.25,293.35 114.25,292.01 C116.25,290.67 118.7,289.49 121.26,289.1 C123.82,288.7 127.44,288.88 129.61,289.64 C131.79,290.39 133.47,291.92 134.3,293.62 C135.13,295.32 134.94,297.39 134.58,299.84 C134.22,302.29 133.22,305.91 132.15,308.33 C131.07,310.74 129.82,312.45 128.15,314.34 C126.49,316.23 124.12,318.27 122.13,319.69 C120.14,321.11 118.08,322.39 116.21,322.85 C114.35,323.31 112.87,323.32 110.93,322.44 C108.99,321.56 106.29,318.87 104.57,317.58 C102.85,316.29 101.37,315.59 100.61,314.68 C99.85,313.76 99.31,313.81 100.02,312.09 Z" fill="#dedede" stroke="#7a7a7a" stroke-width="0.55"/>
<path d="M102.02,311.33 C102.7,309.74 105.22,306.3 106.74,304.11 C108.25,301.91 109.72,299.87 111.12,298.16 C112.51,296.45 113.41,295.03 115.09,293.85 C116.77,292.67 118.95,291.56 121.21,291.1 C123.47,290.63 126.72,290.41 128.64,291.03 C130.55,291.65 132.03,293.23 132.69,294.82 C133.35,296.41 133.02,298.44 132.6,300.57 C132.18,302.71 131.1,305.65 130.16,307.64 C129.21,309.63 128.34,310.88 126.95,312.52 C125.57,314.15 123.61,316.04 121.84,317.44 C120.07,318.83 118.02,320.35 116.33,320.87 C114.64,321.38 113.43,321.32 111.7,320.55 C109.97,319.78 107.44,317.41 105.93,316.25 C104.42,315.1 103.27,314.46 102.62,313.64 C101.96,312.82 101.33,312.91 102.02,311.33 Z" fill="#d0d0d0" stroke="#777" stroke-width="0.5"/>
<path d="M103.8,310.72 C104.62,309.23 107.35,305.82 108.82,303.92 C110.28,302.02 111.41,300.68 112.58,299.3 C113.75,297.92 114.45,296.67 115.85,295.63 C117.26,294.6 119.09,293.58 121.01,293.08 C122.93,292.59 125.7,292.19 127.37,292.68 C129.03,293.17 130.42,294.63 131,296.04 C131.58,297.46 131.25,299.4 130.83,301.17 C130.42,302.94 129.38,305 128.51,306.67 C127.64,308.35 126.76,309.78 125.63,311.23 C124.49,312.68 123.1,314.09 121.69,315.39 C120.29,316.69 118.72,318.4 117.2,319.02 C115.68,319.63 114.26,319.75 112.57,319.1 C110.88,318.44 108.5,316.13 107.06,315.09 C105.61,314.05 104.43,313.59 103.89,312.87 C103.35,312.14 102.97,312.21 103.8,310.72 Z" fill="#c6c6c6" stroke="#666" stroke-width="0.5"/>
<path d="M105.58,310.12 C106.41,308.8 109.63,305.33 111.05,303.68 C112.48,302.04 113.14,301.35 114.13,300.24 C115.12,299.14 115.9,297.98 116.99,297.06 C118.09,296.15 119.18,295.2 120.71,294.77 C122.24,294.33 124.71,294.05 126.17,294.45 C127.64,294.86 129.09,295.99 129.48,297.18 C129.86,298.36 128.92,300.1 128.47,301.58 C128.03,303.06 127.54,304.71 126.82,306.05 C126.09,307.39 124.98,308.38 124.11,309.62 C123.24,310.85 122.74,312.19 121.57,313.46 C120.41,314.72 118.43,316.59 117.13,317.19 C115.82,317.79 115.09,317.67 113.75,317.04 C112.4,316.41 110.34,314.32 109.06,313.41 C107.77,312.51 106.63,312.15 106.05,311.6 C105.47,311.05 104.75,311.44 105.58,310.12 Z" fill="#bcbcbc" stroke="#555" stroke-width="0.5"/>
<path d="M107.61,309.02 C108.5,307.85 111.62,305.24 113,303.95 C114.38,302.65 115.1,302.03 115.9,301.25 C116.7,300.46 117.01,299.89 117.81,299.21 C118.62,298.53 119.46,297.67 120.74,297.16 C122.02,296.64 124.27,295.95 125.49,296.11 C126.71,296.28 127.88,297.17 128.08,298.17 C128.27,299.16 127.21,300.82 126.67,302.08 C126.13,303.33 125.44,304.7 124.86,305.69 C124.28,306.67 123.79,307.01 123.2,308.01 C122.62,309.01 122.25,310.49 121.34,311.68 C120.43,312.87 118.9,314.55 117.73,315.16 C116.57,315.76 115.59,315.81 114.33,315.32 C113.08,314.84 111.33,312.99 110.22,312.26 C109.11,311.53 108.12,311.5 107.68,310.95 C107.25,310.41 106.72,310.19 107.61,309.02 Z" fill="#b2b2b2" stroke="#555" stroke-width="0.5"/>
<path d="M117.5,305 C117.47,303.67 117.68,301.3 118.3,300 C118.92,298.7 120.05,297.73 121.2,297.2 C122.35,296.67 124.27,296.37 125.2,296.8 C126.13,297.23 126.78,298.52 126.8,299.8 C126.82,301.08 126.18,303.17 125.3,304.5 C124.42,305.83 122.63,307.22 121.5,307.8 C120.37,308.38 119.17,308.47 118.5,308 C117.83,307.53 117.53,306.33 117.5,305 Z" fill="#c9c9c9" stroke="#1e1e1e" stroke-width="1.1"/>
<path d="M119.85,303.65 C119.83,302.98 119.94,301.8 120.25,301.15 C120.56,300.5 121.12,300.02 121.7,299.75 C122.28,299.48 123.23,299.33 123.7,299.55 C124.17,299.77 124.49,300.41 124.5,301.05 C124.51,301.69 124.19,302.73 123.75,303.4 C123.31,304.07 122.42,304.76 121.85,305.05 C121.28,305.34 120.68,305.38 120.35,305.15 C120.02,304.92 119.87,304.32 119.85,303.65 Z" fill="#f0f0f0" stroke="#777" stroke-width="0.4"/>
<path d="M112,309 C112.33,308.08 113.42,306.75 114.5,306.5 C115.58,306.25 117.75,306.75 118.5,307.5 C119.25,308.25 119.42,310.12 119,311 C118.58,311.88 117.08,312.63 116,312.8 C114.92,312.97 113.17,312.63 112.5,312 C111.83,311.37 111.67,309.92 112,309 Z" fill="#d4d4d4" stroke="#777" stroke-width="0.5"/>
<path d="M110.3 296.6h0.65M122.2 308.9h0.65M101.6 311.7h0.65M104.2 305.8h0.65M117.5 313.8h0.65M111.5 301.5h0.65M122.7 308.3h0.65M120.0 310.8h0.65M132.0 307.7h0.65M115.8 309.2h0.65M111.3 320.7h0.65M116.3 315.4h0.65M116.8 291.2h0.65M130.4 293.1h0.65M127.6 309.1h0.65M108.5 302.5h0.65M119.0 306.2h0.65M122.4 310.0h0.65M103.5 313.3h0.65M110.6 319.3h0.65M126.6 293.5h0.65M126.8 298.1h0.65M113.4 302.0h0.65M121.8 310.5h0.65M125.8 303.8h0.65M114.8 301.1h0.65M123.2 292.7h0.65M112.5 294.6h0.65M107.9 314.8h0.65M123.1 298.1h0.65M125.1 307.4h0.65M120.8 305.5h0.65M131.8 299.0h0.65M127.7 300.0h0.65M115.9 292.0h0.65M125.2 294.7h0.65M119.1 319.8h0.65M110.7 301.0h0.65M115.0 310.7h0.65M118.3 307.6h0.65M106.7 314.5h0.65M127.1 311.7h0.65M121.3 301.9h0.65M126.4 296.8h0.65M126.6 314.2h0.65M102.3 309.4h0.65M108.3 313.2h0.65M124.4 290.1h0.65M123.6 296.3h0.65M116.7 320.8h0.65M121.1 316.3h0.65M121.9 304.8h0.65M101.9 310.2h0.65M116.8 302.0h0.65M110.2 313.5h0.65M120.4 293.5h0.65M105.1 307.1h0.65M119.3 291.5h0.65M125.5 312.8h0.65M110.9 309.2h0.65M127.0 299.9h0.65M114.2 318.9h0.65M115.7 292.6h0.65M123.1 295.0h0.65M113.2 306.8h0.65M131.1 298.3h0.65M106.4 311.5h0.65M107.1 305.0h0.65M115.2 315.9h0.65M109.0 308.4h0.65M127.1 310.7h0.65M119.0 293.0h0.65M112.8 315.0h0.65M117.7 305.9h0.65M111.9 305.0h0.65M111.1 311.7h0.65M113.2 294.7h0.65M103.1 312.4h0.65M131.7 307.4h0.65M122.9 302.9h0.65M115.5 308.0h0.65M120.0 295.2h0.65M121.8 298.6h0.65M115.5 297.6h0.65M130.0 299.8h0.65M129.4 311.2h0.65M130.4 309.7h0.65M100.8 311.3h0.65M108.1 311.5h0.65M119.0 307.3h0.65M113.5 322.0h0.65M123.1 290.9h0.65M121.9 315.1h0.65M121.5 289.7h0.65M109.8 297.8h0.65M127.6 296.3h0.65M115.7 311.9h0.65M107.6 311.7h0.65M109.5 297.3h0.65M132.2 296.0h0.65M130.1 298.7h0.65M128.1 314.0h0.65M123.9 295.3h0.65M116.0 299.7h0.65M123.3 294.5h0.65M116.3 305.3h0.65M123.0 317.2h0.65M107.2 302.7h0.65M125.3 289.5h0.65M108.6 307.0h0.65M104.9 311.3h0.65M125.8 292.0h0.65M114.8 308.3h0.65M121.4 306.9h0.65M120.4 302.8h0.65M119.7 297.7h0.65M125.4 315.1h0.65M122.9 298.7h0.65M109.6 306.9h0.65M129.5 294.9h0.65M127.7 293.3h0.65M119.8 296.8h0.65M112.7 312.9h0.65M106.6 313.4h0.65M117.7 310.4h0.65M133.0 301.0h0.65M117.6 293.3h0.65M120.5 315.6h0.65M124.2 302.5h0.65M117.0 306.3h0.65M108.2 304.7h0.65M128.8 294.7h0.65M108.9 301.0h0.65M108.8 304.7h0.65M113.7 304.4h0.65M114.6 322.0h0.65M128.1 297.3h0.65M122.3 304.4h0.65M107.4 313.3h0.65M130.9 300.2h0.65M132.1 303.2h0.65M109.1 303.5h0.65M123.9 298.2h0.65M129.1 297.1h0.65M124.8 301.8h0.65M103.5 312.3h0.65M121.4 308.0h0.65M118.4 311.1h0.65M112.8 303.0h0.65M128.4 299.5h0.65M119.5 310.4h0.65M128.1 296.4h0.65M132.7 297.4h0.65M116.7 297.8h0.65M126.9 310.0h0.65M132.5 303.7h0.65M126.7 292.7h0.65M117.7 301.0h0.65M105.0 309.4h0.65M117.3 319.6h0.65M114.9 299.0h0.65M111.2 320.8h0.65M128.7 291.4h0.65M124.5 315.9h0.65M117.2 292.7h0.65M114.3 301.6h0.65M104.8 308.3h0.65M106.2 307.5h0.65M129.6 305.5h0.65M107.0 312.1h0.65M112.7 312.7h0.65M133.1 301.2h0.65M102.2 309.4h0.65M118.0 291.4h0.65M115.6 302.3h0.65M126.5 299.1h0.65M123.1 290.8h0.65M113.4 310.5h0.65M126.1 293.5h0.65M120.9 314.6h0.65M118.6 299.7h0.65M128.6 298.1h0.65M111.8 298.4h0.65M120.2 313.1h0.65M109.7 299.1h0.65M115.4 304.6h0.65M106.2 318.8h0.65M100.4 311.9h0.65M126.4 305.3h0.65M132.0 306.7h0.65M125.9 310.9h0.65M117.3 309.8h0.65M121.8 315.7h0.65M121.6 291.1h0.65M123.1 310.4h0.65M123.7 303.4h0.65M128.0 294.3h0.65M123.3 311.8h0.65M114.3 319.5h0.65M115.7 314.6h0.65M116.9 300.8h0.65M127.0 290.4h0.65M120.9 295.1h0.65M117.5 297.2h0.65M108.8 315.2h0.65M116.7 321.8h0.65M111.3 313.7h0.65M123.3 299.8h0.65M127.5 303.4h0.65M108.6 309.7h0.65M111.6 308.7h0.65M121.0 311.9h0.65M127.1 299.4h0.65M116.0 317.0h0.65M112.6 319.0h0.65M116.8 292.3h0.65M119.8 290.7h0.65M131.5 301.3h0.65M127.7 312.3h0.65M111.4 302.6h0.65M112.0 320.5h0.65M111.4 315.0h0.65M102.9 312.5h0.65M108.0 306.9h0.65M116.5 308.6h0.65M125.0 291.6h0.65M119.4 307.5h0.65M124.9 310.5h0.65M109.4 313.0h0.65M108.8 298.3h0.65M107.3 315.9h0.65M122.9 312.0h0.65M111.5 304.7h0.65M130.9 307.3h0.65M119.5 312.9h0.65M109.8 307.7h0.65M124.1 299.7h0.65M124.3 293.6h0.65M132.0 308.1h0.65M117.4 309.2h0.65M120.5 316.7h0.65M104.9 314.0h0.65M129.3 300.4h0.65M105.4 310.7h0.65M114.2 319.2h0.65M129.0 309.0h0.65M114.9 305.9h0.65M122.8 316.4h0.65M130.3 302.2h0.65M128.9 308.9h0.65M117.1 322.0h0.65M105.8 312.3h0.65M115.1 313.5h0.65M125.3 289.5h0.65M113.7 299.3h0.65M105.6 307.6h0.65M123.1 298.5h0.65M117.6 318.9h0.65M117.2 317.1h0.65M116.1 292.4h0.65M131.1 295.8h0.65M105.3 312.8h0.65M115.2 313.9h0.65M121.2 314.8h0.65M124.1 305.4h0.65M107.1 309.1h0.65M120.2 302.4h0.65M112.7 322.5h0.65M119.8 299.4h0.65M113.7 311.5h0.65M128.7 299.9h0.65M118.5 309.2h0.65M119.9 317.1h0.65M111.8 312.5h0.65M110.4 308.5h0.65M110.6 301.6h0.65M123.2 289.6h0.65M115.2 315.9h0.65M127.7 307.7h0.65M126.5 290.3h0.65M116.2 291.9h0.65M101.2 312.1h0.65M108.1 312.2h0.65M130.0 303.9h0.65M129.2 297.2h0.65M130.2 294.6h0.65M116.4 316.7h0.65M120.2 310.0h0.65M130.8 300.5h0.65M129.1 291.2h0.65M114.5 309.3h0.65M125.0 290.1h0.65M131.0 307.8h0.65M109.8 304.5h0.65M116.9 314.4h0.65M114.8 311.0h0.65M104.9 304.9h0.65M110.1 311.5h0.65M130.3 308.1h0.65M126.7 315.4h0.65M121.0 295.6h0.65M115.8 306.6h0.65M105.6 318.3h0.65M107.5 319.2h0.65M111.4 297.4h0.65M121.2 292.3h0.65M112.5 320.1h0.65M116.5 299.4h0.65M122.5 314.6h0.65M113.3 319.5h0.65M128.1 305.9h0.65M116.8 307.5h0.65M109.5 303.4h0.65M127.2 313.5h0.65M127.1 301.9h0.65M117.2 296.6h0.65M119.4 313.5h0.65M119.9 312.3h0.65M108.6 315.9h0.65M133.6 293.2h0.65M109.8 303.7h0.65M105.8 308.4h0.65M111.2 321.7h0.65M124.2 310.3h0.65M114.7 311.3h0.65M121.7 303.2h0.65M120.5 294.4h0.65M117.8 302.1h0.65M118.6 319.7h0.65M126.5 313.4h0.65M125.2 315.4h0.65M111.4 298.3h0.65M119.5 314.7h0.65M127.9 313.4h0.65M131.6 293.7h0.65M121.8 294.7h0.65M117.0 314.5h0.65M130.9 305.8h0.65M130.2 305.7h0.65M110.6 320.2h0.65M118.9 316.8h0.65M112.8 305.9h0.65M125.2 304.0h0.65M118.2 294.4h0.65M129.3 304.1h0.65M120.9 294.5h0.65M126.7 295.4h0.65M124.4 300.0h0.65M121.4 304.9h0.65M102.1 308.9h0.65M130.2 305.9h0.65M111.3 304.5h0.65M122.7 293.6h0.65M118.3 292.2h0.65M126.7 290.1h0.65M127.5 309.2h0.65M122.8 309.8h0.65M108.9 310.6h0.65M113.1 315.1h0.65M126.4 305.3h0.65M129.4 308.2h0.65M116.4 313.6h0.65M112.7 301.7h0.65M112.6 302.6h0.65M124.7 300.5h0.65M123.1 306.5h0.65M115.2 306.0h0.65M112.4 321.3h0.65M107.3 311.4h0.65M122.3 301.5h0.65M126.8 310.7h0.65M113.4 296.0h0.65M126.8 311.1h0.65M119.5 290.7h0.65M130.1 297.6h0.65M101.3 311.1h0.65M123.3 317.9h0.65M119.3 302.3h0.65M132.7 294.5h0.65M113.7 300.9h0.65M122.7 312.9h0.65M116.2 307.8h0.65M121.4 300.8h0.65M127.2 314.0h0.65M119.2 299.9h0.65M122.4 310.3h0.65M113.9 297.0h0.65M123.1 299.5h0.65M121.6 300.1h0.65M109.9 320.9h0.65M121.6 317.8h0.65M125.5 295.4h0.65M109.4 300.1h0.65M125.2 302.5h0.65M118.4 291.7h0.65M127.0 315.1h0.65M114.5 313.1h0.65M114.8 305.6h0.65M120.1 320.5h0.65M107.4 302.0h0.65M126.1 304.9h0.65M126.2 308.9h0.65M110.7 299.7h0.65M117.6 319.2h0.65M123.0 299.3h0.65M117.4 302.6h0.65M119.9 317.9h0.65M129.7 304.1h0.65M127.4 306.0h0.65M118.9 305.6h0.65M110.8 309.5h0.65M127.7 290.3h0.65M127.1 295.4h0.65M119.4 308.6h0.65M106.7 312.7h0.65M108.6 309.6h0.65M129.4 305.1h0.65M129.4 299.4h0.65M117.1 308.3h0.65M107.9 318.7h0.65M113.2 301.2h0.65M112.1 319.4h0.65M132.9 294.3h0.65M103.1 312.0h0.65M111.9 317.4h0.65M129.4 306.4h0.65M105.0 309.9h0.65M104.7 308.8h0.65M108.3 310.7h0.65M130.1 294.6h0.65M129.5 297.6h0.65M109.9 317.9h0.65M131.8 292.9h0.65M115.5 312.2h0.65M103.2 312.1h0.65M121.4 306.0h0.65M103.8 312.7h0.65M118.5 298.9h0.65M107.0 311.9h0.65M114.0 296.9h0.65M112.7 300.9h0.65M111.4 297.6h0.65M115.3 295.2h0.65M114.5 311.7h0.65M116.5 317.0h0.65M119.9 319.5h0.65M119.7 315.6h0.65M106.3 313.4h0.65M111.9 300.4h0.65M119.5 302.3h0.65M124.6 314.9h0.65M120.4 317.0h0.65M123.9 293.9h0.65M131.1 306.2h0.65M108.1 306.8h0.65M102.4 311.0h0.65M111.5 306.2h0.65M130.1 298.0h0.65M119.2 319.6h0.65M131.2 294.5h0.65M122.4 298.8h0.65M103.6 311.3h0.65M104.6 309.7h0.65M126.2 307.8h0.65M119.5 314.2h0.65M112.2 316.4h0.65M127.3 307.9h0.65M108.2 320.3h0.65M106.7 315.6h0.65M122.2 291.4h0.65M103.5 315.2h0.65M117.9 307.4h0.65M114.2 310.5h0.65M131.1 298.7h0.65M131.9 299.9h0.65M124.6 315.2h0.65M130.5 290.7h0.65M106.4 305.2h0.65M116.9 298.3h0.65M128.3 295.6h0.65M122.9 294.8h0.65M132.9 302.7h0.65M106.5 316.2h0.65M124.0 312.7h0.65M131.1 291.1h0.65M129.7 307.7h0.65M103.6 312.3h0.65M124.6 314.9h0.65M115.0 299.7h0.65M114.1 314.4h0.65M114.7 304.4h0.65M125.7 294.3h0.65M120.5 308.3h0.65M125.2 296.1h0.65M108.4 308.5h0.65M125.5 304.0h0.65M128.0 309.1h0.65M127.9 311.5h0.65M115.8 304.9h0.65M115.8 294.0h0.65M121.4 304.3h0.65M114.4 292.0h0.65M113.0 298.8h0.65M105.9 314.6h0.65M114.0 300.4h0.65M119.4 305.0h0.65M117.4 293.9h0.65M123.0 294.7h0.65M121.1 313.6h0.65M107.1 316.9h0.65M126.1 301.7h0.65M106.6 313.7h0.65M113.5 304.6h0.65M122.4 292.9h0.65M114.4 309.5h0.65M115.8 308.9h0.65M111.5 316.2h0.65M120.2 308.8h0.65M128.0 294.0h0.65M119.6 297.2h0.65M117.5 292.1h0.65M110.0 309.4h0.65M126.3 311.3h0.65M123.4 312.9h0.65M112.6 303.7h0.65M112.6 304.7h0.65M125.1 302.0h0.65M115.7 312.9h0.65M115.9 311.4h0.65M120.9 310.6h0.65M113.9 306.3h0.65M117.0 310.8h0.65M127.7 311.0h0.65M128.8 291.2h0.65M120.3 317.6h0.65M102.0 313.5h0.65M119.1 319.3h0.65M116.1 305.7h0.65M118.7 314.3h0.65M117.7 298.0h0.65M119.9 301.6h0.65M124.6 307.9h0.65M118.3 303.8h0.65M123.3 306.6h0.65M121.5 297.3h0.65M125.7 312.0h0.65M118.0 304.3h0.65M114.4 305.9h0.65M117.8 313.0h0.65M110.6 322.1h0.65M124.1 296.1h0.65M115.8 319.0h0.65M114.0 292.4h0.65M119.1 303.6h0.65M122.5 290.8h0.65M119.9 304.0h0.65M129.8 300.2h0.65M102.3 311.5h0.65M111.8 321.8h0.65M112.9 296.7h0.65M113.8 311.1h0.65M109.3 314.7h0.65M112.2 295.0h0.65M112.0 303.8h0.65M117.7 308.4h0.65M115.3 312.2h0.65M116.6 314.5h0.65M109.8 307.6h0.65M122.2 303.9h0.65M112.2 295.0h0.65M124.4 294.0h0.65M131.3 300.0h0.65M122.1 297.4h0.65M104.6 310.5h0.65M117.0 298.9h0.65M124.9 301.8h0.65M105.9 305.7h0.65M123.0 303.7h0.65M123.6 307.1h0.65M128.7 296.5h0.65M103.0 315.1h0.65M105.9 317.3h0.65M128.5 291.4h0.65M116.0 315.8h0.65M131.7 292.5h0.65M119.3 298.2h0.65M120.3 289.6h0.65M114.0 310.6h0.65M118.5 296.4h0.65M132.5 303.7h0.65M119.3 318.8h0.65M131.9 302.3h0.65M118.4 290.9h0.65M119.1 297.6h0.65M115.4 297.8h0.65M107.6 313.1h0.65M119.5 303.7h0.65M119.1 291.4h0.65M132.2 302.6h0.65M122.7 297.3h0.65M133.8 298.4h0.65M114.9 320.0h0.65M118.1 297.0h0.65M122.8 300.5h0.65M103.6 316.4h0.65M118.4 313.7h0.65M107.7 319.5h0.65M110.8 317.9h0.65M121.3 312.2h0.65M100.8 312.3h0.65M123.9 290.9h0.65M128.0 290.5h0.65M109.4 310.7h0.65M131.9 299.0h0.65M115.8 317.2h0.65M113.1 306.0h0.65M114.2 296.9h0.65M100.2 312.7h0.65M110.2 316.4h0.65M120.6 301.5h0.65M104.6 308.8h0.65M109.3 305.9h0.65M106.4 318.7h0.65M114.5 322.7h0.65M126.1 308.6h0.65M114.4 297.1h0.65M107.7 306.2h0.65M116.2 318.4h0.65M107.6 304.0h0.65M117.1 315.9h0.65M113.2 310.7h0.65M117.0 305.2h0.65M116.7 310.7h0.65M124.1 310.9h0.65M117.5 293.0h0.65M109.8 320.1h0.65M117.6 314.6h0.65M118.4 321.3h0.65M132.2 302.6h0.65M109.5 300.0h0.65M129.1 298.6h0.65M122.5 313.8h0.65M123.0 302.7h0.65M110.2 301.2h0.65M119.7 295.3h0.65M116.1 295.4h0.65M128.1 300.5h0.65M129.6 306.4h0.65M134.2 294.5h0.65M112.2 305.3h0.65" stroke="#6a6a6a" stroke-width="0.65" fill="none" opacity="0.7"/>
<path d="M180.3 318.0h0.6M189.8 315.3h0.6M182.2 287.9h0.6M178.6 305.5h0.6M186.9 291.5h0.6M173.7 309.3h0.6M167.9 305.9h0.6M176.7 304.0h0.6M180.2 299.5h0.6M192.5 288.7h0.6M196.8 311.8h0.6M201.6 287.8h0.6M193.3 288.1h0.6M195.2 289.8h0.6M196.9 280.5h0.6M176.9 296.8h0.6M176.7 309.2h0.6M175.9 310.7h0.6M181.3 320.0h0.6M212.3 304.1h0.6M183.8 291.9h0.6M179.0 318.0h0.6M186.0 290.0h0.6M209.5 293.7h0.6M189.1 289.9h0.6M173.6 304.7h0.6M199.3 290.6h0.6M205.3 287.7h0.6M179.5 315.6h0.6M181.6 319.8h0.6M177.3 298.0h0.6M172.8 306.9h0.6M203.5 314.2h0.6M193.7 316.4h0.6M203.5 309.5h0.6M179.2 299.1h0.6M199.0 285.1h0.6M203.5 286.9h0.6M198.0 311.8h0.6M203.2 288.5h0.6M208.4 300.5h0.6M191.6 316.2h0.6M196.7 315.5h0.6M174.0 314.0h0.6M177.0 319.4h0.6M177.3 316.2h0.6M178.3 314.7h0.6M206.9 294.0h0.6M197.2 289.9h0.6M184.6 320.6h0.6M188.8 318.5h0.6M181.9 293.5h0.6M179.1 317.9h0.6M209.1 287.6h0.6M184.8 318.2h0.6M209.1 288.7h0.6M177.9 297.1h0.6M190.2 317.9h0.6M180.1 317.9h0.6M205.0 308.0h0.6M175.7 300.3h0.6M184.4 317.5h0.6M180.4 297.6h0.6M207.2 288.8h0.6M179.2 309.7h0.6M204.2 292.4h0.6M179.0 303.0h0.6M200.4 289.3h0.6M179.2 302.6h0.6M208.6 306.3h0.6M176.9 311.0h0.6M174.6 312.8h0.6M198.5 313.0h0.6M191.5 289.3h0.6M190.1 291.8h0.6M184.7 292.8h0.6M177.1 319.5h0.6M203.8 306.3h0.6M180.3 320.6h0.6M177.6 316.5h0.6M183.0 318.1h0.6M190.3 284.6h0.6M206.8 292.8h0.6M211.2 287.9h0.6M178.1 309.6h0.6M202.0 311.7h0.6M204.8 293.1h0.6M183.9 292.8h0.6M205.1 302.1h0.6M205.8 304.0h0.6M172.2 305.0h0.6M196.8 314.7h0.6M178.2 297.7h0.6M200.7 288.1h0.6M188.3 317.4h0.6M177.1 311.9h0.6M177.3 318.5h0.6M179.6 296.8h0.6M186.5 289.8h0.6M208.0 291.2h0.6M172.9 316.4h0.6M204.9 301.6h0.6M175.9 314.8h0.6M168.6 321.2h0.6M174.9 315.7h0.6M209.8 300.0h0.6M178.7 317.2h0.6M201.1 288.5h0.6M189.8 285.8h0.6M176.6 307.5h0.6M184.0 322.1h0.6M203.9 290.7h0.6M204.2 295.5h0.6M175.4 320.9h0.6M179.3 323.4h0.6M204.8 294.6h0.6M203.5 291.0h0.6M188.8 316.6h0.6M188.0 292.9h0.6M180.6 316.7h0.6M203.7 303.4h0.6M193.3 316.5h0.6M177.7 306.5h0.6M169.8 307.6h0.6M205.1 290.8h0.6M188.1 316.4h0.6M191.7 314.5h0.6M189.5 285.8h0.6M203.6 292.1h0.6M209.0 292.5h0.6M187.3 316.8h0.6M188.0 290.2h0.6M176.4 315.4h0.6M204.0 306.3h0.6M187.0 319.6h0.6M177.2 312.7h0.6M208.5 291.9h0.6M180.7 319.0h0.6M177.4 315.5h0.6M179.6 319.5h0.6M193.8 313.6h0.6M206.2 299.7h0.6M197.1 288.8h0.6M177.3 301.5h0.6M208.9 309.4h0.6M197.3 286.4h0.6M174.0 297.1h0.6M204.8 290.2h0.6M197.9 312.1h0.6M173.3 313.2h0.6M177.1 322.6h0.6M199.0 288.6h0.6M181.0 299.2h0.6M185.6 290.8h0.6M189.3 320.2h0.6M179.1 314.2h0.6M206.2 300.0h0.6M177.6 308.5h0.6M193.2 315.2h0.6M194.1 315.0h0.6M203.0 313.5h0.6M203.2 306.8h0.6M201.4 313.9h0.6M186.4 294.0h0.6M189.9 318.4h0.6M189.3 290.8h0.6M190.1 315.5h0.6M196.0 287.6h0.6M178.8 315.2h0.6M195.3 288.0h0.6M190.4 292.1h0.6M204.1 312.6h0.6M191.5 319.8h0.6M176.7 318.7h0.6M180.3 295.0h0.6M179.2 320.0h0.6M170.8 316.5h0.6M174.8 313.4h0.6M183.7 294.8h0.6M186.1 280.1h0.6M210.3 303.4h0.6M202.2 290.3h0.6M209.6 284.0h0.6M173.4 311.6h0.6M176.6 292.2h0.6M175.8 305.1h0.6M180.3 296.7h0.6M195.4 321.8h0.6M203.0 306.6h0.6M209.3 296.8h0.6M207.7 297.8h0.6M189.3 290.8h0.6M189.8 286.1h0.6M206.4 296.3h0.6M205.7 287.6h0.6M177.7 317.5h0.6M176.9 308.3h0.6M171.7 291.8h0.6M169.1 306.9h0.6M179.2 302.7h0.6M185.3 281.4h0.6M182.5 294.4h0.6M199.2 318.5h0.6M193.5 315.0h0.6M204.4 297.2h0.6M170.2 315.2h0.6M176.5 319.0h0.6M201.7 309.5h0.6M177.4 293.0h0.6M192.5 283.9h0.6M207.9 300.0h0.6M177.0 300.0h0.6M204.8 295.5h0.6M203.2 291.1h0.6M201.3 310.3h0.6M189.2 287.7h0.6M210.5 302.9h0.6M206.9 294.4h0.6M196.7 311.4h0.6M195.1 313.9h0.6M196.7 312.9h0.6M181.8 318.3h0.6M181.4 292.1h0.6M182.2 293.5h0.6M194.4 312.4h0.6M217.5 295.6h0.6M181.4 317.2h0.6M200.2 309.9h0.6M209.5 301.7h0.6M171.5 326.3h0.6M177.3 314.9h0.6M184.5 318.9h0.6M188.7 316.2h0.6M201.2 307.2h0.6M176.2 303.1h0.6M202.6 304.2h0.6M176.6 309.3h0.6M174.1 322.9h0.6M194.4 291.6h0.6M193.6 314.3h0.6M178.5 299.4h0.6M172.0 316.0h0.6M189.9 289.7h0.6M202.0 307.9h0.6M175.1 294.1h0.6M188.6 316.9h0.6M198.6 287.7h0.6M184.3 320.9h0.6M183.2 293.2h0.6M189.0 322.3h0.6M176.6 314.5h0.6M175.8 315.7h0.6M203.7 308.1h0.6M180.5 316.8h0.6M174.4 304.2h0.6M207.1 304.0h0.6M173.1 311.8h0.6M178.5 310.7h0.6M171.5 320.0h0.6M203.9 290.5h0.6M178.6 309.3h0.6M186.3 289.2h0.6M199.6 308.6h0.6M181.8 317.0h0.6M188.2 283.9h0.6M176.1 302.3h0.6M186.6 290.5h0.6M183.9 327.4h0.6M204.7 302.8h0.6M203.3 292.3h0.6M174.1 308.5h0.6M202.6 289.0h0.6M197.9 315.5h0.6M205.5 296.1h0.6M176.7 314.0h0.6M178.2 302.4h0.6M201.5 307.8h0.6M207.2 292.9h0.6M203.5 310.0h0.6M184.9 323.1h0.6M208.9 292.2h0.6M200.4 312.8h0.6M204.3 300.6h0.6M196.5 313.8h0.6M188.9 320.6h0.6M189.1 288.2h0.6M177.3 309.6h0.6M184.4 320.4h0.6M175.6 320.4h0.6M183.9 292.3h0.6M193.0 317.8h0.6M208.9 298.9h0.6M167.4 313.4h0.6M207.6 290.6h0.6M184.3 321.2h0.6M198.1 289.1h0.6M184.4 292.2h0.6M187.3 289.5h0.6M204.5 294.0h0.6M202.4 308.7h0.6M182.3 294.4h0.6M199.0 316.2h0.6M193.7 316.1h0.6M196.6 288.3h0.6M177.8 313.6h0.6M179.7 315.6h0.6M205.6 302.7h0.6M177.7 307.6h0.6M184.5 317.0h0.6M203.0 311.4h0.6M193.0 287.6h0.6M204.6 305.2h0.6M179.5 301.2h0.6M197.4 289.4h0.6M200.8 286.4h0.6M175.5 315.4h0.6M197.1 314.4h0.6M199.8 315.8h0.6M184.4 285.2h0.6M188.1 320.1h0.6M175.6 311.7h0.6M191.9 289.5h0.6M184.9 318.1h0.6M200.4 283.5h0.6M201.0 313.8h0.6M184.3 319.7h0.6M177.6 296.4h0.6M201.7 308.0h0.6M187.1 317.7h0.6M193.5 317.7h0.6M191.4 315.1h0.6M196.9 312.4h0.6M176.2 307.6h0.6M187.0 293.0h0.6M200.9 311.9h0.6M194.3 285.8h0.6M200.1 290.0h0.6M182.8 320.6h0.6M175.5 309.9h0.6M190.1 317.9h0.6M179.2 318.8h0.6M183.9 289.9h0.6M213.0 302.4h0.6M207.6 297.3h0.6M210.5 297.6h0.6M199.0 289.0h0.6M172.1 313.6h0.6M177.4 317.9h0.6M192.2 313.8h0.6M196.9 288.5h0.6M204.0 290.0h0.6M194.7 290.1h0.6M175.9 295.7h0.6M199.0 290.0h0.6M174.7 294.2h0.6M207.2 290.9h0.6M194.8 283.4h0.6M202.3 305.1h0.6M186.7 318.6h0.6M184.6 290.3h0.6M191.1 317.1h0.6M205.7 291.9h0.6M199.5 287.9h0.6M199.4 308.9h0.6M207.2 295.8h0.6M192.5 314.0h0.6M204.5 294.4h0.6M178.3 311.4h0.6M175.6 295.8h0.6M187.8 280.8h0.6M190.7 316.5h0.6M174.6 297.9h0.6M176.4 312.2h0.6M204.2 305.3h0.6M176.1 311.7h0.6M189.3 317.2h0.6M217.6 307.6h0.6M178.2 314.6h0.6M191.7 315.6h0.6M206.0 307.4h0.6M205.6 294.1h0.6M180.5 298.8h0.6M206.4 287.0h0.6M203.1 303.3h0.6M175.7 313.0h0.6M204.0 293.6h0.6M194.1 313.7h0.6M182.5 323.3h0.6M181.0 297.5h0.6M192.4 288.8h0.6M203.8 293.3h0.6M205.4 303.3h0.6M201.1 306.6h0.6M181.1 319.7h0.6M188.6 292.0h0.6M194.8 287.2h0.6M177.3 308.6h0.6M209.7 299.2h0.6M183.0 317.4h0.6M191.4 288.5h0.6M201.5 308.1h0.6M192.5 291.0h0.6M207.2 297.6h0.6M189.6 319.3h0.6M209.7 305.6h0.6M180.8 316.5h0.6M205.6 293.7h0.6M186.5 319.8h0.6M189.6 317.6h0.6M176.4 297.0h0.6M204.4 307.4h0.6M196.5 311.8h0.6M175.4 292.9h0.6M202.6 307.1h0.6M183.6 323.6h0.6M198.1 315.5h0.6M180.5 319.2h0.6M176.4 320.6h0.6M174.8 307.4h0.6M200.8 311.1h0.6M203.6 291.6h0.6M195.1 314.2h0.6M174.3 299.4h0.6M204.2 304.6h0.6M175.5 312.2h0.6M206.8 296.7h0.6M176.5 305.7h0.6M182.5 295.4h0.6M197.9 319.4h0.6M198.6 311.6h0.6M204.3 303.5h0.6M178.0 311.8h0.6M178.7 319.2h0.6M206.8 289.1h0.6M179.1 314.4h0.6M207.9 289.6h0.6M199.5 285.0h0.6M184.4 324.2h0.6M191.7 323.1h0.6M179.8 314.1h0.6M205.5 278.8h0.6M202.2 307.5h0.6M169.2 321.7h0.6M205.1 305.4h0.6M202.4 291.0h0.6M206.0 295.3h0.6M202.1 308.1h0.6M192.5 321.0h0.6M189.4 290.8h0.6M186.1 318.5h0.6M206.3 298.1h0.6M182.6 291.7h0.6M206.5 292.7h0.6M179.9 315.1h0.6M204.2 305.4h0.6M199.8 288.8h0.6M177.3 304.0h0.6M208.5 291.1h0.6M204.4 300.2h0.6M206.6 282.0h0.6M198.3 287.9h0.6M185.7 292.5h0.6M172.0 311.5h0.6M176.8 313.4h0.6M185.5 283.3h0.6M179.1 320.7h0.6M186.5 281.6h0.6M177.9 296.7h0.6M207.5 308.2h0.6M203.3 289.8h0.6M185.1 319.7h0.6M182.6 290.8h0.6M207.4 301.6h0.6M175.5 309.8h0.6M189.1 315.0h0.6M176.6 295.6h0.6M201.6 288.4h0.6M176.1 310.7h0.6M174.8 307.6h0.6M178.8 310.7h0.6M174.9 305.0h0.6M190.1 317.9h0.6M177.6 305.9h0.6M212.4 302.0h0.6M194.2 286.6h0.6M178.0 311.8h0.6M172.0 303.0h0.6M180.9 318.9h0.6M185.0 319.9h0.6M177.3 300.2h0.6M202.6 308.1h0.6M194.6 315.0h0.6M178.5 291.2h0.6M173.4 309.1h0.6M189.9 286.3h0.6M177.2 306.1h0.6M193.3 287.7h0.6M176.4 309.5h0.6M204.8 312.8h0.6M183.9 319.2h0.6M174.2 307.9h0.6M176.0 311.5h0.6M209.5 297.6h0.6M183.8 289.0h0.6M181.7 294.2h0.6M184.4 318.8h0.6M176.1 304.0h0.6M179.0 318.4h0.6M176.9 315.7h0.6M172.0 303.2h0.6M206.4 299.2h0.6M202.6 289.7h0.6M189.5 289.3h0.6M205.7 292.5h0.6M218.7 301.4h0.6M188.0 282.3h0.6M208.7 294.2h0.6M177.1 297.8h0.6M184.7 290.0h0.6M198.6 311.5h0.6M194.2 313.2h0.6M185.7 293.9h0.6M187.4 317.5h0.6M184.7 293.3h0.6M179.2 299.6h0.6M191.5 316.4h0.6M203.4 304.9h0.6M202.7 307.3h0.6M207.7 305.7h0.6M185.5 290.6h0.6M209.6 295.4h0.6M182.9 291.8h0.6M185.6 288.1h0.6M195.3 313.9h0.6M202.1 311.4h0.6M207.3 310.9h0.6M177.7 301.8h0.6M203.6 310.0h0.6M200.1 308.1h0.6M174.8 312.2h0.6M189.6 318.1h0.6M186.6 316.7h0.6M197.4 290.1h0.6M190.9 289.3h0.6M182.1 319.0h0.6M185.0 293.1h0.6M185.0 318.9h0.6M208.1 304.4h0.6" stroke="#999" stroke-width="0.6" fill="none"/>
<path d="M176.6,310.9 C176.6,308.87 176.62,305.3 177.2,302.8 C177.78,300.3 178.65,297.82 180.1,295.9 C181.55,293.98 183.78,292.47 185.9,291.3 C188.02,290.13 190.48,289.3 192.8,288.9 C195.12,288.5 197.77,288.5 199.8,288.9 C201.83,289.3 203.85,290.13 205,291.3 C206.15,292.47 206.6,293.98 206.7,295.9 C206.8,297.82 206.37,300.68 205.6,302.8 C204.83,304.92 203.65,306.85 202.1,308.6 C200.55,310.35 198.23,311.95 196.3,313.3 C194.37,314.65 192.43,315.75 190.5,316.7 C188.57,317.65 186.43,318.8 184.7,319 C182.97,319.2 181.35,318.57 180.1,317.9 C178.85,317.23 177.78,316.17 177.2,315 C176.62,313.83 176.6,312.93 176.6,310.9 Z" fill="#fbfbfb" stroke="#666" stroke-width="0.6"/>
<path d="M178.28,310.14 C178.32,308.34 178.37,305.1 178.94,302.88 C179.51,300.66 180.39,298.51 181.69,296.82 C182.99,295.14 184.88,293.79 186.72,292.76 C188.56,291.74 190.67,291.06 192.73,290.67 C194.8,290.28 197.29,290.12 199.1,290.44 C200.91,290.76 202.62,291.52 203.6,292.59 C204.57,293.66 204.92,295.17 204.94,296.88 C204.97,298.58 204.5,300.98 203.76,302.8 C203.02,304.63 201.88,306.34 200.5,307.82 C199.12,309.29 197.11,310.47 195.49,311.64 C193.86,312.81 192.41,313.91 190.74,314.84 C189.08,315.77 187.09,316.95 185.49,317.21 C183.88,317.47 182.23,316.98 181.11,316.4 C179.98,315.81 179.19,314.77 178.72,313.73 C178.24,312.69 178.24,311.95 178.28,310.14 Z" fill="#dcdcdc" stroke="#7a7a7a" stroke-width="0.55"/>
<path d="M179.7,309.33 C179.8,307.64 180.16,304.83 180.75,302.88 C181.34,300.93 182.11,299.04 183.25,297.63 C184.38,296.22 185.99,295.29 187.55,294.41 C189.12,293.54 190.85,292.78 192.62,292.36 C194.39,291.94 196.53,291.73 198.18,291.9 C199.83,292.08 201.6,292.46 202.52,293.43 C203.44,294.39 203.83,296.1 203.71,297.69 C203.6,299.28 202.61,301.44 201.83,302.96 C201.05,304.49 200.14,305.67 199.01,306.83 C197.89,307.98 196.37,308.82 195.07,309.88 C193.76,310.95 192.64,312.27 191.17,313.23 C189.69,314.2 187.68,315.36 186.23,315.66 C184.78,315.96 183.48,315.49 182.47,315.05 C181.46,314.62 180.63,313.99 180.17,313.03 C179.71,312.08 179.61,311.02 179.7,309.33 Z" fill="#d0d0d0" stroke="#777" stroke-width="0.55"/>
<path d="M181.5,308.48 C181.69,307.02 182.17,304.49 182.76,302.85 C183.35,301.22 184.01,299.84 185.03,298.68 C186.05,297.52 187.56,296.63 188.87,295.89 C190.17,295.14 191.45,294.56 192.85,294.22 C194.26,293.88 195.9,293.73 197.28,293.86 C198.66,293.99 200.41,294.26 201.14,295.01 C201.88,295.76 201.88,296.99 201.7,298.35 C201.53,299.7 200.8,301.88 200.1,303.13 C199.39,304.39 198.43,305.1 197.48,305.9 C196.53,306.69 195.44,307.03 194.41,307.92 C193.38,308.82 192.46,310.28 191.31,311.28 C190.16,312.28 188.77,313.57 187.51,313.93 C186.24,314.29 184.7,313.79 183.72,313.41 C182.74,313.03 181.98,312.46 181.61,311.63 C181.24,310.81 181.31,309.95 181.5,308.48 Z" fill="#c2c2c2" stroke="#555" stroke-width="0.55"/>
<path d="M183.27,307.8 C183.52,306.57 184.24,304.4 184.78,302.99 C185.31,301.58 185.64,300.24 186.47,299.33 C187.31,298.42 188.76,298.06 189.79,297.53 C190.81,296.99 191.5,296.51 192.63,296.12 C193.76,295.72 195.35,295.1 196.56,295.16 C197.76,295.22 199.25,295.74 199.85,296.47 C200.46,297.2 200.45,298.49 200.19,299.53 C199.93,300.56 199.03,301.8 198.3,302.68 C197.58,303.56 196.54,304.14 195.84,304.81 C195.15,305.47 194.78,305.95 194.12,306.68 C193.47,307.41 192.92,308.26 191.9,309.18 C190.88,310.1 189.17,311.71 188,312.2 C186.83,312.69 185.69,312.41 184.9,312.1 C184.11,311.8 183.54,311.09 183.27,310.37 C182.99,309.66 183.02,309.03 183.27,307.8 Z" fill="#b4b4b4" stroke="#444" stroke-width="0.55"/>
<path d="M184.78,306.94 C185.08,305.84 185.7,303.9 186.26,302.82 C186.81,301.74 187.35,301.11 188.12,300.47 C188.88,299.84 190.08,299.4 190.86,299 C191.64,298.61 191.95,298.41 192.79,298.11 C193.63,297.82 195,297.35 195.9,297.25 C196.79,297.15 197.74,297.06 198.17,297.49 C198.6,297.93 198.81,299.01 198.49,299.88 C198.17,300.74 197.01,302.02 196.26,302.68 C195.51,303.33 194.51,303.47 194,303.79 C193.5,304.12 193.57,303.98 193.24,304.63 C192.91,305.28 192.7,306.67 192.01,307.68 C191.32,308.7 190.15,310.19 189.11,310.74 C188.07,311.28 186.56,311.17 185.79,310.94 C185.02,310.72 184.66,310.06 184.5,309.39 C184.33,308.72 184.49,308.03 184.78,306.94 Z" fill="#a8a8a8" stroke="#333" stroke-width="0.55"/>
<path d="M186.28,306.02 C186.62,305.12 187.38,303.72 187.92,302.95 C188.47,302.18 188.96,301.81 189.54,301.41 C190.12,301.01 190.88,300.83 191.4,300.55 C191.92,300.28 192.04,300.07 192.64,299.75 C193.24,299.42 194.25,298.79 195,298.59 C195.75,298.4 196.79,298.24 197.14,298.6 C197.5,298.96 197.54,300.05 197.13,300.75 C196.73,301.46 195.35,302.39 194.71,302.83 C194.07,303.28 193.61,303.29 193.32,303.42 C193.02,303.55 193.13,303.13 192.96,303.62 C192.79,304.1 192.85,305.37 192.3,306.33 C191.76,307.29 190.52,308.79 189.69,309.37 C188.86,309.96 187.96,310.02 187.32,309.85 C186.69,309.67 186.04,308.98 185.87,308.34 C185.7,307.71 185.94,306.92 186.28,306.02 Z" fill="#c4c4c4" stroke="#333" stroke-width="0.55"/>
<ellipse cx="193.6" cy="302.6" rx="1.6" ry="1.1" fill="#f4f4f4"/>
<path d="M189.0 301.7h0.65M187.8 294.5h0.65M184.3 314.1h0.65M183.4 313.9h0.65M193.4 298.1h0.65M188.2 303.6h0.65M180.0 311.3h0.65M187.7 310.6h0.65M185.0 315.4h0.65M184.4 304.6h0.65M180.3 309.9h0.65M186.7 298.6h0.65M194.1 296.7h0.65M195.9 296.9h0.65M186.3 302.3h0.65M194.7 308.3h0.65M180.0 300.6h0.65M197.0 296.3h0.65M188.9 314.2h0.65M195.1 303.8h0.65M192.6 308.4h0.65M181.6 303.9h0.65M186.5 303.9h0.65M194.9 296.0h0.65M194.3 294.8h0.65M178.6 310.5h0.65M193.0 291.2h0.65M197.3 300.1h0.65M192.1 310.7h0.65M187.0 292.9h0.65M193.1 295.2h0.65M195.2 306.5h0.65M199.3 302.5h0.65M179.8 306.1h0.65M190.7 296.2h0.65M197.0 292.0h0.65M190.6 312.6h0.65M183.7 307.1h0.65M194.9 292.4h0.65M202.0 304.0h0.65M189.5 305.9h0.65M194.8 296.7h0.65M200.1 300.5h0.65M197.5 299.8h0.65M196.9 292.1h0.65M202.5 295.3h0.65M183.0 306.9h0.65M187.4 304.8h0.65M188.3 302.7h0.65M181.2 298.8h0.65M192.7 301.1h0.65M196.4 296.4h0.65M191.9 297.4h0.65M199.1 298.1h0.65M199.7 301.4h0.65M181.3 303.8h0.65M191.9 294.1h0.65M188.2 306.2h0.65M190.0 299.3h0.65M191.5 292.1h0.65M192.5 299.1h0.65M192.3 300.5h0.65M199.0 302.3h0.65M180.3 300.7h0.65M195.0 295.4h0.65M195.2 297.9h0.65M202.7 303.6h0.65M203.7 295.0h0.65M186.4 302.5h0.65M184.2 300.3h0.65M186.2 311.4h0.65M186.1 312.7h0.65M200.2 299.5h0.65M184.1 306.0h0.65M203.2 292.8h0.65M201.4 303.9h0.65M190.3 296.7h0.65M204.5 296.4h0.65M184.2 312.6h0.65M182.2 308.2h0.65M179.3 307.7h0.65M191.4 296.1h0.65M183.5 307.1h0.65M199.1 290.7h0.65M181.4 306.4h0.65M187.8 298.4h0.65M191.5 308.1h0.65M201.0 292.2h0.65M183.1 300.9h0.65M183.8 310.5h0.65M188.0 298.5h0.65M186.8 298.8h0.65M193.3 296.3h0.65M201.0 304.8h0.65M195.7 307.3h0.65M187.0 294.9h0.65M183.3 308.4h0.65M181.1 301.7h0.65M196.9 290.7h0.65M187.4 301.2h0.65M195.0 292.7h0.65M189.6 295.9h0.65M190.8 310.1h0.65M188.6 299.7h0.65M192.9 312.3h0.65M191.9 296.5h0.65M199.3 296.2h0.65M203.7 293.8h0.65M186.5 304.8h0.65M192.3 300.5h0.65M198.7 299.5h0.65M201.4 292.4h0.65M187.2 306.9h0.65M191.1 292.9h0.65M194.7 295.6h0.65M200.6 304.4h0.65M191.5 302.9h0.65M196.1 299.2h0.65M182.8 302.9h0.65M199.7 291.0h0.65M193.5 295.3h0.65M182.2 313.4h0.65M200.3 296.0h0.65M187.1 301.2h0.65M185.3 294.7h0.65M193.5 300.4h0.65M200.2 298.8h0.65M198.7 291.1h0.65M199.0 306.3h0.65M196.5 292.3h0.65M191.7 291.2h0.65M195.1 291.4h0.65M199.2 303.2h0.65M200.3 297.9h0.65M180.5 303.1h0.65M192.6 296.4h0.65M191.3 313.6h0.65M194.8 301.3h0.65M196.6 307.7h0.65M179.3 306.6h0.65M186.8 306.5h0.65M182.5 315.0h0.65M195.9 310.4h0.65M200.6 302.1h0.65M179.6 305.8h0.65M194.2 310.6h0.65M193.2 304.5h0.65M183.6 295.3h0.65M181.0 299.7h0.65M197.8 292.1h0.65M190.1 306.5h0.65M190.1 295.8h0.65M201.6 300.9h0.65M184.6 304.4h0.65M204.2 297.1h0.65M194.2 304.7h0.65M186.5 310.7h0.65M197.0 293.0h0.65M194.9 312.0h0.65M182.8 304.1h0.65M193.5 306.4h0.65M184.0 308.9h0.65M184.0 296.2h0.65M181.8 308.3h0.65M189.3 305.0h0.65M196.5 294.7h0.65M195.3 293.4h0.65M182.8 306.2h0.65M182.0 309.8h0.65M189.4 295.4h0.65M187.3 309.3h0.65M200.0 298.2h0.65M196.4 300.7h0.65M195.4 304.2h0.65M185.2 308.4h0.65M201.5 300.9h0.65M198.9 296.7h0.65M196.0 306.5h0.65M192.4 312.2h0.65M180.8 300.9h0.65M197.4 308.8h0.65M181.2 300.5h0.65M179.1 303.7h0.65M180.6 301.5h0.65M182.4 301.0h0.65M193.8 312.6h0.65M204.2 299.7h0.65M202.7 297.1h0.65M198.9 292.1h0.65M185.1 299.8h0.65M194.2 299.7h0.65M195.9 293.4h0.65M183.5 304.9h0.65M184.6 299.8h0.65M186.3 295.0h0.65M193.6 311.8h0.65M182.9 300.5h0.65M180.4 312.5h0.65M186.3 302.4h0.65M197.2 291.8h0.65M189.9 299.4h0.65M201.9 292.3h0.65M196.0 305.2h0.65M184.6 313.0h0.65M203.3 299.6h0.65M196.9 301.4h0.65M195.9 302.6h0.65M190.5 302.8h0.65M200.8 295.4h0.65M200.9 303.9h0.65M188.1 300.9h0.65M199.2 305.0h0.65M189.0 297.0h0.65M190.6 306.2h0.65M188.8 301.1h0.65M192.0 303.4h0.65M197.1 298.1h0.65M187.9 297.3h0.65M180.2 311.4h0.65M188.0 293.3h0.65M202.2 297.1h0.65M181.9 307.4h0.65M202.6 302.8h0.65M181.2 310.2h0.65M187.6 310.9h0.65M187.8 312.1h0.65M199.8 297.4h0.65M201.1 299.2h0.65M193.0 304.0h0.65M184.8 304.2h0.65M184.3 298.4h0.65M197.7 298.8h0.65M191.5 305.6h0.65M180.4 308.1h0.65M191.2 309.8h0.65M182.7 298.6h0.65M184.7 298.8h0.65M185.1 313.9h0.65M179.0 308.4h0.65M203.9 299.2h0.65M199.3 299.6h0.65M187.1 299.2h0.65M183.0 302.2h0.65M186.9 304.7h0.65M185.5 312.5h0.65M183.5 305.0h0.65M189.1 310.0h0.65M202.5 298.4h0.65M194.6 303.0h0.65M202.3 296.9h0.65M195.0 307.8h0.65M199.4 293.7h0.65M193.0 296.6h0.65M190.7 292.9h0.65M200.5 298.5h0.65M194.3 309.0h0.65M198.6 305.8h0.65M181.6 298.3h0.65M203.8 302.0h0.65M194.9 292.4h0.65M197.4 292.2h0.65M182.7 304.6h0.65M204.4 295.7h0.65M186.8 311.1h0.65M185.8 309.3h0.65M201.4 302.2h0.65M200.2 297.8h0.65M181.2 302.5h0.65M189.9 311.4h0.65M197.6 293.5h0.65M188.3 294.5h0.65M183.9 306.7h0.65M187.1 307.6h0.65M189.5 294.9h0.65M185.9 313.7h0.65M186.6 314.6h0.65M185.2 315.2h0.65M202.8 296.5h0.65M194.4 309.5h0.65M179.6 313.9h0.65M191.0 309.3h0.65M189.6 300.2h0.65M194.7 305.7h0.65M181.7 305.7h0.65M189.3 314.0h0.65M189.6 303.3h0.65M196.8 290.6h0.65M180.6 303.5h0.65M187.2 311.2h0.65M185.8 303.1h0.65M195.0 302.7h0.65M196.9 291.5h0.65M183.0 297.6h0.65M187.4 297.5h0.65M201.7 295.8h0.65M181.9 314.6h0.65M203.7 298.8h0.65M181.6 305.1h0.65M193.2 299.3h0.65M197.0 309.9h0.65M189.3 293.7h0.65M193.4 303.7h0.65M193.2 293.4h0.65M196.6 298.2h0.65M192.3 302.1h0.65M197.4 306.0h0.65M193.9 305.6h0.65M194.7 311.8h0.65M200.6 303.1h0.65M184.2 298.7h0.65M201.8 303.8h0.65M190.1 304.1h0.65M189.1 306.8h0.65M188.0 297.1h0.65M183.4 299.3h0.65M199.1 303.1h0.65M181.0 308.8h0.65M199.5 294.0h0.65M191.2 308.7h0.65M178.7 312.5h0.65M184.8 300.3h0.65M202.9 294.1h0.65M187.2 316.0h0.65M183.3 304.5h0.65M191.7 293.4h0.65M185.3 304.5h0.65M182.4 311.3h0.65M202.5 295.3h0.65M186.9 297.5h0.65M194.7 290.9h0.65M203.3 298.3h0.65M197.3 299.6h0.65M181.9 307.2h0.65M187.8 310.9h0.65M190.7 306.3h0.65M182.5 312.3h0.65M197.4 298.8h0.65M187.2 312.9h0.65M181.9 298.0h0.65M195.1 305.9h0.65M199.8 293.5h0.65M185.8 295.5h0.65M198.0 303.7h0.65M198.4 290.7h0.65M193.8 292.9h0.65M191.7 292.7h0.65M200.0 302.9h0.65M195.1 299.5h0.65M186.7 311.1h0.65M184.9 311.6h0.65M183.4 302.1h0.65M185.6 295.5h0.65M193.6 292.7h0.65M181.5 312.6h0.65M180.7 311.6h0.65M202.3 295.7h0.65M197.7 292.1h0.65M197.8 307.9h0.65M198.5 295.0h0.65M200.2 303.6h0.65M204.6 296.3h0.65M191.4 303.8h0.65M192.9 305.0h0.65M191.1 312.0h0.65M194.8 295.9h0.65M201.9 302.6h0.65M183.9 313.1h0.65M185.0 307.8h0.65M184.1 314.0h0.65M185.8 299.5h0.65M187.9 304.4h0.65M192.4 313.4h0.65M190.6 312.7h0.65M188.3 314.1h0.65M200.6 298.3h0.65M183.1 311.8h0.65M181.4 305.8h0.65M183.2 304.4h0.65M197.0 291.6h0.65M187.6 297.3h0.65M185.4 307.6h0.65M196.6 303.5h0.65M187.7 297.1h0.65M194.9 292.5h0.65M180.4 310.4h0.65M183.4 315.1h0.65M186.2 299.7h0.65M181.7 304.0h0.65M182.1 310.8h0.65M182.8 315.7h0.65M197.5 299.1h0.65M199.8 292.4h0.65M179.3 309.4h0.65M186.5 301.3h0.65M204.0 300.0h0.65M191.2 307.8h0.65M185.5 297.1h0.65M199.8 293.1h0.65M182.5 296.5h0.65M182.5 306.9h0.65M183.1 313.3h0.65M191.0 306.0h0.65M182.9 302.1h0.65M194.8 310.3h0.65M187.9 306.6h0.65M184.1 302.4h0.65M204.0 294.1h0.65M185.9 312.8h0.65M198.1 306.4h0.65M199.5 291.8h0.65M195.3 302.1h0.65M198.2 303.3h0.65M195.5 294.5h0.65M195.6 299.0h0.65M189.2 305.6h0.65M183.1 311.0h0.65M193.6 294.6h0.65M188.8 292.5h0.65M204.6 298.0h0.65M190.6 293.7h0.65M197.7 298.2h0.65M198.9 298.1h0.65M185.8 297.6h0.65M184.7 306.9h0.65M194.4 297.8h0.65M184.8 298.4h0.65M178.7 309.1h0.65M202.9 295.4h0.65M195.9 293.1h0.65M191.7 293.9h0.65M196.5 304.8h0.65M192.6 297.7h0.65M191.8 309.4h0.65M196.5 307.9h0.65M185.4 300.9h0.65M192.6 292.7h0.65M179.0 312.9h0.65M187.8 299.8h0.65M184.4 305.7h0.65M194.0 302.3h0.65M203.3 298.2h0.65M181.6 304.6h0.65M189.1 302.4h0.65M183.2 315.8h0.65M201.7 292.6h0.65M199.8 303.5h0.65M179.2 313.1h0.65M192.0 291.5h0.65M191.5 304.6h0.65M194.2 308.4h0.65" stroke="#6a6a6a" stroke-width="0.65" fill="none" opacity="0.7"/>
<path d="M248.1 322.2h0.6M277.7 288.3h0.6M248.9 299.6h0.6M256.9 290.1h0.6M254.0 289.8h0.6M278.8 315.4h0.6M256.8 323.4h0.6M264.2 285.8h0.6M276.3 321.6h0.6M269.7 284.8h0.6M246.4 287.9h0.6M271.8 316.7h0.6M267.1 287.4h0.6M270.7 321.6h0.6M243.0 325.2h0.6M275.1 287.5h0.6M283.7 289.3h0.6M279.1 303.5h0.6M247.3 304.9h0.6M264.6 286.0h0.6M251.4 320.6h0.6M260.3 320.4h0.6M248.2 322.2h0.6M240.0 318.9h0.6M242.4 322.7h0.6M239.3 320.3h0.6M279.1 302.1h0.6M272.1 320.4h0.6M279.6 307.1h0.6M266.1 281.8h0.6M245.5 330.3h0.6M241.6 310.1h0.6M282.0 293.1h0.6M247.6 294.8h0.6M246.5 306.2h0.6M248.0 319.8h0.6M254.0 293.1h0.6M278.3 289.2h0.6M277.3 313.0h0.6M255.9 321.9h0.6M241.9 324.6h0.6M264.3 283.4h0.6M266.2 282.2h0.6M268.8 286.5h0.6M261.3 320.3h0.6M256.6 327.4h0.6M247.9 303.7h0.6M274.2 285.7h0.6M244.9 327.4h0.6M245.2 311.6h0.6M281.1 323.0h0.6M247.0 295.4h0.6M254.5 323.2h0.6M281.1 298.5h0.6M255.3 283.5h0.6M266.5 319.1h0.6M254.9 292.4h0.6M278.4 288.2h0.6M262.6 323.8h0.6M279.8 287.7h0.6M283.0 294.9h0.6M250.1 298.2h0.6M271.2 282.3h0.6M277.6 308.5h0.6M259.0 324.5h0.6M244.9 327.2h0.6M251.9 323.3h0.6M266.4 285.6h0.6M273.3 282.3h0.6M269.5 319.7h0.6M253.2 293.7h0.6M247.0 304.0h0.6M278.6 311.2h0.6M271.4 317.8h0.6M253.5 322.0h0.6M264.9 321.0h0.6M252.7 294.8h0.6M250.2 292.4h0.6M243.9 301.8h0.6M280.0 300.3h0.6M255.1 325.5h0.6M275.9 315.2h0.6M280.2 305.8h0.6M267.1 322.1h0.6M262.6 283.2h0.6M280.8 299.5h0.6M284.2 312.0h0.6M245.3 316.2h0.6M248.9 290.8h0.6M245.5 324.8h0.6M275.9 315.9h0.6M256.8 323.5h0.6M246.6 323.5h0.6M249.2 291.4h0.6M262.6 281.5h0.6M257.3 285.7h0.6M291.3 298.7h0.6M277.9 311.0h0.6M280.1 309.1h0.6M260.0 286.5h0.6M272.8 316.2h0.6M279.3 285.2h0.6M277.6 321.2h0.6M278.9 303.2h0.6M247.5 316.3h0.6M245.1 313.9h0.6M269.6 284.6h0.6M279.4 308.4h0.6M247.2 301.3h0.6M246.9 319.2h0.6M281.6 307.8h0.6M279.8 289.5h0.6M250.2 301.2h0.6M260.2 289.5h0.6M276.8 290.4h0.6M247.5 301.9h0.6M254.8 323.6h0.6M251.3 323.5h0.6M243.2 317.6h0.6M258.7 290.5h0.6M276.3 313.7h0.6M241.8 311.6h0.6M261.0 320.5h0.6M268.3 285.0h0.6M280.9 312.4h0.6M260.1 327.5h0.6M258.3 287.9h0.6M277.3 311.3h0.6M266.9 320.5h0.6M253.5 279.3h0.6M254.8 292.1h0.6M260.5 284.6h0.6M251.7 321.8h0.6M276.9 312.5h0.6M250.3 319.9h0.6M257.3 321.8h0.6M275.8 318.6h0.6M248.8 323.2h0.6M266.8 317.9h0.6M253.7 323.2h0.6M249.5 299.2h0.6M263.6 319.5h0.6M258.6 323.1h0.6M271.5 280.8h0.6M243.7 323.9h0.6M255.1 325.0h0.6M260.1 323.3h0.6M277.7 286.3h0.6M277.4 283.6h0.6M263.3 286.8h0.6M268.0 321.5h0.6M244.7 310.8h0.6M265.4 324.2h0.6M249.6 296.8h0.6M254.9 285.9h0.6M279.8 289.3h0.6M274.3 317.1h0.6M273.4 287.1h0.6M276.3 311.7h0.6M260.6 286.5h0.6M263.1 283.4h0.6M278.8 319.2h0.6M279.1 293.5h0.6M247.7 307.4h0.6M275.8 287.7h0.6M254.6 327.2h0.6M277.3 283.7h0.6M276.3 309.8h0.6M279.3 291.3h0.6M280.1 302.4h0.6M277.7 312.4h0.6M280.1 310.8h0.6M254.1 289.2h0.6M253.5 294.7h0.6M255.3 289.9h0.6M279.2 288.1h0.6M269.6 318.6h0.6M278.4 290.1h0.6M276.7 314.9h0.6M284.0 293.8h0.6M262.3 283.3h0.6M280.7 303.6h0.6M244.7 320.0h0.6M256.8 289.1h0.6M248.5 316.3h0.6M288.4 311.2h0.6M279.0 310.6h0.6M277.8 308.3h0.6M284.0 294.6h0.6M281.9 308.1h0.6M257.2 287.6h0.6M254.1 290.9h0.6M281.0 307.3h0.6M274.5 286.7h0.6M260.5 286.9h0.6M271.0 316.6h0.6M241.3 318.8h0.6M244.6 319.3h0.6M247.9 314.1h0.6M246.8 305.1h0.6M250.5 319.8h0.6M269.2 286.3h0.6M270.7 286.6h0.6M273.2 316.3h0.6M279.0 311.8h0.6M266.6 282.3h0.6M280.3 309.8h0.6M244.3 291.5h0.6M279.6 310.2h0.6M260.8 325.6h0.6M250.8 319.8h0.6M258.1 288.2h0.6M253.7 323.1h0.6M280.0 308.4h0.6M262.6 287.7h0.6M264.7 322.6h0.6M243.3 320.7h0.6M273.6 282.4h0.6M280.3 292.7h0.6M287.1 302.0h0.6M275.8 287.0h0.6M267.6 287.3h0.6M280.0 292.5h0.6M269.3 318.8h0.6M262.9 282.9h0.6M248.3 326.3h0.6M271.9 320.7h0.6M268.7 282.6h0.6M248.8 319.9h0.6M252.6 293.2h0.6M273.4 287.0h0.6M257.8 291.6h0.6M275.0 316.0h0.6M264.0 321.9h0.6M274.2 286.4h0.6M245.5 317.5h0.6M248.8 289.1h0.6M277.5 306.8h0.6M245.7 292.5h0.6M267.7 284.7h0.6M269.7 318.1h0.6M242.8 319.8h0.6M245.8 321.6h0.6M289.6 309.9h0.6M256.2 320.9h0.6M284.6 312.0h0.6M254.6 294.6h0.6M241.7 315.6h0.6M263.8 281.1h0.6M280.4 321.5h0.6M282.6 281.4h0.6M280.5 312.8h0.6M278.9 306.8h0.6M278.4 310.2h0.6M278.2 283.7h0.6M261.2 282.7h0.6M252.0 322.9h0.6M278.6 311.8h0.6M243.0 315.5h0.6M246.6 309.7h0.6M279.0 303.5h0.6M268.1 321.1h0.6M244.6 312.3h0.6M254.4 288.2h0.6M264.7 321.5h0.6M264.7 285.3h0.6M248.5 325.2h0.6M255.6 293.2h0.6M248.8 294.9h0.6M293.5 292.3h0.6M258.0 289.0h0.6M279.7 308.3h0.6M280.9 295.7h0.6M267.4 319.4h0.6M275.0 317.8h0.6M253.8 323.2h0.6M246.0 316.5h0.6M249.9 323.0h0.6M256.2 322.5h0.6M283.0 300.4h0.6M249.4 320.4h0.6M267.9 320.3h0.6M253.4 322.9h0.6M255.2 327.2h0.6M270.5 282.2h0.6M279.3 303.2h0.6M274.6 281.5h0.6M273.2 316.4h0.6M249.3 322.5h0.6M248.0 319.1h0.6M247.7 306.7h0.6M244.7 316.1h0.6M245.0 316.3h0.6M256.7 322.1h0.6M256.8 292.8h0.6M287.1 305.9h0.6M245.8 304.9h0.6M253.9 321.9h0.6M246.7 313.2h0.6M283.8 287.9h0.6M246.3 282.6h0.6M246.8 301.8h0.6M246.2 303.5h0.6M259.2 321.4h0.6M254.9 322.1h0.6M245.1 309.2h0.6M265.3 285.6h0.6M261.6 288.3h0.6M283.3 303.6h0.6M258.8 288.6h0.6M250.8 325.2h0.6M259.7 322.9h0.6M245.8 305.0h0.6M250.8 324.4h0.6M276.0 314.4h0.6M243.3 316.1h0.6M248.7 297.7h0.6M277.2 311.4h0.6M270.0 321.9h0.6M249.9 297.6h0.6M266.3 284.5h0.6M246.8 321.7h0.6M276.5 312.4h0.6M252.3 297.7h0.6M275.5 315.1h0.6M280.2 283.5h0.6M279.2 287.7h0.6M277.3 313.6h0.6M258.6 286.2h0.6M252.7 325.9h0.6M276.8 285.7h0.6M278.3 292.6h0.6M247.7 315.8h0.6M278.5 315.0h0.6M268.3 320.0h0.6M259.3 289.2h0.6M261.5 323.6h0.6M254.9 293.7h0.6M260.3 289.9h0.6M243.2 321.3h0.6M261.8 282.7h0.6M258.3 288.0h0.6M281.5 298.4h0.6M280.8 304.2h0.6M269.4 319.6h0.6M257.8 326.3h0.6M244.1 306.2h0.6M283.3 282.9h0.6M270.2 321.2h0.6M251.8 325.8h0.6M245.2 320.3h0.6M267.3 321.1h0.6M246.9 301.6h0.6M261.3 322.2h0.6M255.0 321.9h0.6M249.8 324.4h0.6M278.2 290.6h0.6M279.6 293.8h0.6M281.4 312.2h0.6M283.6 303.3h0.6M244.4 314.1h0.6M280.0 305.0h0.6M247.5 297.2h0.6M253.8 287.4h0.6M253.1 321.7h0.6M247.3 324.8h0.6M290.2 298.4h0.6M268.3 317.2h0.6M279.3 288.7h0.6M273.4 281.0h0.6M273.0 314.9h0.6M278.5 307.8h0.6M251.7 300.1h0.6M281.2 295.9h0.6M276.0 286.8h0.6M272.3 286.1h0.6M286.2 310.5h0.6M260.1 321.8h0.6M265.1 285.3h0.6M281.1 293.8h0.6M267.7 286.3h0.6M254.9 287.6h0.6M245.5 311.8h0.6M285.0 289.1h0.6M244.2 291.4h0.6M283.6 291.8h0.6M266.8 280.3h0.6M242.0 311.6h0.6M263.4 327.9h0.6M273.4 287.1h0.6M247.2 320.4h0.6M254.2 324.5h0.6M262.5 288.1h0.6M261.9 322.5h0.6M246.1 313.8h0.6M275.7 315.6h0.6M280.1 318.5h0.6M249.7 324.4h0.6M255.6 288.9h0.6M281.7 288.7h0.6M249.8 327.9h0.6M251.2 321.7h0.6M278.8 288.9h0.6M262.4 321.2h0.6M265.2 280.8h0.6M277.9 318.7h0.6M253.6 289.0h0.6M264.4 285.1h0.6M279.1 288.3h0.6M256.1 289.5h0.6M281.2 295.0h0.6M247.8 319.7h0.6M246.6 309.5h0.6M264.2 286.0h0.6M247.4 317.7h0.6M256.9 325.4h0.6M265.6 327.8h0.6M243.1 317.3h0.6M244.8 313.0h0.6M263.6 287.5h0.6M268.4 285.3h0.6M248.2 306.5h0.6M268.7 281.0h0.6M260.8 286.3h0.6M245.6 314.6h0.6M256.9 289.5h0.6M275.4 312.1h0.6M251.2 327.5h0.6M249.0 300.6h0.6M281.6 303.1h0.6M271.5 283.5h0.6M253.1 298.8h0.6M254.3 323.6h0.6M242.6 300.7h0.6M255.6 294.3h0.6M270.0 319.0h0.6M260.1 324.2h0.6M280.5 289.5h0.6M266.1 284.5h0.6M246.6 310.4h0.6M246.1 325.9h0.6M273.2 286.6h0.6M244.2 305.3h0.6M281.5 294.2h0.6M276.9 310.6h0.6M248.9 320.0h0.6M271.4 321.1h0.6M247.1 302.4h0.6M283.5 308.8h0.6M272.7 323.3h0.6M276.1 313.2h0.6M276.0 316.9h0.6M258.4 323.9h0.6M256.9 323.3h0.6M280.0 312.8h0.6M253.2 296.3h0.6M249.4 321.1h0.6M263.0 321.3h0.6M244.7 314.1h0.6M283.3 312.4h0.6M279.0 291.0h0.6M255.5 323.9h0.6M245.3 308.2h0.6M285.3 305.1h0.6M247.9 305.9h0.6M241.8 304.9h0.6M273.9 316.4h0.6M252.5 298.0h0.6M261.1 320.9h0.6M258.1 288.8h0.6M281.0 286.2h0.6M277.5 308.6h0.6M274.2 317.2h0.6M245.6 312.0h0.6M267.8 285.9h0.6M258.7 323.8h0.6M247.0 314.5h0.6M241.1 311.4h0.6M277.7 312.8h0.6M259.8 289.6h0.6M260.4 322.4h0.6M252.2 323.7h0.6M246.7 307.3h0.6M284.8 299.9h0.6M260.7 285.4h0.6M250.5 301.6h0.6M279.4 294.4h0.6M279.7 291.6h0.6M271.5 284.9h0.6M275.7 317.4h0.6M253.2 293.5h0.6M274.1 286.3h0.6M265.5 322.2h0.6M278.3 293.0h0.6M265.8 285.7h0.6M261.9 322.6h0.6M279.7 300.0h0.6M250.1 297.2h0.6M282.2 295.6h0.6M261.7 285.4h0.6M270.3 315.9h0.6M279.5 297.9h0.6M251.4 322.3h0.6M252.2 298.5h0.6M257.8 282.1h0.6M243.9 305.7h0.6M262.8 283.5h0.6M268.0 319.9h0.6M275.2 314.7h0.6M248.6 304.7h0.6M278.6 295.0h0.6M276.1 311.7h0.6M278.6 289.1h0.6M280.0 316.3h0.6M263.8 322.4h0.6M247.2 313.4h0.6M255.1 330.2h0.6M252.3 323.5h0.6M258.7 323.4h0.6M280.3 293.2h0.6M281.0 295.2h0.6M276.6 318.0h0.6M265.0 321.7h0.6M263.9 325.1h0.6M277.2 314.4h0.6M254.7 291.0h0.6M252.9 321.7h0.6M267.2 322.3h0.6M278.8 300.0h0.6M246.8 321.2h0.6M247.5 301.6h0.6M242.4 326.0h0.6M268.1 320.9h0.6M283.1 299.2h0.6M245.7 323.8h0.6M282.0 312.5h0.6M245.6 311.0h0.6M281.0 293.1h0.6M249.3 302.3h0.6M258.0 327.2h0.6M242.0 310.5h0.6M261.8 321.1h0.6M246.5 313.2h0.6M265.0 324.6h0.6M277.4 309.8h0.6M265.5 318.3h0.6M270.9 286.5h0.6M282.1 295.3h0.6M268.0 321.4h0.6M269.3 321.9h0.6M263.1 325.4h0.6M282.9 296.2h0.6M252.5 293.1h0.6M280.1 292.0h0.6M240.2 325.7h0.6M273.2 281.7h0.6M278.2 279.4h0.6M270.5 281.4h0.6M250.7 300.0h0.6M277.0 314.5h0.6M262.1 321.8h0.6M284.4 316.5h0.6M253.7 328.2h0.6M276.2 316.7h0.6M282.3 298.3h0.6M281.9 304.3h0.6M247.0 319.1h0.6M265.3 284.7h0.6M283.4 292.4h0.6M263.1 282.4h0.6M278.2 297.5h0.6M278.0 312.1h0.6M251.3 322.1h0.6M251.0 319.7h0.6M254.5 325.6h0.6M279.6 290.8h0.6M281.3 289.8h0.6M251.4 329.9h0.6M284.5 286.6h0.6M252.7 293.0h0.6M251.3 299.2h0.6M277.9 280.8h0.6M282.1 290.4h0.6M256.0 291.3h0.6M257.6 326.0h0.6M263.8 285.8h0.6M251.2 295.9h0.6M274.0 286.2h0.6M243.4 321.1h0.6M274.7 286.2h0.6M273.4 286.7h0.6M257.5 284.9h0.6M272.4 314.9h0.6M254.7 326.5h0.6M245.4 312.8h0.6M251.5 291.7h0.6M279.5 297.6h0.6M282.4 316.6h0.6M253.3 286.0h0.6M278.9 303.9h0.6M277.8 311.6h0.6M278.4 290.3h0.6M280.2 291.2h0.6M246.8 318.8h0.6M250.3 303.5h0.6M258.7 289.4h0.6M252.4 320.7h0.6M279.4 307.1h0.6M276.2 323.4h0.6M278.8 302.6h0.6M274.0 284.4h0.6M264.5 279.8h0.6M243.3 295.2h0.6M246.4 311.4h0.6M266.9 283.7h0.6M249.8 292.2h0.6M267.0 286.0h0.6M246.6 316.0h0.6M281.4 300.5h0.6M249.2 301.0h0.6M243.2 313.8h0.6M281.1 298.4h0.6M239.0 318.7h0.6M247.2 329.4h0.6M273.8 287.1h0.6M248.2 317.3h0.6M273.0 323.1h0.6M276.8 310.6h0.6M263.9 284.1h0.6M285.2 291.8h0.6M251.7 320.9h0.6M270.6 287.3h0.6M273.0 326.2h0.6M247.0 311.2h0.6M268.3 284.2h0.6M245.2 307.9h0.6M270.9 287.3h0.6M284.8 305.3h0.6M271.3 319.2h0.6M246.4 305.8h0.6M244.0 311.5h0.6M242.7 313.3h0.6M264.9 282.9h0.6M252.6 295.1h0.6M277.4 290.5h0.6M247.1 319.2h0.6M276.9 314.2h0.6M264.6 282.5h0.6M268.6 286.3h0.6M260.1 287.6h0.6M251.6 321.2h0.6M279.7 290.0h0.6M282.5 288.9h0.6M261.6 288.9h0.6M244.1 316.7h0.6M257.0 280.7h0.6M260.1 322.0h0.6M251.2 295.5h0.6M247.7 326.4h0.6M282.6 297.1h0.6M266.5 281.3h0.6M277.0 309.6h0.6M278.0 287.1h0.6M277.6 288.4h0.6M282.1 291.6h0.6M242.7 307.8h0.6M254.2 293.8h0.6M240.7 317.2h0.6M278.9 304.8h0.6M253.3 324.4h0.6M275.8 316.1h0.6M280.4 308.3h0.6M290.7 309.0h0.6M276.2 313.1h0.6M271.6 316.0h0.6M280.3 305.9h0.6M274.9 286.8h0.6M266.9 319.4h0.6M252.5 327.6h0.6M266.1 320.9h0.6M280.2 286.8h0.6M269.8 284.0h0.6M279.2 286.4h0.6M251.8 295.0h0.6M256.2 293.4h0.6M282.7 315.7h0.6M272.0 316.7h0.6M244.8 312.8h0.6M275.2 280.0h0.6M245.5 311.3h0.6M243.3 312.9h0.6M249.7 299.2h0.6M276.5 318.3h0.6M276.4 314.5h0.6M263.2 282.1h0.6M280.5 303.7h0.6M278.3 313.9h0.6M253.4 296.4h0.6M280.0 290.5h0.6M263.8 320.7h0.6M269.0 321.9h0.6M278.1 282.6h0.6M245.9 317.7h0.6M279.6 293.5h0.6M277.9 315.2h0.6M268.3 283.2h0.6M253.6 296.3h0.6M272.9 284.7h0.6M286.6 288.8h0.6M250.5 291.9h0.6M270.1 286.3h0.6M272.5 285.7h0.6M278.1 317.0h0.6M259.1 322.4h0.6M247.8 304.1h0.6M256.2 291.0h0.6M268.2 319.1h0.6M257.5 322.1h0.6M250.7 326.6h0.6M259.6 322.7h0.6M265.8 287.3h0.6M246.1 309.4h0.6M279.3 290.3h0.6M282.6 299.2h0.6M248.1 318.6h0.6M263.6 322.1h0.6M269.5 285.4h0.6M254.7 290.4h0.6M274.8 286.3h0.6M278.6 302.2h0.6M263.7 321.9h0.6M282.2 285.5h0.6M253.4 290.0h0.6M255.1 324.7h0.6M282.3 291.3h0.6M261.8 320.7h0.6M280.3 295.9h0.6M247.3 315.4h0.6M250.0 300.7h0.6" stroke="#999" stroke-width="0.6" fill="none"/>
<path d="M244.8,312.6 C244.8,310.2 245.98,307.02 247.2,304.2 C248.42,301.38 250.28,298.32 252.1,295.7 C253.92,293.08 255.88,290.32 258.1,288.5 C260.32,286.68 262.98,285.32 265.4,284.8 C267.82,284.28 270.4,284.78 272.6,285.4 C274.8,286.02 277.28,286.98 278.6,288.5 C279.92,290.02 280.28,292.1 280.5,294.5 C280.72,296.9 280.22,300.28 279.9,302.9 C279.58,305.52 279.22,308.18 278.6,310.2 C277.98,312.22 277.6,313.6 276.2,315 C274.8,316.4 272.2,317.58 270.2,318.6 C268.2,319.62 266.42,320.38 264.2,321.1 C261.98,321.82 258.92,322.6 256.9,322.9 C254.88,323.2 253.72,323.62 252.1,322.9 C250.48,322.18 248.42,320.32 247.2,318.6 C245.98,316.88 244.8,315 244.8,312.6 Z" fill="#f3f3f3" stroke="#666" stroke-width="0.6"/>
<path d="M246.5,313 C246.42,311 247.42,307.67 248.5,305 C249.58,302.33 251.32,299.42 253,297 C254.68,294.58 256.53,292.13 258.6,290.5 C260.67,288.87 263.17,287.65 265.4,287.2 C267.63,286.75 270.03,287.25 272,287.8 C273.97,288.35 276.1,289.3 277.2,290.5 C278.3,291.7 278.43,293.08 278.6,295 C278.77,296.92 278.5,299.75 278.2,302 C277.9,304.25 277.42,307.25 276.8,308.5 C276.18,309.75 275.63,309.83 274.5,309.5 C273.37,309.17 271.7,306.62 270,306.5 C268.3,306.38 266.43,308.18 264.3,308.8 C262.17,309.42 259.18,309.33 257.2,310.2 C255.22,311.07 253.77,312.87 252.4,314 C251.03,315.13 249.98,317.17 249,317 C248.02,316.83 246.58,315 246.5,313 Z" fill="#dcdcdc" stroke="#777" stroke-width="0.6"/>
<path d="M250.5,318.5 C253,316 256,314.5 260,313.8 C265,313 270,311 274,310.5 C276.5,310.5 277.5,312 277.5,314" fill="none" stroke="#6a6a6a" stroke-width="0.6"/>
<path d="M249.95,308.9 C249.19,307.13 250.8,303.48 251.92,301.01 C253.04,298.53 254.92,295.97 256.69,294.05 C258.46,292.14 260.6,290.43 262.53,289.52 C264.46,288.62 266.43,288.37 268.27,288.61 C270.11,288.85 272.34,289.73 273.57,290.97 C274.8,292.2 275.55,294.03 275.64,296.02 C275.73,298.01 274.96,300.91 274.1,302.9 C273.24,304.89 272.16,306.72 270.48,307.96 C268.81,309.2 266.38,309.74 264.05,310.34 C261.71,310.95 258.82,311.81 256.47,311.57 C254.12,311.33 250.71,310.66 249.95,308.9 Z" fill="#d0d0d0" stroke="#777" stroke-width="0.55"/>
<path d="M253.2,307.29 C252.59,305.89 253.9,302.97 254.76,300.98 C255.63,298.98 257.02,296.86 258.4,295.32 C259.77,293.78 261.44,292.5 263.01,291.75 C264.58,291.01 266.38,290.64 267.83,290.85 C269.28,291.05 270.79,291.98 271.72,292.99 C272.65,293.99 273.33,295.28 273.42,296.86 C273.51,298.43 272.92,300.83 272.27,302.44 C271.61,304.05 270.81,305.51 269.5,306.52 C268.18,307.52 266.22,307.99 264.37,308.47 C262.51,308.95 260.24,309.58 258.38,309.39 C256.52,309.19 253.8,308.69 253.2,307.29 Z" fill="#c2c2c2" stroke="#666" stroke-width="0.55"/>
<path d="M255.79,305.75 C255.33,304.67 256.4,302.27 257.06,300.73 C257.71,299.19 258.65,297.68 259.72,296.52 C260.79,295.37 262.22,294.38 263.5,293.8 C264.78,293.21 266.24,292.92 267.4,293.02 C268.56,293.11 269.74,293.6 270.45,294.39 C271.17,295.17 271.63,296.46 271.7,297.73 C271.76,299.01 271.39,300.81 270.85,302.03 C270.32,303.25 269.54,304.29 268.48,305.06 C267.42,305.84 265.96,306.29 264.52,306.66 C263.08,307.02 261.28,307.39 259.83,307.24 C258.37,307.09 256.25,306.84 255.79,305.75 Z" fill="#b4b4b4" stroke="#555" stroke-width="0.55"/>
<path d="M258.41,304.26 C258.08,303.47 258.96,301.82 259.47,300.71 C259.97,299.6 260.62,298.45 261.42,297.61 C262.22,296.77 263.39,296.05 264.28,295.64 C265.18,295.23 265.99,295.04 266.8,295.15 C267.62,295.25 268.61,295.72 269.18,296.27 C269.75,296.82 270.22,297.54 270.24,298.44 C270.26,299.34 269.71,300.77 269.29,301.67 C268.87,302.56 268.45,303.24 267.69,303.81 C266.94,304.37 265.8,304.78 264.76,305.05 C263.72,305.32 262.5,305.56 261.44,305.43 C260.38,305.3 258.74,305.05 258.41,304.26 Z" fill="#a8a8a8" stroke="#444" stroke-width="0.55"/>
<path d="M260.9,302.95 C260.72,302.41 261.34,301.37 261.63,300.62 C261.93,299.88 262.19,299.07 262.68,298.5 C263.17,297.93 263.97,297.52 264.58,297.22 C265.2,296.91 265.84,296.61 266.36,296.69 C266.89,296.78 267.34,297.28 267.72,297.72 C268.1,298.16 268.59,298.78 268.65,299.35 C268.72,299.93 268.36,300.61 268.1,301.17 C267.85,301.73 267.61,302.32 267.14,302.69 C266.67,303.07 266.02,303.21 265.28,303.4 C264.55,303.59 263.47,303.92 262.74,303.84 C262.01,303.76 261.09,303.48 260.9,302.95 Z" fill="#bdbdbd" stroke="#333" stroke-width="0.55"/>
<ellipse cx="265.4" cy="301" rx="1.2" ry="2.2" transform="rotate(35 265.4 301)" fill="#f6f6f6"/>
<path d="M258.5 291.5h0.65M274.2 289.0h0.65M263.7 296.5h0.65M267.6 302.0h0.65M277.1 298.8h0.65M268.2 299.5h0.65M260.4 308.0h0.65M263.2 294.2h0.65M267.8 301.8h0.65M265.4 304.0h0.65M261.3 295.3h0.65M259.5 302.4h0.65M256.0 295.4h0.65M275.8 299.3h0.65M256.0 303.3h0.65M251.4 304.6h0.65M260.3 305.6h0.65M270.7 302.4h0.65M273.4 302.4h0.65M267.3 307.5h0.65M271.0 305.3h0.65M251.0 303.1h0.65M276.1 299.7h0.65M250.8 308.8h0.65M256.3 302.9h0.65M254.5 309.1h0.65M274.3 307.9h0.65M271.2 303.4h0.65M248.9 306.8h0.65M267.2 302.9h0.65M258.0 296.1h0.65M260.8 292.2h0.65M273.8 292.7h0.65M277.1 301.8h0.65M270.0 292.6h0.65M263.9 294.4h0.65M269.3 302.0h0.65M275.1 302.7h0.65M263.1 305.8h0.65M267.0 288.1h0.65M259.1 291.9h0.65M273.7 290.2h0.65M258.1 299.4h0.65M252.7 305.5h0.65M271.9 300.0h0.65M256.3 295.5h0.65M250.6 308.4h0.65M272.2 301.2h0.65M249.5 311.6h0.65M262.5 289.0h0.65M256.1 293.6h0.65M276.4 300.4h0.65M259.3 301.7h0.65M271.9 301.6h0.65M262.9 290.8h0.65M275.9 304.4h0.65M269.3 294.0h0.65M271.5 297.6h0.65M271.4 298.7h0.65M265.4 307.5h0.65M274.6 296.2h0.65M274.8 296.1h0.65M274.7 301.1h0.65M263.5 297.3h0.65M259.3 304.9h0.65M264.8 300.8h0.65M255.7 302.7h0.65M257.2 293.9h0.65M266.9 297.1h0.65M267.9 299.4h0.65M261.2 304.1h0.65M256.0 302.1h0.65M275.6 293.9h0.65M254.1 312.5h0.65M272.7 307.0h0.65M250.2 315.9h0.65M248.6 314.4h0.65M260.4 308.6h0.65M251.2 311.0h0.65M249.9 303.1h0.65M256.5 307.3h0.65M266.3 298.5h0.65M272.5 305.7h0.65M253.8 307.4h0.65M272.2 303.3h0.65M265.6 293.7h0.65M250.1 304.2h0.65M256.5 309.0h0.65M259.5 303.0h0.65M263.6 293.7h0.65M264.4 304.5h0.65M251.3 313.6h0.65M275.0 300.3h0.65M262.7 298.5h0.65M270.8 300.4h0.65M267.2 290.0h0.65M271.5 305.8h0.65M272.3 307.6h0.65M274.1 289.2h0.65M270.4 301.0h0.65M274.0 299.5h0.65M259.3 309.1h0.65M253.1 309.4h0.65M266.9 300.3h0.65M253.8 308.5h0.65M275.5 295.4h0.65M260.7 289.8h0.65M265.2 290.5h0.65M267.6 291.2h0.65M264.9 302.0h0.65M259.9 307.8h0.65M268.3 301.2h0.65M274.9 292.6h0.65M248.1 306.9h0.65M275.1 291.0h0.65M270.8 300.6h0.65M274.5 307.0h0.65M264.6 299.5h0.65M272.3 296.1h0.65M254.9 308.2h0.65M258.0 306.7h0.65M254.5 300.4h0.65M268.9 299.3h0.65M275.1 306.8h0.65M254.7 295.6h0.65M253.6 310.7h0.65M274.7 304.0h0.65M247.5 310.0h0.65M257.7 302.1h0.65M254.2 297.1h0.65M262.3 299.5h0.65M265.9 305.9h0.65M256.4 304.0h0.65M274.0 306.5h0.65M273.1 289.7h0.65M266.4 304.0h0.65M264.0 306.7h0.65M263.0 292.3h0.65M266.4 299.5h0.65M259.1 291.6h0.65M257.0 305.2h0.65M262.1 289.5h0.65M254.7 297.3h0.65M258.3 296.1h0.65M248.1 309.1h0.65M273.6 301.8h0.65M275.0 305.4h0.65M262.3 299.5h0.65M269.6 289.0h0.65M257.9 302.7h0.65M262.2 298.4h0.65M270.6 304.6h0.65M266.1 292.4h0.65M266.1 297.8h0.65M259.6 308.4h0.65M276.1 297.0h0.65M265.1 301.3h0.65M264.4 292.8h0.65M275.9 291.3h0.65M260.9 301.6h0.65M258.8 308.1h0.65M276.8 300.6h0.65M263.9 299.5h0.65M259.1 296.5h0.65M254.5 311.7h0.65M272.5 291.9h0.65M265.8 292.3h0.65M275.9 301.9h0.65M255.7 295.0h0.65M250.3 315.8h0.65M254.0 301.6h0.65M271.9 293.5h0.65M262.3 288.9h0.65M276.1 291.2h0.65M254.0 312.7h0.65M249.5 312.5h0.65M249.4 314.4h0.65M255.6 309.4h0.65M258.5 291.1h0.65M278.0 295.3h0.65M258.5 297.2h0.65M250.2 305.4h0.65M258.0 306.4h0.65M249.9 307.1h0.65M263.8 297.0h0.65M273.8 307.5h0.65M267.5 295.2h0.65M263.2 297.0h0.65M270.2 299.5h0.65M272.4 298.3h0.65M261.2 298.5h0.65M262.0 306.2h0.65M257.3 294.6h0.65M274.1 293.9h0.65M264.6 307.1h0.65M262.2 293.9h0.65M265.5 295.6h0.65M267.2 296.4h0.65M267.1 294.4h0.65M254.0 299.2h0.65M264.8 296.7h0.65M262.0 295.3h0.65M256.7 307.3h0.65M248.0 310.8h0.65M273.4 290.6h0.65M261.5 292.9h0.65M259.3 305.9h0.65M277.5 305.0h0.65M247.6 308.9h0.65M276.3 293.4h0.65M271.8 291.2h0.65M273.0 304.2h0.65M255.2 300.5h0.65M262.0 296.3h0.65M278.1 299.2h0.65M251.3 305.9h0.65M263.3 303.2h0.65M276.5 298.1h0.65M252.4 306.2h0.65M260.1 291.4h0.65M256.8 307.7h0.65M262.8 309.0h0.65M258.0 293.0h0.65M264.2 303.5h0.65M268.7 297.9h0.65M265.8 292.8h0.65M272.3 302.1h0.65M275.2 292.5h0.65M266.4 297.1h0.65M277.9 298.6h0.65M267.4 299.0h0.65M271.4 298.0h0.65M257.6 295.4h0.65M253.7 304.4h0.65M275.0 301.4h0.65M272.6 289.5h0.65M257.7 303.3h0.65M250.8 304.8h0.65M264.2 288.3h0.65M255.7 297.7h0.65M276.1 294.8h0.65M248.9 307.6h0.65M277.8 296.7h0.65M251.6 305.5h0.65M265.2 290.5h0.65M264.4 307.8h0.65M272.2 300.2h0.65M262.1 308.2h0.65M278.5 294.9h0.65M276.5 301.1h0.65M267.9 297.6h0.65M259.3 294.2h0.65M260.8 302.4h0.65M252.0 300.2h0.65M259.3 294.1h0.65M252.8 305.0h0.65M247.5 314.4h0.65M270.3 290.3h0.65M261.9 308.1h0.65M262.3 290.7h0.65M248.8 310.0h0.65M273.6 307.7h0.65M262.0 291.8h0.65M264.8 295.3h0.65M266.6 289.9h0.65M252.8 302.0h0.65M258.7 299.4h0.65M251.5 314.6h0.65M269.8 290.4h0.65M274.8 292.6h0.65M270.6 298.9h0.65M263.5 304.0h0.65M261.8 308.5h0.65M265.2 300.7h0.65M249.5 306.8h0.65M271.4 299.3h0.65M257.6 306.0h0.65M270.3 295.9h0.65M259.3 296.4h0.65M261.6 298.9h0.65M274.2 294.5h0.65M253.1 307.9h0.65M269.5 301.1h0.65M272.6 293.0h0.65M255.2 303.2h0.65M269.9 299.0h0.65M277.0 300.3h0.65M273.0 303.9h0.65M272.2 302.8h0.65M267.6 292.2h0.65M262.6 297.6h0.65M263.3 300.2h0.65M270.3 296.7h0.65M268.1 292.9h0.65M263.1 290.5h0.65M264.1 307.4h0.65M266.6 302.3h0.65M278.0 293.5h0.65M249.4 310.7h0.65M260.4 305.1h0.65M271.9 302.6h0.65M252.6 306.6h0.65M268.9 290.1h0.65M262.0 291.0h0.65M269.8 296.2h0.65M250.6 303.8h0.65M270.7 295.5h0.65M265.8 305.6h0.65M254.6 299.7h0.65M259.7 306.6h0.65M262.2 300.1h0.65M260.7 296.4h0.65M258.0 295.7h0.65M270.4 290.3h0.65M259.8 300.4h0.65M248.3 310.6h0.65M255.2 301.6h0.65M274.7 303.2h0.65M269.6 303.0h0.65M275.3 297.2h0.65M274.2 307.6h0.65M272.8 288.3h0.65M275.8 300.4h0.65M259.5 297.2h0.65M277.8 300.1h0.65M253.1 299.7h0.65M271.2 305.0h0.65M266.5 293.2h0.65M266.6 302.2h0.65M248.3 311.7h0.65M268.3 290.1h0.65M246.8 313.1h0.65M257.9 296.3h0.65M271.4 298.7h0.65M254.0 303.6h0.65M264.7 295.2h0.65M263.5 303.2h0.65M275.9 292.3h0.65M259.5 308.6h0.65M254.9 302.0h0.65M250.9 305.5h0.65M270.0 302.5h0.65M274.4 298.4h0.65M264.0 302.8h0.65M256.2 306.6h0.65M262.5 306.2h0.65M271.7 292.4h0.65M273.9 308.9h0.65M259.8 295.4h0.65M259.4 304.9h0.65M259.1 302.9h0.65M277.1 292.9h0.65M263.0 293.5h0.65M252.2 305.1h0.65M262.9 305.3h0.65M266.1 297.2h0.65M276.5 297.8h0.65M264.0 304.5h0.65M247.7 308.3h0.65M252.1 304.0h0.65M259.7 297.9h0.65M258.3 301.2h0.65M261.0 296.6h0.65M254.7 299.9h0.65M262.4 302.7h0.65M262.6 306.2h0.65M257.6 307.6h0.65M257.2 304.8h0.65M259.2 299.0h0.65M273.0 292.0h0.65M277.7 302.4h0.65M262.1 298.3h0.65M247.3 310.5h0.65M273.7 296.6h0.65M263.8 304.9h0.65M252.2 302.2h0.65M274.3 304.4h0.65M271.0 294.2h0.65M251.1 304.4h0.65M261.4 300.8h0.65M256.7 305.8h0.65M274.1 308.5h0.65M264.9 301.5h0.65M256.8 297.2h0.65M268.7 303.0h0.65M258.7 298.3h0.65M260.8 293.8h0.65M259.4 296.3h0.65M267.4 305.1h0.65M260.1 300.6h0.65M268.0 301.9h0.65M271.5 299.7h0.65M261.2 301.2h0.65M273.1 302.5h0.65M253.6 306.3h0.65M254.9 302.2h0.65M262.8 300.5h0.65M268.1 305.5h0.65M255.0 299.9h0.65M276.6 291.3h0.65M264.0 295.6h0.65M254.2 306.3h0.65M272.6 300.7h0.65M256.8 309.4h0.65M274.4 293.8h0.65M268.8 302.4h0.65M255.4 311.0h0.65M253.6 305.6h0.65M257.7 303.1h0.65M275.2 304.6h0.65M263.2 302.8h0.65M264.7 288.5h0.65M275.5 305.4h0.65M269.0 301.9h0.65M268.7 306.5h0.65M257.8 305.7h0.65M262.1 296.7h0.65M250.4 302.1h0.65M273.2 301.5h0.65M267.4 290.1h0.65M254.2 301.1h0.65M268.0 288.6h0.65M271.2 290.1h0.65M269.1 299.6h0.65M265.4 297.4h0.65M271.2 304.9h0.65M271.6 298.3h0.65M254.9 299.4h0.65M275.0 293.9h0.65M260.7 309.2h0.65M267.0 307.0h0.65M265.0 300.4h0.65M272.9 291.7h0.65M257.8 292.4h0.65M265.2 295.1h0.65M257.0 303.5h0.65M257.9 306.3h0.65M264.9 295.2h0.65M266.8 296.0h0.65M252.3 300.7h0.65M265.8 289.2h0.65M266.3 298.4h0.65M251.2 304.8h0.65M272.1 297.7h0.65M271.3 300.0h0.65M262.3 295.9h0.65M269.7 306.4h0.65M259.1 305.0h0.65M259.1 297.6h0.65M256.0 307.0h0.65M261.8 290.5h0.65M271.4 290.8h0.65M274.6 301.1h0.65M276.2 303.1h0.65M263.3 293.5h0.65M252.5 304.5h0.65M248.9 307.2h0.65M266.6 298.2h0.65M270.3 300.7h0.65M277.9 295.2h0.65M253.7 309.4h0.65M261.3 302.4h0.65M262.2 300.0h0.65M269.4 304.3h0.65M268.4 293.2h0.65M268.3 295.2h0.65M258.3 301.0h0.65M256.9 297.0h0.65M266.8 292.5h0.65M274.4 307.9h0.65M277.3 304.4h0.65M259.7 299.6h0.65M260.5 303.9h0.65M273.6 291.8h0.65M272.7 298.9h0.65M271.1 292.7h0.65M267.1 303.0h0.65M267.1 292.1h0.65M259.9 302.6h0.65M265.0 290.0h0.65M266.1 306.7h0.65M257.0 293.1h0.65M253.9 306.4h0.65M262.6 299.2h0.65M268.6 297.2h0.65M265.3 308.1h0.65M276.0 297.8h0.65M261.0 307.0h0.65M251.4 313.4h0.65M277.8 298.6h0.65M260.4 309.1h0.65M276.4 295.8h0.65M265.3 296.3h0.65M273.2 289.6h0.65M250.8 312.7h0.65M265.0 291.6h0.65M247.9 312.9h0.65M276.1 305.9h0.65M275.9 294.0h0.65M264.6 300.8h0.65M257.9 310.1h0.65M267.4 305.4h0.65M259.2 291.2h0.65M254.7 299.5h0.65M260.6 303.2h0.65M265.8 288.3h0.65M276.6 303.6h0.65M272.8 288.6h0.65M272.9 298.6h0.65M268.0 302.1h0.65M276.0 300.2h0.65M271.2 298.2h0.65M267.6 300.8h0.65M267.5 287.6h0.65M258.2 294.7h0.65M271.9 295.9h0.65M271.4 301.0h0.65M264.8 288.1h0.65M258.8 305.2h0.65M260.1 291.1h0.65M261.8 306.0h0.65M258.0 294.3h0.65M271.5 299.6h0.65M250.1 311.2h0.65M270.4 297.3h0.65M267.0 293.9h0.65M248.4 306.2h0.65M269.7 290.9h0.65M260.4 304.6h0.65M251.2 300.7h0.65M264.6 304.6h0.65M270.8 302.9h0.65M265.2 294.7h0.65M274.9 304.6h0.65M261.2 302.5h0.65M273.0 296.3h0.65M251.9 307.2h0.65M266.3 294.0h0.65M247.4 310.3h0.65M270.2 296.7h0.65M265.8 290.4h0.65M264.2 302.4h0.65M258.6 307.8h0.65M272.6 289.3h0.65M252.0 300.8h0.65M255.8 299.1h0.65M277.4 300.1h0.65M250.6 306.9h0.65M268.6 288.4h0.65M269.2 288.0h0.65" stroke="#6a6a6a" stroke-width="0.65" fill="none" opacity="0.7"/>
<path d="M266.3 286.9h0.6M252.1 319.8h0.6M275.3 314.0h0.6M270.4 293.3h0.6M258.7 299.2h0.6M256.7 293.6h0.6M264.9 286.8h0.6M253.0 306.2h0.6M267.4 307.8h0.6M260.7 313.2h0.6M267.6 314.5h0.6M254.5 304.1h0.6M266.3 309.8h0.6M278.1 292.6h0.6M271.9 287.0h0.6M259.0 291.9h0.6M278.1 302.5h0.6M268.0 317.2h0.6M256.7 313.5h0.6M260.5 301.4h0.6M264.5 311.7h0.6M261.7 307.7h0.6M266.8 290.3h0.6M252.9 313.4h0.6M261.2 302.5h0.6M276.1 308.3h0.6M252.6 304.6h0.6M269.5 312.4h0.6M276.2 297.9h0.6M274.5 305.0h0.6M260.0 288.8h0.6M250.4 310.3h0.6M276.6 309.1h0.6M270.5 311.0h0.6M255.1 305.8h0.6M253.3 315.2h0.6M276.8 304.0h0.6M255.6 294.6h0.6M278.5 301.5h0.6M269.1 316.4h0.6M258.0 302.8h0.6M259.5 291.8h0.6M269.9 292.4h0.6M271.7 311.9h0.6M272.4 289.6h0.6M276.9 307.4h0.6M259.6 319.2h0.6M255.8 317.1h0.6M269.1 294.0h0.6M255.6 301.4h0.6M270.2 309.3h0.6M268.7 299.4h0.6M257.7 294.6h0.6M270.7 292.0h0.6M251.0 318.6h0.6M263.8 317.7h0.6M279.8 292.9h0.6M249.9 312.6h0.6M270.3 298.9h0.6M248.6 305.2h0.6M263.1 320.4h0.6M250.4 308.8h0.6M264.6 292.7h0.6M263.4 294.4h0.6M268.0 312.2h0.6M261.0 312.4h0.6M277.6 312.1h0.6M267.7 289.6h0.6M272.0 292.9h0.6M268.3 310.2h0.6M279.2 300.1h0.6M266.0 305.5h0.6M258.7 305.7h0.6M265.6 289.9h0.6M270.6 290.3h0.6M252.4 309.8h0.6M261.7 286.9h0.6M252.5 298.5h0.6M270.1 318.2h0.6M262.2 288.9h0.6M252.4 308.9h0.6M252.3 318.1h0.6M267.1 319.4h0.6M260.9 287.2h0.6M271.1 308.5h0.6M256.7 306.8h0.6M253.4 314.0h0.6M275.3 312.4h0.6M269.3 315.6h0.6M261.8 300.8h0.6M268.0 287.8h0.6M265.0 305.6h0.6M267.4 305.8h0.6M274.7 291.0h0.6M274.8 312.9h0.6M273.1 288.8h0.6M276.0 299.9h0.6M275.1 294.2h0.6M250.9 297.9h0.6M269.2 307.6h0.6M269.8 303.7h0.6M258.7 315.2h0.6M278.4 293.7h0.6M257.3 307.6h0.6M271.1 312.4h0.6M264.4 290.6h0.6M259.4 302.8h0.6M256.1 310.2h0.6M274.1 296.0h0.6M262.7 301.7h0.6M261.7 295.3h0.6M266.7 291.6h0.6M266.4 299.0h0.6M258.6 301.8h0.6M256.6 322.2h0.6M246.3 312.9h0.6M248.3 311.2h0.6M270.1 292.2h0.6M279.0 291.5h0.6M279.9 292.6h0.6M258.9 288.6h0.6M257.6 322.7h0.6M265.9 314.6h0.6M252.0 322.5h0.6M261.2 295.7h0.6M250.7 321.6h0.6M256.2 316.6h0.6M280.1 299.1h0.6M258.5 300.9h0.6M251.7 321.3h0.6M264.7 304.7h0.6M277.2 302.0h0.6M264.5 297.4h0.6M259.7 313.1h0.6M275.9 311.5h0.6M262.6 307.3h0.6M271.9 298.1h0.6M262.6 304.7h0.6M270.5 291.6h0.6M261.1 316.0h0.6M251.6 303.4h0.6M270.4 291.4h0.6M265.8 305.8h0.6M255.1 305.2h0.6M275.1 292.6h0.6M271.9 308.3h0.6M252.3 304.8h0.6M277.0 300.5h0.6M274.8 286.7h0.6M253.6 316.0h0.6M269.9 295.1h0.6M256.2 304.1h0.6M273.7 303.8h0.6M263.0 290.0h0.6M266.9 310.2h0.6M269.3 315.0h0.6M266.8 312.1h0.6M264.7 299.1h0.6M263.5 315.5h0.6M262.3 287.4h0.6M274.4 293.3h0.6M268.9 314.4h0.6M267.4 287.6h0.6M257.4 312.0h0.6M258.7 291.4h0.6M271.0 308.7h0.6M262.7 303.5h0.6M246.4 310.2h0.6M269.0 300.1h0.6M247.3 318.5h0.6M266.3 318.8h0.6M254.8 298.4h0.6M248.5 306.1h0.6M263.2 296.9h0.6M256.3 292.1h0.6M276.0 314.9h0.6M270.7 306.6h0.6M256.3 303.4h0.6M270.7 317.3h0.6M279.4 295.6h0.6M259.7 316.9h0.6M274.3 292.6h0.6M263.9 287.6h0.6M258.2 297.0h0.6M270.3 287.7h0.6M268.1 300.9h0.6M263.6 291.9h0.6M264.3 320.7h0.6M262.9 293.2h0.6M260.1 292.4h0.6M266.4 299.2h0.6M266.2 300.4h0.6M278.8 299.9h0.6M273.0 301.8h0.6M248.9 312.4h0.6M260.9 309.2h0.6M247.1 312.9h0.6M250.4 304.9h0.6M275.9 310.7h0.6M252.5 304.4h0.6M266.7 285.9h0.6M271.0 318.1h0.6M248.1 307.8h0.6M251.6 320.6h0.6M264.9 310.9h0.6M264.9 301.9h0.6M270.6 285.6h0.6M254.3 304.1h0.6M273.6 312.5h0.6M257.0 322.7h0.6M260.0 296.8h0.6M267.9 310.7h0.6M267.1 300.6h0.6M246.7 308.2h0.6M258.6 288.3h0.6M269.3 312.2h0.6M246.1 315.5h0.6M267.2 319.2h0.6M266.7 302.3h0.6M271.5 313.1h0.6" stroke="#8a8a8a" stroke-width="0.6" fill="none" opacity="0.6"/>
<path d="M247.5,316.5 C250,319.5 254,321 258,320.5 C263,319.8 268,317 272,315.5 C275,314.5 277,313.5 278,311.5" fill="none" stroke="#8a8a8a" stroke-width="0.5"/>
<text x="350.6" y="12" font-family="'Liberation Sans', sans-serif" font-size="14.8" font-weight="bold" fill="#111" text-anchor="start" stroke="#111" stroke-width="0.2" >C</text>
<rect x="378" y="4.3" width="122.4" height="111" fill="none" stroke="#b5b5b5" stroke-width="0.9"/>
<line x1="378" y1="4.3" x2="378" y2="115.3" stroke="#999" stroke-width="0.9" />
<line x1="378" y1="115.3" x2="500.4" y2="115.3" stroke="#888" stroke-width="0.9" />
<line x1="375.5" y1="115.3" x2="378" y2="115.3" stroke="#999" stroke-width="0.7" />
<text x="373" y="116.6" font-family="'Liberation Sans', sans-serif" font-size="3.8" font-weight="bold" fill="#888" text-anchor="end"  >0</text>
<line x1="375.5" y1="87.9" x2="378" y2="87.9" stroke="#999" stroke-width="0.7" />
<text x="373" y="89.2" font-family="'Liberation Sans', sans-serif" font-size="3.8" font-weight="bold" fill="#888" text-anchor="end"  >20</text>
<line x1="375.5" y1="60.5" x2="378" y2="60.5" stroke="#999" stroke-width="0.7" />
<text x="373" y="61.8" font-family="'Liberation Sans', sans-serif" font-size="3.8" font-weight="bold" fill="#888" text-anchor="end"  >40</text>
<line x1="375.5" y1="33.1" x2="378" y2="33.1" stroke="#999" stroke-width="0.7" />
<text x="373" y="34.4" font-family="'Liberation Sans', sans-serif" font-size="3.8" font-weight="bold" fill="#888" text-anchor="end"  >60</text>
<line x1="375.5" y1="5.7" x2="378" y2="5.7" stroke="#999" stroke-width="0.7" />
<text x="373" y="7" font-family="'Liberation Sans', sans-serif" font-size="3.8" font-weight="bold" fill="#888" text-anchor="end"  >80</text>
<rect x="380.5" y="21.04" width="15.5" height="94.26" fill="#2a2a2a" stroke="#161616" stroke-width="0.8"/>
<line x1="388.25" y1="15.43" x2="388.25" y2="21.04" stroke="#8a8a8a" stroke-width="0.8" />
<line x1="384.8" y1="15.43" x2="391.7" y2="15.43" stroke="#9a9a9a" stroke-width="0.8" />
<rect x="401.4" y="88.04" width="15.5" height="27.26" fill="#2a2a2a" stroke="#161616" stroke-width="0.8"/>
<line x1="409.15" y1="81.32" x2="409.15" y2="88.04" stroke="#8a8a8a" stroke-width="0.8" />
<line x1="405.7" y1="81.32" x2="412.6" y2="81.32" stroke="#9a9a9a" stroke-width="0.8" />
<rect x="421.5" y="111.05" width="15.5" height="4.25" fill="#2a2a2a" stroke="#161616" stroke-width="0.8"/>
<line x1="429.25" y1="110.37" x2="429.25" y2="111.05" stroke="#8a8a8a" stroke-width="0.8" />
<line x1="425.8" y1="110.37" x2="432.7" y2="110.37" stroke="#9a9a9a" stroke-width="0.8" />
<rect x="441.7" y="96.26" width="15.5" height="19.04" fill="#2a2a2a" stroke="#161616" stroke-width="0.8"/>
<line x1="449.45" y1="94.2" x2="449.45" y2="96.26" stroke="#8a8a8a" stroke-width="0.8" />
<line x1="446" y1="94.2" x2="452.9" y2="94.2" stroke="#9a9a9a" stroke-width="0.8" />
<rect x="462.3" y="109" width="15.5" height="6.3" fill="#2a2a2a" stroke="#161616" stroke-width="0.8"/>
<line x1="470.05" y1="107.08" x2="470.05" y2="109" stroke="#8a8a8a" stroke-width="0.8" />
<line x1="466.6" y1="107.08" x2="473.5" y2="107.08" stroke="#9a9a9a" stroke-width="0.8" />
<rect x="482.5" y="114.2" width="15.5" height="1.1" fill="#cfcfcf" stroke="#777" stroke-width="0.8"/>
<text x="0" y="0" font-family="'Liberation Sans', sans-serif" font-size="8.8" font-weight="bold" fill="#1a1a1a" text-anchor="start" stroke="#1a1a1a" stroke-width="0.2" transform="translate(362.7,85.8) rotate(-90)">% MHCII+ DC</text>
<text x="0" y="0" font-family="'Liberation Sans', sans-serif" font-size="10" font-weight="bold" fill="#111" stroke="#111" stroke-width="0.2" text-anchor="end" transform="translate(394,122.3) rotate(-45)">B6</text>
<text x="0" y="0" font-family="'Liberation Sans', sans-serif" font-size="10" font-weight="bold" fill="#111" stroke="#111" stroke-width="0.2" text-anchor="end" transform="translate(416.5,123.3) rotate(-45)">RFX5<tspan font-size="8.6" dy="-1.4">-/-</tspan></text>
<text x="0" y="0" font-family="'Liberation Sans', sans-serif" font-size="10" font-weight="bold" fill="#111" stroke="#111" stroke-width="0.2" text-anchor="end" transform="translate(435,123.8) rotate(-45)">CIITA<tspan font-size="8.6" dy="-1.4">-/-</tspan></text>
<text x="0" y="0" font-family="'Liberation Sans', sans-serif" font-size="10" font-weight="bold" fill="#111" stroke="#111" stroke-width="0.2" text-anchor="end" transform="translate(455.8,123.5) rotate(-45)">CR<tspan font-size="8.6" dy="-1.4">-/-</tspan></text>
<text x="0" y="0" font-family="'Liberation Sans', sans-serif" font-size="10" font-weight="bold" fill="#111" stroke="#111" stroke-width="0.2" text-anchor="end" transform="translate(472.5,123.5) rotate(-45)">CIITA<tspan font-size="8.6" dy="-1.4">-/-</tspan></text>
<text x="0" y="0" font-family="'Liberation Sans', sans-serif" font-size="10" font-weight="bold" fill="#111" stroke="#111" stroke-width="0.2" text-anchor="end" transform="translate(481.8,129.5) rotate(-45)">RFX5<tspan font-size="8.6" dy="-1.4">+/-</tspan></text>
<text x="0" y="0" font-family="'Liberation Sans', sans-serif" font-size="10" font-weight="bold" fill="#111" stroke="#111" stroke-width="0.2" text-anchor="end" transform="translate(498.8,123.5) rotate(-45)">A<tspan font-family="'Liberation Serif', serif" font-weight="normal" font-size="10">&#945;</tspan><tspan font-size="8.6" dy="-1.4">-/-</tspan></text>
<text x="353.6" y="161.8" font-family="'Liberation Sans', sans-serif" font-size="14.8" font-weight="bold" fill="#111" text-anchor="start" stroke="#111" stroke-width="0.2" >D</text>
<rect x="380.6" y="167.5" width="137.4" height="98" fill="none" stroke="#aaa" stroke-width="0.9"/>
<line x1="380.6" y1="167.5" x2="380.6" y2="268.5" stroke="#777" stroke-width="0.9" />
<line x1="380.6" y1="265.5" x2="518" y2="265.5" stroke="#555" stroke-width="0.9" />
<line x1="377.6" y1="265.5" x2="380.6" y2="265.5" stroke="#777" stroke-width="0.8" />
<text x="376" y="267.3" font-family="'Liberation Sans', sans-serif" font-size="5.0" font-weight="bold" fill="#222" text-anchor="end"  >0</text>
<line x1="377.6" y1="253.25" x2="380.6" y2="253.25" stroke="#777" stroke-width="0.8" />
<text x="376" y="255.05" font-family="'Liberation Sans', sans-serif" font-size="5.0" font-weight="bold" fill="#222" text-anchor="end"  >0.2</text>
<line x1="377.6" y1="241" x2="380.6" y2="241" stroke="#777" stroke-width="0.8" />
<text x="376" y="242.8" font-family="'Liberation Sans', sans-serif" font-size="5.0" font-weight="bold" fill="#222" text-anchor="end"  >0.4</text>
<line x1="377.6" y1="228.75" x2="380.6" y2="228.75" stroke="#777" stroke-width="0.8" />
<text x="376" y="230.55" font-family="'Liberation Sans', sans-serif" font-size="5.0" font-weight="bold" fill="#222" text-anchor="end"  >0.6</text>
<line x1="377.6" y1="216.5" x2="380.6" y2="216.5" stroke="#777" stroke-width="0.8" />
<text x="376" y="218.3" font-family="'Liberation Sans', sans-serif" font-size="5.0" font-weight="bold" fill="#222" text-anchor="end"  >0.8</text>
<line x1="377.6" y1="204.25" x2="380.6" y2="204.25" stroke="#777" stroke-width="0.8" />
<text x="376" y="206.05" font-family="'Liberation Sans', sans-serif" font-size="5.0" font-weight="bold" fill="#222" text-anchor="end"  >1.0</text>
<line x1="377.6" y1="192" x2="380.6" y2="192" stroke="#777" stroke-width="0.8" />
<text x="376" y="193.8" font-family="'Liberation Sans', sans-serif" font-size="5.0" font-weight="bold" fill="#222" text-anchor="end"  >1.2</text>
<line x1="377.6" y1="179.75" x2="380.6" y2="179.75" stroke="#777" stroke-width="0.8" />
<text x="376" y="181.55" font-family="'Liberation Sans', sans-serif" font-size="5.0" font-weight="bold" fill="#222" text-anchor="end"  >1.4</text>
<line x1="377.6" y1="167.5" x2="380.6" y2="167.5" stroke="#777" stroke-width="0.8" />
<text x="376" y="169.3" font-family="'Liberation Sans', sans-serif" font-size="5.0" font-weight="bold" fill="#222" text-anchor="end"  >1.6</text>
<rect x="383.5" y="204.25" width="12.6" height="61.25" fill="#9c9c9c" stroke="#666" stroke-width="0.7"/>
<line x1="389.8" y1="190.78" x2="389.8" y2="215.89" stroke="#555" stroke-width="0.7" />
<line x1="388.3" y1="190.78" x2="391.3" y2="190.78" stroke="#555" stroke-width="0.7" />
<line x1="388.3" y1="215.89" x2="391.3" y2="215.89" stroke="#555" stroke-width="0.7" />
<text x="389.8" y="188.58" font-family="'Liberation Sans', sans-serif" font-size="5.4" font-weight="bold" fill="#1a1a1a" text-anchor="middle"  >1.000</text>
<rect x="399.6" y="253.56" width="12.6" height="11.94" fill="#9c9c9c" stroke="#666" stroke-width="0.7"/>
<line x1="405.9" y1="248.96" x2="405.9" y2="257.54" stroke="#555" stroke-width="0.7" />
<line x1="404.4" y1="248.96" x2="407.4" y2="248.96" stroke="#555" stroke-width="0.7" />
<line x1="404.4" y1="257.54" x2="407.4" y2="257.54" stroke="#555" stroke-width="0.7" />
<text x="405.9" y="246.76" font-family="'Liberation Sans', sans-serif" font-size="5.4" font-weight="bold" fill="#1a1a1a" text-anchor="middle"  >0.195</text>
<rect x="416.6" y="261.09" width="12.6" height="4.41" fill="#9c9c9c" stroke="#666" stroke-width="0.7"/>
<line x1="422.9" y1="260.29" x2="422.9" y2="261.82" stroke="#555" stroke-width="0.7" />
<line x1="421.4" y1="260.29" x2="424.4" y2="260.29" stroke="#555" stroke-width="0.7" />
<line x1="421.4" y1="261.82" x2="424.4" y2="261.82" stroke="#555" stroke-width="0.7" />
<text x="422.9" y="258.09" font-family="'Liberation Sans', sans-serif" font-size="5.4" font-weight="bold" fill="#1a1a1a" text-anchor="middle"  >0.072</text>
<rect x="433.6" y="253.19" width="12.6" height="12.31" fill="#9c9c9c" stroke="#666" stroke-width="0.7"/>
<line x1="439.9" y1="252.33" x2="439.9" y2="253.86" stroke="#555" stroke-width="0.7" />
<line x1="438.4" y1="252.33" x2="441.4" y2="252.33" stroke="#555" stroke-width="0.7" />
<line x1="438.4" y1="253.86" x2="441.4" y2="253.86" stroke="#555" stroke-width="0.7" />
<text x="439.9" y="250.13" font-family="'Liberation Sans', sans-serif" font-size="5.4" font-weight="bold" fill="#1a1a1a" text-anchor="middle"  >0.201</text>
<rect x="452.8" y="204.25" width="12.6" height="61.25" fill="#9c9c9c" stroke="#666" stroke-width="0.7"/>
<line x1="459.1" y1="180.98" x2="459.1" y2="221.4" stroke="#555" stroke-width="0.7" />
<line x1="457.6" y1="180.98" x2="460.6" y2="180.98" stroke="#555" stroke-width="0.7" />
<line x1="457.6" y1="221.4" x2="460.6" y2="221.4" stroke="#555" stroke-width="0.7" />
<text x="459.1" y="178.78" font-family="'Liberation Sans', sans-serif" font-size="5.4" font-weight="bold" fill="#1a1a1a" text-anchor="middle"  >1.000</text>
<rect x="468.7" y="264.27" width="12.6" height="1.23" fill="#9c9c9c" stroke="#666" stroke-width="0.7"/>
<text x="475" y="261.27" font-family="'Liberation Sans', sans-serif" font-size="5.4" font-weight="bold" fill="#1a1a1a" text-anchor="middle"  >0.020</text>
<rect x="485.5" y="263.97" width="12.6" height="1.53" fill="#9c9c9c" stroke="#666" stroke-width="0.7"/>
<text x="491.8" y="260.97" font-family="'Liberation Sans', sans-serif" font-size="5.4" font-weight="bold" fill="#1a1a1a" text-anchor="middle"  >0.025</text>
<rect x="502.8" y="263.91" width="12.6" height="1.59" fill="#9c9c9c" stroke="#666" stroke-width="0.7"/>
<text x="509.1" y="260.91" font-family="'Liberation Sans', sans-serif" font-size="5.4" font-weight="bold" fill="#1a1a1a" text-anchor="middle"  >0.026</text>
<text x="516.6" y="176.6" font-family="'Liberation Sans', sans-serif" font-size="10.4" font-weight="bold" fill="#111" text-anchor="end">I-A<tspan font-family="'Liberation Serif', serif" font-size="10" font-weight="normal">&#945;</tspan></text>
<rect x="380.6" y="265.5" width="137.4" height="98.8" fill="none" stroke="#aaa" stroke-width="0.9"/>
<line x1="380.6" y1="265.5" x2="380.6" y2="367.3" stroke="#777" stroke-width="0.9" />
<line x1="380.6" y1="364.3" x2="518" y2="364.3" stroke="#555" stroke-width="0.9" />
<line x1="377.6" y1="364.3" x2="380.6" y2="364.3" stroke="#777" stroke-width="0.8" />
<text x="376" y="366.1" font-family="'Liberation Sans', sans-serif" font-size="5.0" font-weight="bold" fill="#222" text-anchor="end"  >0</text>
<line x1="377.6" y1="351.95" x2="380.6" y2="351.95" stroke="#777" stroke-width="0.8" />
<text x="376" y="353.75" font-family="'Liberation Sans', sans-serif" font-size="5.0" font-weight="bold" fill="#222" text-anchor="end"  >0.2</text>
<line x1="377.6" y1="339.6" x2="380.6" y2="339.6" stroke="#777" stroke-width="0.8" />
<text x="376" y="341.4" font-family="'Liberation Sans', sans-serif" font-size="5.0" font-weight="bold" fill="#222" text-anchor="end"  >0.4</text>
<line x1="377.6" y1="327.25" x2="380.6" y2="327.25" stroke="#777" stroke-width="0.8" />
<text x="376" y="329.05" font-family="'Liberation Sans', sans-serif" font-size="5.0" font-weight="bold" fill="#222" text-anchor="end"  >0.6</text>
<line x1="377.6" y1="314.9" x2="380.6" y2="314.9" stroke="#777" stroke-width="0.8" />
<text x="376" y="316.7" font-family="'Liberation Sans', sans-serif" font-size="5.0" font-weight="bold" fill="#222" text-anchor="end"  >0.8</text>
<line x1="377.6" y1="302.55" x2="380.6" y2="302.55" stroke="#777" stroke-width="0.8" />
<text x="376" y="304.35" font-family="'Liberation Sans', sans-serif" font-size="5.0" font-weight="bold" fill="#222" text-anchor="end"  >1.0</text>
<line x1="377.6" y1="290.2" x2="380.6" y2="290.2" stroke="#777" stroke-width="0.8" />
<text x="376" y="292" font-family="'Liberation Sans', sans-serif" font-size="5.0" font-weight="bold" fill="#222" text-anchor="end"  >1.2</text>
<line x1="377.6" y1="277.85" x2="380.6" y2="277.85" stroke="#777" stroke-width="0.8" />
<text x="376" y="279.65" font-family="'Liberation Sans', sans-serif" font-size="5.0" font-weight="bold" fill="#222" text-anchor="end"  >1.4</text>
<line x1="377.6" y1="265.5" x2="380.6" y2="265.5" stroke="#777" stroke-width="0.8" />
<rect x="383.5" y="302.55" width="12.6" height="61.75" fill="#9c9c9c" stroke="#666" stroke-width="0.7"/>
<line x1="389.8" y1="289.58" x2="389.8" y2="313.67" stroke="#555" stroke-width="0.7" />
<line x1="388.3" y1="289.58" x2="391.3" y2="289.58" stroke="#555" stroke-width="0.7" />
<line x1="388.3" y1="313.67" x2="391.3" y2="313.67" stroke="#555" stroke-width="0.7" />
<text x="389.8" y="287.38" font-family="'Liberation Sans', sans-serif" font-size="5.4" font-weight="bold" fill="#1a1a1a" text-anchor="middle"  >1.000</text>
<rect x="399.6" y="342.44" width="12.6" height="21.86" fill="#9c9c9c" stroke="#666" stroke-width="0.7"/>
<line x1="405.9" y1="337.75" x2="405.9" y2="347.63" stroke="#555" stroke-width="0.7" />
<line x1="404.4" y1="337.75" x2="407.4" y2="337.75" stroke="#555" stroke-width="0.7" />
<line x1="404.4" y1="347.63" x2="407.4" y2="347.63" stroke="#555" stroke-width="0.7" />
<text x="405.9" y="335.55" font-family="'Liberation Sans', sans-serif" font-size="5.4" font-weight="bold" fill="#1a1a1a" text-anchor="middle"  >0.354</text>
<rect x="416.6" y="363.56" width="12.6" height="0.74" fill="#9c9c9c" stroke="#666" stroke-width="0.7"/>
<text x="422.9" y="360.56" font-family="'Liberation Sans', sans-serif" font-size="5.4" font-weight="bold" fill="#1a1a1a" text-anchor="middle"  >0.012</text>
<rect x="433.6" y="352.94" width="12.6" height="11.36" fill="#9c9c9c" stroke="#666" stroke-width="0.7"/>
<line x1="439.9" y1="352.26" x2="439.9" y2="353.49" stroke="#555" stroke-width="0.7" />
<line x1="438.4" y1="352.26" x2="441.4" y2="352.26" stroke="#555" stroke-width="0.7" />
<line x1="438.4" y1="353.49" x2="441.4" y2="353.49" stroke="#555" stroke-width="0.7" />
<text x="439.9" y="350.06" font-family="'Liberation Sans', sans-serif" font-size="5.4" font-weight="bold" fill="#1a1a1a" text-anchor="middle"  >0.184</text>
<rect x="452.8" y="302.55" width="12.6" height="61.75" fill="#9c9c9c" stroke="#666" stroke-width="0.7"/>
<line x1="459.1" y1="277.85" x2="459.1" y2="319.84" stroke="#555" stroke-width="0.7" />
<line x1="457.6" y1="277.85" x2="460.6" y2="277.85" stroke="#555" stroke-width="0.7" />
<line x1="457.6" y1="319.84" x2="460.6" y2="319.84" stroke="#555" stroke-width="0.7" />
<text x="459.1" y="275.65" font-family="'Liberation Sans', sans-serif" font-size="5.4" font-weight="bold" fill="#1a1a1a" text-anchor="middle"  >1.000</text>
<rect x="468.7" y="346.21" width="12.6" height="18.09" fill="#9c9c9c" stroke="#666" stroke-width="0.7"/>
<line x1="475" y1="345.78" x2="475" y2="346.7" stroke="#555" stroke-width="0.7" />
<line x1="473.5" y1="345.78" x2="476.5" y2="345.78" stroke="#555" stroke-width="0.7" />
<line x1="473.5" y1="346.7" x2="476.5" y2="346.7" stroke="#555" stroke-width="0.7" />
<text x="475" y="343.58" font-family="'Liberation Sans', sans-serif" font-size="5.4" font-weight="bold" fill="#1a1a1a" text-anchor="middle"  >0.293</text>
<rect x="485.5" y="363.93" width="12.6" height="0.37" fill="#9c9c9c" stroke="#666" stroke-width="0.7"/>
<text x="491.8" y="360.93" font-family="'Liberation Sans', sans-serif" font-size="5.4" font-weight="bold" fill="#1a1a1a" text-anchor="middle"  >0.006</text>
<rect x="502.8" y="352.75" width="12.6" height="11.55" fill="#9c9c9c" stroke="#666" stroke-width="0.7"/>
<line x1="509.1" y1="352.26" x2="509.1" y2="353.19" stroke="#555" stroke-width="0.7" />
<line x1="507.6" y1="352.26" x2="510.6" y2="352.26" stroke="#555" stroke-width="0.7" />
<line x1="507.6" y1="353.19" x2="510.6" y2="353.19" stroke="#555" stroke-width="0.7" />
<text x="509.1" y="350.06" font-family="'Liberation Sans', sans-serif" font-size="5.4" font-weight="bold" fill="#1a1a1a" text-anchor="middle"  >0.187</text>
<text x="516.6" y="275.4" font-family="'Liberation Sans', sans-serif" font-size="10.4" font-weight="bold" fill="#111" text-anchor="end">I-A<tspan font-family="'Liberation Serif', serif" font-size="10" font-weight="normal">&#946;</tspan></text>
<text x="0" y="0" font-family="'Liberation Sans', sans-serif" font-size="9.2" font-weight="bold" fill="#1a1a1a" text-anchor="start" stroke="#1a1a1a" stroke-width="0.2" transform="translate(362.1,247.7) rotate(-90) scale(0.915,1)">Relative Expression</text>
<text x="0" y="0" font-family="'Liberation Sans', sans-serif" font-size="9.2" font-weight="bold" fill="#1a1a1a" text-anchor="start" stroke="#1a1a1a" stroke-width="0.2" transform="translate(362.8,352.6) rotate(-90) scale(0.915,1)">Relative Expression</text>
<text x="0" y="0" font-family="'Liberation Sans', sans-serif" font-size="10" font-weight="bold" fill="#111" stroke="#111" stroke-width="0.2" text-anchor="end" transform="translate(393,370.3) rotate(-45)">B6</text>
<text x="0" y="0" font-family="'Liberation Sans', sans-serif" font-size="10" font-weight="bold" fill="#111" stroke="#111" stroke-width="0.2" text-anchor="end" transform="translate(410.7,370.3) rotate(-45)">RFX5<tspan font-size="8.6" dy="-1.4">-/-</tspan></text>
<text x="0" y="0" font-family="'Liberation Sans', sans-serif" font-size="10" font-weight="bold" fill="#111" stroke="#111" stroke-width="0.2" text-anchor="end" transform="translate(427.7,370.3) rotate(-45)">CIITA<tspan font-size="8.6" dy="-1.4">-/-</tspan></text>
<text x="0" y="0" font-family="'Liberation Sans', sans-serif" font-size="10" font-weight="bold" fill="#111" stroke="#111" stroke-width="0.2" text-anchor="end" transform="translate(447.7,370.3) rotate(-45)">CR<tspan font-size="8.6" dy="-1.4">-/-</tspan></text>
<text x="0" y="0" font-family="'Liberation Sans', sans-serif" font-size="10" font-weight="bold" fill="#111" stroke="#111" stroke-width="0.2" text-anchor="end" transform="translate(463.8,370.3) rotate(-45)">B6</text>
<text x="0" y="0" font-family="'Liberation Sans', sans-serif" font-size="10" font-weight="bold" fill="#111" stroke="#111" stroke-width="0.2" text-anchor="end" transform="translate(482.2,370.3) rotate(-45)">RFX5<tspan font-size="8.6" dy="-1.4">-/-</tspan></text>
<text x="0" y="0" font-family="'Liberation Sans', sans-serif" font-size="10" font-weight="bold" fill="#111" stroke="#111" stroke-width="0.2" text-anchor="end" transform="translate(499.2,370.3) rotate(-45)">CIITA<tspan font-size="8.6" dy="-1.4">-/-</tspan></text>
<text x="0" y="0" font-family="'Liberation Sans', sans-serif" font-size="10" font-weight="bold" fill="#111" stroke="#111" stroke-width="0.2" text-anchor="end" transform="translate(516.7,370.3) rotate(-45)">CR<tspan font-size="8.6" dy="-1.4">-/-</tspan></text>
<line x1="383.2" y1="401.1" x2="447.7" y2="401.1" stroke="#999" stroke-width="1" />
<line x1="451.4" y1="401.1" x2="517.7" y2="401.1" stroke="#999" stroke-width="1" />
<text x="414.7" y="410.5" font-family="'Liberation Sans', sans-serif" font-size="8.6" font-weight="bold" fill="#111" text-anchor="middle" stroke="#111" stroke-width="0.2" >Thymus</text>
<text x="485.6" y="410.5" font-family="'Liberation Sans', sans-serif" font-size="8.6" font-weight="bold" fill="#111" text-anchor="middle" stroke="#111" stroke-width="0.2" >Spleen</text>
</svg>
</body></html>
